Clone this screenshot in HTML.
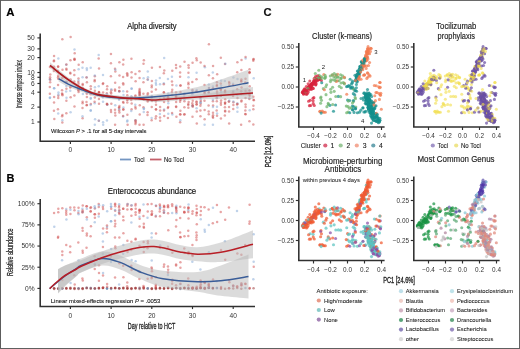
<!DOCTYPE html>
<html><head><meta charset="utf-8"><style>
html,body{margin:0;padding:0;background:#fff;}
#fig{position:absolute;left:0;top:0;width:520px;height:349px;overflow:hidden;background:#fff;}
svg{display:block;font-family:"Liberation Sans", sans-serif;filter:blur(0.35px);}
.bd{position:absolute;}
</style></head><body><div id="fig">
<svg width="520" height="349" viewBox="0 0 520 349">
<rect x="0" y="0" width="520" height="349" fill="#fff"/>
<text x="6.30" y="16.00" font-size="11.4" text-anchor="start" fill="#000" font-weight="bold" stroke="#000" stroke-width="0.16">A</text>
<text x="151.90" y="28.80" font-size="8.7" text-anchor="middle" fill="#111" font-weight="normal" textLength="49.5" lengthAdjust="spacingAndGlyphs" stroke="#111" stroke-width="0.16">Alpha diversity</text>
<circle cx="49.85" cy="97.94" r="1.25" fill="#7fa6d6" fill-opacity="0.48"/>
<circle cx="49.92" cy="67.05" r="1.25" fill="#c84646" fill-opacity="0.48"/>
<circle cx="50.27" cy="79.85" r="1.25" fill="#c84646" fill-opacity="0.48"/>
<circle cx="49.91" cy="79.00" r="1.25" fill="#c84646" fill-opacity="0.48"/>
<circle cx="50.07" cy="77.24" r="1.25" fill="#c84646" fill-opacity="0.48"/>
<circle cx="49.89" cy="93.63" r="1.25" fill="#c84646" fill-opacity="0.48"/>
<circle cx="50.11" cy="82.33" r="1.25" fill="#c84646" fill-opacity="0.48"/>
<circle cx="49.98" cy="97.53" r="1.25" fill="#7fa6d6" fill-opacity="0.48"/>
<circle cx="49.84" cy="79.45" r="1.25" fill="#7fa6d6" fill-opacity="0.48"/>
<circle cx="49.84" cy="87.10" r="1.25" fill="#c84646" fill-opacity="0.48"/>
<circle cx="50.27" cy="74.49" r="1.25" fill="#c84646" fill-opacity="0.48"/>
<circle cx="54.03" cy="88.29" r="1.25" fill="#7fa6d6" fill-opacity="0.48"/>
<circle cx="54.10" cy="96.90" r="1.25" fill="#c84646" fill-opacity="0.48"/>
<circle cx="53.90" cy="61.27" r="1.25" fill="#c84646" fill-opacity="0.48"/>
<circle cx="54.06" cy="102.48" r="1.25" fill="#c84646" fill-opacity="0.48"/>
<circle cx="53.95" cy="110.73" r="1.25" fill="#c84646" fill-opacity="0.48"/>
<circle cx="54.07" cy="55.88" r="1.25" fill="#c84646" fill-opacity="0.48"/>
<circle cx="54.31" cy="118.90" r="1.25" fill="#c84646" fill-opacity="0.48"/>
<circle cx="54.05" cy="66.65" r="1.25" fill="#c84646" fill-opacity="0.48"/>
<circle cx="53.99" cy="60.40" r="1.25" fill="#c84646" fill-opacity="0.48"/>
<circle cx="54.00" cy="68.89" r="1.25" fill="#c84646" fill-opacity="0.48"/>
<circle cx="54.22" cy="88.32" r="1.25" fill="#7fa6d6" fill-opacity="0.48"/>
<circle cx="53.90" cy="70.90" r="1.25" fill="#c84646" fill-opacity="0.48"/>
<circle cx="58.26" cy="98.10" r="1.25" fill="#c84646" fill-opacity="0.48"/>
<circle cx="57.97" cy="71.09" r="1.25" fill="#c84646" fill-opacity="0.48"/>
<circle cx="58.12" cy="75.67" r="1.25" fill="#c84646" fill-opacity="0.48"/>
<circle cx="58.11" cy="66.45" r="1.25" fill="#c84646" fill-opacity="0.48"/>
<circle cx="58.44" cy="92.48" r="1.25" fill="#7fa6d6" fill-opacity="0.48"/>
<circle cx="58.07" cy="85.04" r="1.25" fill="#c84646" fill-opacity="0.48"/>
<circle cx="58.20" cy="113.50" r="1.25" fill="#7fa6d6" fill-opacity="0.48"/>
<circle cx="58.20" cy="78.84" r="1.25" fill="#c84646" fill-opacity="0.48"/>
<circle cx="58.12" cy="66.69" r="1.25" fill="#c84646" fill-opacity="0.48"/>
<circle cx="58.05" cy="77.15" r="1.25" fill="#c84646" fill-opacity="0.48"/>
<circle cx="58.35" cy="58.59" r="1.25" fill="#7fa6d6" fill-opacity="0.48"/>
<circle cx="57.95" cy="109.15" r="1.25" fill="#c84646" fill-opacity="0.48"/>
<circle cx="58.29" cy="95.71" r="1.25" fill="#c84646" fill-opacity="0.48"/>
<circle cx="58.42" cy="94.44" r="1.25" fill="#7fa6d6" fill-opacity="0.48"/>
<circle cx="62.50" cy="69.65" r="1.25" fill="#c84646" fill-opacity="0.48"/>
<circle cx="62.33" cy="39.16" r="1.25" fill="#c84646" fill-opacity="0.48"/>
<circle cx="62.11" cy="116.27" r="1.25" fill="#c84646" fill-opacity="0.48"/>
<circle cx="62.48" cy="95.33" r="1.25" fill="#c84646" fill-opacity="0.48"/>
<circle cx="62.09" cy="93.38" r="1.25" fill="#c84646" fill-opacity="0.48"/>
<circle cx="62.34" cy="122.43" r="1.25" fill="#c84646" fill-opacity="0.48"/>
<circle cx="62.28" cy="94.15" r="1.25" fill="#c84646" fill-opacity="0.48"/>
<circle cx="62.06" cy="90.26" r="1.25" fill="#c84646" fill-opacity="0.48"/>
<circle cx="62.45" cy="114.98" r="1.25" fill="#c84646" fill-opacity="0.48"/>
<circle cx="62.28" cy="78.04" r="1.25" fill="#c84646" fill-opacity="0.48"/>
<circle cx="62.34" cy="120.21" r="1.25" fill="#7fa6d6" fill-opacity="0.48"/>
<circle cx="66.35" cy="68.66" r="1.25" fill="#c84646" fill-opacity="0.48"/>
<circle cx="66.48" cy="69.69" r="1.25" fill="#c84646" fill-opacity="0.48"/>
<circle cx="66.36" cy="82.28" r="1.25" fill="#c84646" fill-opacity="0.48"/>
<circle cx="66.36" cy="100.83" r="1.25" fill="#c84646" fill-opacity="0.48"/>
<circle cx="66.33" cy="85.91" r="1.25" fill="#7fa6d6" fill-opacity="0.48"/>
<circle cx="66.33" cy="82.11" r="1.25" fill="#c84646" fill-opacity="0.48"/>
<circle cx="66.35" cy="113.34" r="1.25" fill="#c84646" fill-opacity="0.48"/>
<circle cx="66.21" cy="64.67" r="1.25" fill="#7fa6d6" fill-opacity="0.48"/>
<circle cx="66.15" cy="91.39" r="1.25" fill="#7fa6d6" fill-opacity="0.48"/>
<circle cx="66.41" cy="88.80" r="1.25" fill="#c84646" fill-opacity="0.48"/>
<circle cx="66.41" cy="64.45" r="1.25" fill="#c84646" fill-opacity="0.48"/>
<circle cx="66.19" cy="82.12" r="1.25" fill="#7fa6d6" fill-opacity="0.48"/>
<circle cx="66.50" cy="97.71" r="1.25" fill="#7fa6d6" fill-opacity="0.48"/>
<circle cx="70.20" cy="72.68" r="1.25" fill="#c84646" fill-opacity="0.48"/>
<circle cx="70.50" cy="86.74" r="1.25" fill="#c84646" fill-opacity="0.48"/>
<circle cx="70.61" cy="97.33" r="1.25" fill="#c84646" fill-opacity="0.48"/>
<circle cx="70.29" cy="87.45" r="1.25" fill="#c84646" fill-opacity="0.48"/>
<circle cx="70.57" cy="112.16" r="1.25" fill="#7fa6d6" fill-opacity="0.48"/>
<circle cx="70.40" cy="73.40" r="1.25" fill="#c84646" fill-opacity="0.48"/>
<circle cx="70.24" cy="90.76" r="1.25" fill="#7fa6d6" fill-opacity="0.48"/>
<circle cx="70.45" cy="60.24" r="1.25" fill="#c84646" fill-opacity="0.48"/>
<circle cx="70.61" cy="36.98" r="1.25" fill="#c84646" fill-opacity="0.48"/>
<circle cx="70.62" cy="79.47" r="1.25" fill="#c84646" fill-opacity="0.48"/>
<circle cx="74.32" cy="74.94" r="1.25" fill="#c84646" fill-opacity="0.48"/>
<circle cx="74.62" cy="59.81" r="1.25" fill="#c84646" fill-opacity="0.48"/>
<circle cx="74.48" cy="49.53" r="1.25" fill="#7fa6d6" fill-opacity="0.48"/>
<circle cx="74.49" cy="106.39" r="1.25" fill="#c84646" fill-opacity="0.48"/>
<circle cx="74.33" cy="59.56" r="1.25" fill="#c84646" fill-opacity="0.48"/>
<circle cx="74.29" cy="81.53" r="1.25" fill="#c84646" fill-opacity="0.48"/>
<circle cx="74.53" cy="58.79" r="1.25" fill="#c84646" fill-opacity="0.48"/>
<circle cx="74.41" cy="95.54" r="1.25" fill="#c84646" fill-opacity="0.48"/>
<circle cx="74.31" cy="70.19" r="1.25" fill="#c84646" fill-opacity="0.48"/>
<circle cx="74.71" cy="53.17" r="1.25" fill="#c84646" fill-opacity="0.48"/>
<circle cx="78.48" cy="78.38" r="1.25" fill="#c84646" fill-opacity="0.48"/>
<circle cx="78.54" cy="92.05" r="1.25" fill="#c84646" fill-opacity="0.48"/>
<circle cx="78.30" cy="90.11" r="1.25" fill="#c84646" fill-opacity="0.48"/>
<circle cx="78.55" cy="83.83" r="1.25" fill="#c84646" fill-opacity="0.48"/>
<circle cx="78.48" cy="80.42" r="1.25" fill="#7fa6d6" fill-opacity="0.48"/>
<circle cx="78.31" cy="82.04" r="1.25" fill="#c84646" fill-opacity="0.48"/>
<circle cx="78.70" cy="64.79" r="1.25" fill="#c84646" fill-opacity="0.48"/>
<circle cx="78.71" cy="90.32" r="1.25" fill="#c84646" fill-opacity="0.48"/>
<circle cx="78.63" cy="69.16" r="1.25" fill="#7fa6d6" fill-opacity="0.48"/>
<circle cx="78.34" cy="89.17" r="1.25" fill="#c84646" fill-opacity="0.48"/>
<circle cx="78.63" cy="87.02" r="1.25" fill="#c84646" fill-opacity="0.48"/>
<circle cx="82.83" cy="87.94" r="1.25" fill="#c84646" fill-opacity="0.48"/>
<circle cx="82.60" cy="118.14" r="1.25" fill="#c84646" fill-opacity="0.48"/>
<circle cx="82.48" cy="67.84" r="1.25" fill="#7fa6d6" fill-opacity="0.48"/>
<circle cx="82.50" cy="116.25" r="1.25" fill="#7fa6d6" fill-opacity="0.48"/>
<circle cx="82.66" cy="84.91" r="1.25" fill="#c84646" fill-opacity="0.48"/>
<circle cx="82.60" cy="103.16" r="1.25" fill="#c84646" fill-opacity="0.48"/>
<circle cx="82.47" cy="107.97" r="1.25" fill="#c84646" fill-opacity="0.48"/>
<circle cx="82.86" cy="94.07" r="1.25" fill="#7fa6d6" fill-opacity="0.48"/>
<circle cx="82.60" cy="101.85" r="1.25" fill="#c84646" fill-opacity="0.48"/>
<circle cx="82.55" cy="77.21" r="1.25" fill="#7fa6d6" fill-opacity="0.48"/>
<circle cx="82.73" cy="62.21" r="1.25" fill="#c84646" fill-opacity="0.48"/>
<circle cx="82.68" cy="83.94" r="1.25" fill="#c84646" fill-opacity="0.48"/>
<circle cx="86.67" cy="77.36" r="1.25" fill="#7fa6d6" fill-opacity="0.48"/>
<circle cx="86.50" cy="77.44" r="1.25" fill="#c84646" fill-opacity="0.48"/>
<circle cx="86.43" cy="92.60" r="1.25" fill="#7fa6d6" fill-opacity="0.48"/>
<circle cx="86.79" cy="68.31" r="1.25" fill="#7fa6d6" fill-opacity="0.48"/>
<circle cx="86.93" cy="104.94" r="1.25" fill="#c84646" fill-opacity="0.48"/>
<circle cx="86.48" cy="101.99" r="1.25" fill="#c84646" fill-opacity="0.48"/>
<circle cx="86.56" cy="105.22" r="1.25" fill="#c84646" fill-opacity="0.48"/>
<circle cx="86.91" cy="82.13" r="1.25" fill="#c84646" fill-opacity="0.48"/>
<circle cx="86.90" cy="70.12" r="1.25" fill="#7fa6d6" fill-opacity="0.48"/>
<circle cx="86.81" cy="93.76" r="1.25" fill="#c84646" fill-opacity="0.48"/>
<circle cx="86.89" cy="97.12" r="1.25" fill="#c84646" fill-opacity="0.48"/>
<circle cx="90.83" cy="103.97" r="1.25" fill="#c84646" fill-opacity="0.48"/>
<circle cx="90.83" cy="89.10" r="1.25" fill="#c84646" fill-opacity="0.48"/>
<circle cx="90.78" cy="97.91" r="1.25" fill="#7fa6d6" fill-opacity="0.48"/>
<circle cx="90.71" cy="98.76" r="1.25" fill="#7fa6d6" fill-opacity="0.48"/>
<circle cx="90.68" cy="94.32" r="1.25" fill="#c84646" fill-opacity="0.48"/>
<circle cx="90.69" cy="110.79" r="1.25" fill="#7fa6d6" fill-opacity="0.48"/>
<circle cx="90.75" cy="110.26" r="1.25" fill="#7fa6d6" fill-opacity="0.48"/>
<circle cx="90.76" cy="86.37" r="1.25" fill="#c84646" fill-opacity="0.48"/>
<circle cx="90.69" cy="67.67" r="1.25" fill="#7fa6d6" fill-opacity="0.48"/>
<circle cx="90.56" cy="105.12" r="1.25" fill="#7fa6d6" fill-opacity="0.48"/>
<circle cx="94.86" cy="90.73" r="1.25" fill="#c84646" fill-opacity="0.48"/>
<circle cx="95.06" cy="119.21" r="1.25" fill="#7fa6d6" fill-opacity="0.48"/>
<circle cx="94.83" cy="76.30" r="1.25" fill="#c84646" fill-opacity="0.48"/>
<circle cx="94.80" cy="75.61" r="1.25" fill="#7fa6d6" fill-opacity="0.48"/>
<circle cx="94.69" cy="103.19" r="1.25" fill="#7fa6d6" fill-opacity="0.48"/>
<circle cx="94.70" cy="81.22" r="1.25" fill="#c84646" fill-opacity="0.48"/>
<circle cx="94.86" cy="97.58" r="1.25" fill="#c84646" fill-opacity="0.48"/>
<circle cx="94.58" cy="101.69" r="1.25" fill="#c84646" fill-opacity="0.48"/>
<circle cx="94.81" cy="124.76" r="1.25" fill="#7fa6d6" fill-opacity="0.48"/>
<circle cx="94.92" cy="87.28" r="1.25" fill="#7fa6d6" fill-opacity="0.48"/>
<circle cx="94.70" cy="80.00" r="1.25" fill="#c84646" fill-opacity="0.48"/>
<circle cx="94.59" cy="93.38" r="1.25" fill="#c84646" fill-opacity="0.48"/>
<circle cx="98.67" cy="55.02" r="1.25" fill="#7fa6d6" fill-opacity="0.48"/>
<circle cx="98.74" cy="86.21" r="1.25" fill="#7fa6d6" fill-opacity="0.48"/>
<circle cx="98.95" cy="99.05" r="1.25" fill="#c84646" fill-opacity="0.48"/>
<circle cx="98.94" cy="91.92" r="1.25" fill="#c84646" fill-opacity="0.48"/>
<circle cx="98.85" cy="120.64" r="1.25" fill="#c84646" fill-opacity="0.48"/>
<circle cx="99.00" cy="68.55" r="1.25" fill="#c84646" fill-opacity="0.48"/>
<circle cx="98.97" cy="92.30" r="1.25" fill="#c84646" fill-opacity="0.48"/>
<circle cx="99.00" cy="92.87" r="1.25" fill="#c84646" fill-opacity="0.48"/>
<circle cx="98.68" cy="58.58" r="1.25" fill="#c84646" fill-opacity="0.48"/>
<circle cx="98.83" cy="120.74" r="1.25" fill="#7fa6d6" fill-opacity="0.48"/>
<circle cx="98.99" cy="103.68" r="1.25" fill="#c84646" fill-opacity="0.48"/>
<circle cx="102.89" cy="83.96" r="1.25" fill="#c84646" fill-opacity="0.48"/>
<circle cx="103.09" cy="122.25" r="1.25" fill="#7fa6d6" fill-opacity="0.48"/>
<circle cx="103.08" cy="92.62" r="1.25" fill="#c84646" fill-opacity="0.48"/>
<circle cx="103.02" cy="101.66" r="1.25" fill="#7fa6d6" fill-opacity="0.48"/>
<circle cx="102.85" cy="96.26" r="1.25" fill="#c84646" fill-opacity="0.48"/>
<circle cx="102.72" cy="96.24" r="1.25" fill="#7fa6d6" fill-opacity="0.48"/>
<circle cx="103.19" cy="124.76" r="1.25" fill="#7fa6d6" fill-opacity="0.48"/>
<circle cx="102.80" cy="97.39" r="1.25" fill="#7fa6d6" fill-opacity="0.48"/>
<circle cx="103.01" cy="75.02" r="1.25" fill="#7fa6d6" fill-opacity="0.48"/>
<circle cx="103.10" cy="83.16" r="1.25" fill="#c84646" fill-opacity="0.48"/>
<circle cx="107.02" cy="104.31" r="1.25" fill="#c84646" fill-opacity="0.48"/>
<circle cx="106.83" cy="93.23" r="1.25" fill="#c84646" fill-opacity="0.48"/>
<circle cx="107.27" cy="104.65" r="1.25" fill="#7fa6d6" fill-opacity="0.48"/>
<circle cx="107.23" cy="104.62" r="1.25" fill="#c84646" fill-opacity="0.48"/>
<circle cx="106.93" cy="120.51" r="1.25" fill="#7fa6d6" fill-opacity="0.48"/>
<circle cx="106.91" cy="103.71" r="1.25" fill="#c84646" fill-opacity="0.48"/>
<circle cx="106.87" cy="94.35" r="1.25" fill="#7fa6d6" fill-opacity="0.48"/>
<circle cx="107.04" cy="89.20" r="1.25" fill="#c84646" fill-opacity="0.48"/>
<circle cx="107.22" cy="86.17" r="1.25" fill="#c84646" fill-opacity="0.48"/>
<circle cx="110.91" cy="63.29" r="1.25" fill="#c84646" fill-opacity="0.48"/>
<circle cx="111.32" cy="90.28" r="1.25" fill="#c84646" fill-opacity="0.48"/>
<circle cx="111.32" cy="89.37" r="1.25" fill="#7fa6d6" fill-opacity="0.48"/>
<circle cx="110.96" cy="109.93" r="1.25" fill="#c84646" fill-opacity="0.48"/>
<circle cx="111.18" cy="93.39" r="1.25" fill="#c84646" fill-opacity="0.48"/>
<circle cx="110.94" cy="54.11" r="1.25" fill="#c84646" fill-opacity="0.48"/>
<circle cx="110.90" cy="92.22" r="1.25" fill="#c84646" fill-opacity="0.48"/>
<circle cx="110.90" cy="76.33" r="1.25" fill="#c84646" fill-opacity="0.48"/>
<circle cx="111.33" cy="103.68" r="1.25" fill="#c84646" fill-opacity="0.48"/>
<circle cx="111.06" cy="111.98" r="1.25" fill="#c84646" fill-opacity="0.48"/>
<circle cx="115.00" cy="109.79" r="1.25" fill="#c84646" fill-opacity="0.48"/>
<circle cx="115.10" cy="90.66" r="1.25" fill="#c84646" fill-opacity="0.48"/>
<circle cx="115.32" cy="115.60" r="1.25" fill="#c84646" fill-opacity="0.48"/>
<circle cx="115.09" cy="124.76" r="1.25" fill="#c84646" fill-opacity="0.48"/>
<circle cx="115.11" cy="112.77" r="1.25" fill="#c84646" fill-opacity="0.48"/>
<circle cx="115.34" cy="71.44" r="1.25" fill="#c84646" fill-opacity="0.48"/>
<circle cx="114.96" cy="89.38" r="1.25" fill="#c84646" fill-opacity="0.48"/>
<circle cx="115.24" cy="105.31" r="1.25" fill="#7fa6d6" fill-opacity="0.48"/>
<circle cx="115.16" cy="82.85" r="1.25" fill="#c84646" fill-opacity="0.48"/>
<circle cx="114.99" cy="68.85" r="1.25" fill="#c84646" fill-opacity="0.48"/>
<circle cx="115.34" cy="69.87" r="1.25" fill="#7fa6d6" fill-opacity="0.48"/>
<circle cx="119.29" cy="91.31" r="1.25" fill="#c84646" fill-opacity="0.48"/>
<circle cx="119.20" cy="107.43" r="1.25" fill="#c84646" fill-opacity="0.48"/>
<circle cx="119.00" cy="107.64" r="1.25" fill="#c84646" fill-opacity="0.48"/>
<circle cx="119.22" cy="109.22" r="1.25" fill="#7fa6d6" fill-opacity="0.48"/>
<circle cx="119.05" cy="98.83" r="1.25" fill="#c84646" fill-opacity="0.48"/>
<circle cx="119.31" cy="87.39" r="1.25" fill="#c84646" fill-opacity="0.48"/>
<circle cx="119.25" cy="91.62" r="1.25" fill="#7fa6d6" fill-opacity="0.48"/>
<circle cx="119.42" cy="112.46" r="1.25" fill="#c84646" fill-opacity="0.48"/>
<circle cx="119.48" cy="75.45" r="1.25" fill="#c84646" fill-opacity="0.48"/>
<circle cx="119.07" cy="99.79" r="1.25" fill="#7fa6d6" fill-opacity="0.48"/>
<circle cx="119.37" cy="62.21" r="1.25" fill="#c84646" fill-opacity="0.48"/>
<circle cx="119.24" cy="90.96" r="1.25" fill="#c84646" fill-opacity="0.48"/>
<circle cx="119.15" cy="110.38" r="1.25" fill="#c84646" fill-opacity="0.48"/>
<circle cx="119.46" cy="105.95" r="1.25" fill="#c84646" fill-opacity="0.48"/>
<circle cx="123.08" cy="116.58" r="1.25" fill="#7fa6d6" fill-opacity="0.48"/>
<circle cx="123.40" cy="59.84" r="1.25" fill="#c84646" fill-opacity="0.48"/>
<circle cx="123.43" cy="107.46" r="1.25" fill="#7fa6d6" fill-opacity="0.48"/>
<circle cx="123.13" cy="83.15" r="1.25" fill="#c84646" fill-opacity="0.48"/>
<circle cx="123.21" cy="91.26" r="1.25" fill="#7fa6d6" fill-opacity="0.48"/>
<circle cx="123.50" cy="94.95" r="1.25" fill="#7fa6d6" fill-opacity="0.48"/>
<circle cx="123.17" cy="64.53" r="1.25" fill="#c84646" fill-opacity="0.48"/>
<circle cx="123.30" cy="109.44" r="1.25" fill="#c84646" fill-opacity="0.48"/>
<circle cx="123.34" cy="109.51" r="1.25" fill="#c84646" fill-opacity="0.48"/>
<circle cx="123.13" cy="115.98" r="1.25" fill="#c84646" fill-opacity="0.48"/>
<circle cx="123.07" cy="102.05" r="1.25" fill="#c84646" fill-opacity="0.48"/>
<circle cx="123.13" cy="77.09" r="1.25" fill="#c84646" fill-opacity="0.48"/>
<circle cx="123.47" cy="102.69" r="1.25" fill="#c84646" fill-opacity="0.48"/>
<circle cx="123.32" cy="84.61" r="1.25" fill="#c84646" fill-opacity="0.48"/>
<circle cx="127.40" cy="75.68" r="1.25" fill="#c84646" fill-opacity="0.48"/>
<circle cx="127.41" cy="99.51" r="1.25" fill="#c84646" fill-opacity="0.48"/>
<circle cx="127.38" cy="114.78" r="1.25" fill="#c84646" fill-opacity="0.48"/>
<circle cx="127.28" cy="95.25" r="1.25" fill="#c84646" fill-opacity="0.48"/>
<circle cx="127.13" cy="73.17" r="1.25" fill="#c84646" fill-opacity="0.48"/>
<circle cx="127.36" cy="74.57" r="1.25" fill="#c84646" fill-opacity="0.48"/>
<circle cx="127.15" cy="91.47" r="1.25" fill="#c84646" fill-opacity="0.48"/>
<circle cx="127.26" cy="99.91" r="1.25" fill="#c84646" fill-opacity="0.48"/>
<circle cx="127.39" cy="120.42" r="1.25" fill="#7fa6d6" fill-opacity="0.48"/>
<circle cx="127.14" cy="121.56" r="1.25" fill="#7fa6d6" fill-opacity="0.48"/>
<circle cx="127.60" cy="124.76" r="1.25" fill="#c84646" fill-opacity="0.48"/>
<circle cx="127.25" cy="102.47" r="1.25" fill="#c84646" fill-opacity="0.48"/>
<circle cx="131.44" cy="58.80" r="1.25" fill="#c84646" fill-opacity="0.48"/>
<circle cx="131.64" cy="96.97" r="1.25" fill="#c84646" fill-opacity="0.48"/>
<circle cx="131.29" cy="98.16" r="1.25" fill="#c84646" fill-opacity="0.48"/>
<circle cx="131.28" cy="99.94" r="1.25" fill="#c84646" fill-opacity="0.48"/>
<circle cx="131.52" cy="77.54" r="1.25" fill="#c84646" fill-opacity="0.48"/>
<circle cx="131.30" cy="96.31" r="1.25" fill="#7fa6d6" fill-opacity="0.48"/>
<circle cx="131.58" cy="88.66" r="1.25" fill="#7fa6d6" fill-opacity="0.48"/>
<circle cx="131.30" cy="98.36" r="1.25" fill="#c84646" fill-opacity="0.48"/>
<circle cx="131.58" cy="72.20" r="1.25" fill="#c84646" fill-opacity="0.48"/>
<circle cx="131.60" cy="109.26" r="1.25" fill="#c84646" fill-opacity="0.48"/>
<circle cx="131.67" cy="103.40" r="1.25" fill="#c84646" fill-opacity="0.48"/>
<circle cx="131.58" cy="88.45" r="1.25" fill="#7fa6d6" fill-opacity="0.48"/>
<circle cx="131.22" cy="110.93" r="1.25" fill="#7fa6d6" fill-opacity="0.48"/>
<circle cx="131.22" cy="98.42" r="1.25" fill="#c84646" fill-opacity="0.48"/>
<circle cx="135.27" cy="96.49" r="1.25" fill="#c84646" fill-opacity="0.48"/>
<circle cx="135.27" cy="104.70" r="1.25" fill="#7fa6d6" fill-opacity="0.48"/>
<circle cx="135.44" cy="124.04" r="1.25" fill="#c84646" fill-opacity="0.48"/>
<circle cx="135.38" cy="106.89" r="1.25" fill="#c84646" fill-opacity="0.48"/>
<circle cx="135.59" cy="98.99" r="1.25" fill="#c84646" fill-opacity="0.48"/>
<circle cx="135.45" cy="95.40" r="1.25" fill="#c84646" fill-opacity="0.48"/>
<circle cx="135.31" cy="120.30" r="1.25" fill="#7fa6d6" fill-opacity="0.48"/>
<circle cx="135.72" cy="122.59" r="1.25" fill="#c84646" fill-opacity="0.48"/>
<circle cx="135.54" cy="120.36" r="1.25" fill="#c84646" fill-opacity="0.48"/>
<circle cx="135.43" cy="74.05" r="1.25" fill="#c84646" fill-opacity="0.48"/>
<circle cx="135.64" cy="81.22" r="1.25" fill="#c84646" fill-opacity="0.48"/>
<circle cx="135.50" cy="121.57" r="1.25" fill="#c84646" fill-opacity="0.48"/>
<circle cx="135.62" cy="108.40" r="1.25" fill="#c84646" fill-opacity="0.48"/>
<circle cx="139.50" cy="91.84" r="1.25" fill="#c84646" fill-opacity="0.48"/>
<circle cx="139.70" cy="94.14" r="1.25" fill="#7fa6d6" fill-opacity="0.48"/>
<circle cx="139.53" cy="90.38" r="1.25" fill="#c84646" fill-opacity="0.48"/>
<circle cx="139.44" cy="71.26" r="1.25" fill="#c84646" fill-opacity="0.48"/>
<circle cx="139.54" cy="93.36" r="1.25" fill="#c84646" fill-opacity="0.48"/>
<circle cx="139.57" cy="78.02" r="1.25" fill="#c84646" fill-opacity="0.48"/>
<circle cx="139.71" cy="94.82" r="1.25" fill="#c84646" fill-opacity="0.48"/>
<circle cx="139.55" cy="95.59" r="1.25" fill="#c84646" fill-opacity="0.48"/>
<circle cx="139.77" cy="105.23" r="1.25" fill="#c84646" fill-opacity="0.48"/>
<circle cx="139.50" cy="124.76" r="1.25" fill="#c84646" fill-opacity="0.48"/>
<circle cx="139.65" cy="89.10" r="1.25" fill="#c84646" fill-opacity="0.48"/>
<circle cx="139.65" cy="92.43" r="1.25" fill="#c84646" fill-opacity="0.48"/>
<circle cx="139.73" cy="114.39" r="1.25" fill="#c84646" fill-opacity="0.48"/>
<circle cx="143.52" cy="63.70" r="1.25" fill="#c84646" fill-opacity="0.48"/>
<circle cx="143.58" cy="124.76" r="1.25" fill="#c84646" fill-opacity="0.48"/>
<circle cx="143.42" cy="93.81" r="1.25" fill="#c84646" fill-opacity="0.48"/>
<circle cx="143.64" cy="99.60" r="1.25" fill="#c84646" fill-opacity="0.48"/>
<circle cx="143.77" cy="112.01" r="1.25" fill="#7fa6d6" fill-opacity="0.48"/>
<circle cx="143.45" cy="107.26" r="1.25" fill="#c84646" fill-opacity="0.48"/>
<circle cx="143.46" cy="82.35" r="1.25" fill="#c84646" fill-opacity="0.48"/>
<circle cx="143.90" cy="108.40" r="1.25" fill="#7fa6d6" fill-opacity="0.48"/>
<circle cx="143.87" cy="60.19" r="1.25" fill="#c84646" fill-opacity="0.48"/>
<circle cx="143.82" cy="98.04" r="1.25" fill="#c84646" fill-opacity="0.48"/>
<circle cx="143.81" cy="108.99" r="1.25" fill="#7fa6d6" fill-opacity="0.48"/>
<circle cx="143.64" cy="78.13" r="1.25" fill="#7fa6d6" fill-opacity="0.48"/>
<circle cx="147.69" cy="101.40" r="1.25" fill="#c84646" fill-opacity="0.48"/>
<circle cx="147.63" cy="79.52" r="1.25" fill="#c84646" fill-opacity="0.48"/>
<circle cx="147.81" cy="100.49" r="1.25" fill="#c84646" fill-opacity="0.48"/>
<circle cx="147.93" cy="77.25" r="1.25" fill="#7fa6d6" fill-opacity="0.48"/>
<circle cx="147.49" cy="114.91" r="1.25" fill="#c84646" fill-opacity="0.48"/>
<circle cx="147.61" cy="112.19" r="1.25" fill="#c84646" fill-opacity="0.48"/>
<circle cx="147.56" cy="94.78" r="1.25" fill="#c84646" fill-opacity="0.48"/>
<circle cx="147.78" cy="71.47" r="1.25" fill="#7fa6d6" fill-opacity="0.48"/>
<circle cx="147.90" cy="79.69" r="1.25" fill="#7fa6d6" fill-opacity="0.48"/>
<circle cx="147.85" cy="93.25" r="1.25" fill="#c84646" fill-opacity="0.48"/>
<circle cx="151.79" cy="96.08" r="1.25" fill="#7fa6d6" fill-opacity="0.48"/>
<circle cx="151.90" cy="96.56" r="1.25" fill="#7fa6d6" fill-opacity="0.48"/>
<circle cx="151.71" cy="91.83" r="1.25" fill="#c84646" fill-opacity="0.48"/>
<circle cx="151.78" cy="85.54" r="1.25" fill="#c84646" fill-opacity="0.48"/>
<circle cx="151.87" cy="81.03" r="1.25" fill="#c84646" fill-opacity="0.48"/>
<circle cx="152.05" cy="101.06" r="1.25" fill="#c84646" fill-opacity="0.48"/>
<circle cx="151.62" cy="118.00" r="1.25" fill="#7fa6d6" fill-opacity="0.48"/>
<circle cx="151.72" cy="107.05" r="1.25" fill="#c84646" fill-opacity="0.48"/>
<circle cx="151.72" cy="87.32" r="1.25" fill="#c84646" fill-opacity="0.48"/>
<circle cx="151.73" cy="97.54" r="1.25" fill="#c84646" fill-opacity="0.48"/>
<circle cx="151.65" cy="120.35" r="1.25" fill="#c84646" fill-opacity="0.48"/>
<circle cx="151.91" cy="67.81" r="1.25" fill="#c84646" fill-opacity="0.48"/>
<circle cx="156.06" cy="116.37" r="1.25" fill="#c84646" fill-opacity="0.48"/>
<circle cx="155.62" cy="118.41" r="1.25" fill="#c84646" fill-opacity="0.48"/>
<circle cx="156.07" cy="84.81" r="1.25" fill="#7fa6d6" fill-opacity="0.48"/>
<circle cx="155.97" cy="109.56" r="1.25" fill="#c84646" fill-opacity="0.48"/>
<circle cx="156.00" cy="104.78" r="1.25" fill="#c84646" fill-opacity="0.48"/>
<circle cx="156.01" cy="109.27" r="1.25" fill="#c84646" fill-opacity="0.48"/>
<circle cx="156.01" cy="80.54" r="1.25" fill="#7fa6d6" fill-opacity="0.48"/>
<circle cx="155.84" cy="101.47" r="1.25" fill="#c84646" fill-opacity="0.48"/>
<circle cx="155.90" cy="89.61" r="1.25" fill="#c84646" fill-opacity="0.48"/>
<circle cx="155.84" cy="83.05" r="1.25" fill="#7fa6d6" fill-opacity="0.48"/>
<circle cx="160.02" cy="84.24" r="1.25" fill="#7fa6d6" fill-opacity="0.48"/>
<circle cx="160.14" cy="98.66" r="1.25" fill="#c84646" fill-opacity="0.48"/>
<circle cx="160.02" cy="117.45" r="1.25" fill="#c84646" fill-opacity="0.48"/>
<circle cx="159.93" cy="67.02" r="1.25" fill="#c84646" fill-opacity="0.48"/>
<circle cx="159.87" cy="114.01" r="1.25" fill="#7fa6d6" fill-opacity="0.48"/>
<circle cx="159.84" cy="77.93" r="1.25" fill="#7fa6d6" fill-opacity="0.48"/>
<circle cx="160.14" cy="106.89" r="1.25" fill="#c84646" fill-opacity="0.48"/>
<circle cx="160.13" cy="120.76" r="1.25" fill="#c84646" fill-opacity="0.48"/>
<circle cx="160.17" cy="110.51" r="1.25" fill="#c84646" fill-opacity="0.48"/>
<circle cx="164.12" cy="109.56" r="1.25" fill="#7fa6d6" fill-opacity="0.48"/>
<circle cx="163.84" cy="83.20" r="1.25" fill="#7fa6d6" fill-opacity="0.48"/>
<circle cx="163.90" cy="92.46" r="1.25" fill="#c84646" fill-opacity="0.48"/>
<circle cx="164.09" cy="102.00" r="1.25" fill="#c84646" fill-opacity="0.48"/>
<circle cx="163.77" cy="84.26" r="1.25" fill="#c84646" fill-opacity="0.48"/>
<circle cx="164.25" cy="70.54" r="1.25" fill="#c84646" fill-opacity="0.48"/>
<circle cx="163.99" cy="110.45" r="1.25" fill="#c84646" fill-opacity="0.48"/>
<circle cx="163.84" cy="92.18" r="1.25" fill="#c84646" fill-opacity="0.48"/>
<circle cx="163.83" cy="73.36" r="1.25" fill="#c84646" fill-opacity="0.48"/>
<circle cx="164.16" cy="58.06" r="1.25" fill="#7fa6d6" fill-opacity="0.48"/>
<circle cx="164.00" cy="97.95" r="1.25" fill="#c84646" fill-opacity="0.48"/>
<circle cx="164.25" cy="116.08" r="1.25" fill="#c84646" fill-opacity="0.48"/>
<circle cx="168.21" cy="107.01" r="1.25" fill="#c84646" fill-opacity="0.48"/>
<circle cx="168.22" cy="93.61" r="1.25" fill="#7fa6d6" fill-opacity="0.48"/>
<circle cx="168.27" cy="113.87" r="1.25" fill="#7fa6d6" fill-opacity="0.48"/>
<circle cx="167.92" cy="118.06" r="1.25" fill="#c84646" fill-opacity="0.48"/>
<circle cx="168.03" cy="97.85" r="1.25" fill="#c84646" fill-opacity="0.48"/>
<circle cx="167.88" cy="98.07" r="1.25" fill="#c84646" fill-opacity="0.48"/>
<circle cx="168.13" cy="97.21" r="1.25" fill="#c84646" fill-opacity="0.48"/>
<circle cx="168.26" cy="103.16" r="1.25" fill="#7fa6d6" fill-opacity="0.48"/>
<circle cx="168.22" cy="100.79" r="1.25" fill="#c84646" fill-opacity="0.48"/>
<circle cx="167.96" cy="78.96" r="1.25" fill="#7fa6d6" fill-opacity="0.48"/>
<circle cx="167.87" cy="107.97" r="1.25" fill="#c84646" fill-opacity="0.48"/>
<circle cx="172.35" cy="114.55" r="1.25" fill="#7fa6d6" fill-opacity="0.48"/>
<circle cx="171.94" cy="81.60" r="1.25" fill="#c84646" fill-opacity="0.48"/>
<circle cx="172.36" cy="85.07" r="1.25" fill="#c84646" fill-opacity="0.48"/>
<circle cx="172.26" cy="89.65" r="1.25" fill="#c84646" fill-opacity="0.48"/>
<circle cx="171.93" cy="76.63" r="1.25" fill="#7fa6d6" fill-opacity="0.48"/>
<circle cx="172.27" cy="70.85" r="1.25" fill="#c84646" fill-opacity="0.48"/>
<circle cx="171.90" cy="92.03" r="1.25" fill="#c84646" fill-opacity="0.48"/>
<circle cx="172.12" cy="95.12" r="1.25" fill="#c84646" fill-opacity="0.48"/>
<circle cx="172.09" cy="112.95" r="1.25" fill="#c84646" fill-opacity="0.48"/>
<circle cx="175.98" cy="97.81" r="1.25" fill="#c84646" fill-opacity="0.48"/>
<circle cx="176.44" cy="98.94" r="1.25" fill="#c84646" fill-opacity="0.48"/>
<circle cx="176.02" cy="65.00" r="1.25" fill="#c84646" fill-opacity="0.48"/>
<circle cx="176.14" cy="68.10" r="1.25" fill="#c84646" fill-opacity="0.48"/>
<circle cx="176.08" cy="92.42" r="1.25" fill="#c84646" fill-opacity="0.48"/>
<circle cx="176.04" cy="96.76" r="1.25" fill="#c84646" fill-opacity="0.48"/>
<circle cx="176.11" cy="106.50" r="1.25" fill="#c84646" fill-opacity="0.48"/>
<circle cx="176.13" cy="101.96" r="1.25" fill="#c84646" fill-opacity="0.48"/>
<circle cx="176.42" cy="116.66" r="1.25" fill="#c84646" fill-opacity="0.48"/>
<circle cx="176.07" cy="96.49" r="1.25" fill="#c84646" fill-opacity="0.48"/>
<circle cx="176.43" cy="85.42" r="1.25" fill="#7fa6d6" fill-opacity="0.48"/>
<circle cx="176.12" cy="107.12" r="1.25" fill="#c84646" fill-opacity="0.48"/>
<circle cx="180.11" cy="72.49" r="1.25" fill="#c84646" fill-opacity="0.48"/>
<circle cx="180.50" cy="91.96" r="1.25" fill="#c84646" fill-opacity="0.48"/>
<circle cx="180.13" cy="114.20" r="1.25" fill="#c84646" fill-opacity="0.48"/>
<circle cx="180.08" cy="76.81" r="1.25" fill="#c84646" fill-opacity="0.48"/>
<circle cx="180.39" cy="110.68" r="1.25" fill="#c84646" fill-opacity="0.48"/>
<circle cx="180.41" cy="85.39" r="1.25" fill="#c84646" fill-opacity="0.48"/>
<circle cx="180.45" cy="99.71" r="1.25" fill="#c84646" fill-opacity="0.48"/>
<circle cx="180.50" cy="85.46" r="1.25" fill="#c84646" fill-opacity="0.48"/>
<circle cx="180.13" cy="122.36" r="1.25" fill="#c84646" fill-opacity="0.48"/>
<circle cx="180.34" cy="99.79" r="1.25" fill="#c84646" fill-opacity="0.48"/>
<circle cx="180.40" cy="114.39" r="1.25" fill="#c84646" fill-opacity="0.48"/>
<circle cx="180.23" cy="66.55" r="1.25" fill="#c84646" fill-opacity="0.48"/>
<circle cx="180.29" cy="120.19" r="1.25" fill="#7fa6d6" fill-opacity="0.48"/>
<circle cx="180.05" cy="101.81" r="1.25" fill="#c84646" fill-opacity="0.48"/>
<circle cx="184.13" cy="97.31" r="1.25" fill="#7fa6d6" fill-opacity="0.48"/>
<circle cx="184.12" cy="94.21" r="1.25" fill="#c84646" fill-opacity="0.48"/>
<circle cx="184.54" cy="114.26" r="1.25" fill="#c84646" fill-opacity="0.48"/>
<circle cx="184.36" cy="107.37" r="1.25" fill="#c84646" fill-opacity="0.48"/>
<circle cx="184.41" cy="101.13" r="1.25" fill="#c84646" fill-opacity="0.48"/>
<circle cx="184.19" cy="114.45" r="1.25" fill="#c84646" fill-opacity="0.48"/>
<circle cx="184.53" cy="61.74" r="1.25" fill="#c84646" fill-opacity="0.48"/>
<circle cx="184.50" cy="93.18" r="1.25" fill="#7fa6d6" fill-opacity="0.48"/>
<circle cx="184.51" cy="99.14" r="1.25" fill="#7fa6d6" fill-opacity="0.48"/>
<circle cx="188.66" cy="67.74" r="1.25" fill="#c84646" fill-opacity="0.48"/>
<circle cx="188.36" cy="107.65" r="1.25" fill="#c84646" fill-opacity="0.48"/>
<circle cx="188.43" cy="87.69" r="1.25" fill="#c84646" fill-opacity="0.48"/>
<circle cx="188.50" cy="77.13" r="1.25" fill="#7fa6d6" fill-opacity="0.48"/>
<circle cx="188.50" cy="65.29" r="1.25" fill="#c84646" fill-opacity="0.48"/>
<circle cx="188.45" cy="72.63" r="1.25" fill="#c84646" fill-opacity="0.48"/>
<circle cx="188.40" cy="82.84" r="1.25" fill="#c84646" fill-opacity="0.48"/>
<circle cx="188.24" cy="105.10" r="1.25" fill="#c84646" fill-opacity="0.48"/>
<circle cx="188.45" cy="84.31" r="1.25" fill="#c84646" fill-opacity="0.48"/>
<circle cx="188.33" cy="104.08" r="1.25" fill="#c84646" fill-opacity="0.48"/>
<circle cx="188.60" cy="102.09" r="1.25" fill="#c84646" fill-opacity="0.48"/>
<circle cx="192.52" cy="89.90" r="1.25" fill="#c84646" fill-opacity="0.48"/>
<circle cx="192.27" cy="90.74" r="1.25" fill="#7fa6d6" fill-opacity="0.48"/>
<circle cx="192.73" cy="106.70" r="1.25" fill="#c84646" fill-opacity="0.48"/>
<circle cx="192.41" cy="92.52" r="1.25" fill="#c84646" fill-opacity="0.48"/>
<circle cx="192.28" cy="103.21" r="1.25" fill="#c84646" fill-opacity="0.48"/>
<circle cx="192.51" cy="116.84" r="1.25" fill="#c84646" fill-opacity="0.48"/>
<circle cx="192.74" cy="100.65" r="1.25" fill="#c84646" fill-opacity="0.48"/>
<circle cx="192.58" cy="105.32" r="1.25" fill="#c84646" fill-opacity="0.48"/>
<circle cx="192.30" cy="94.18" r="1.25" fill="#7fa6d6" fill-opacity="0.48"/>
<circle cx="192.57" cy="62.78" r="1.25" fill="#c84646" fill-opacity="0.48"/>
<circle cx="192.30" cy="82.06" r="1.25" fill="#c84646" fill-opacity="0.48"/>
<circle cx="192.32" cy="105.91" r="1.25" fill="#7fa6d6" fill-opacity="0.48"/>
<circle cx="192.68" cy="105.64" r="1.25" fill="#c84646" fill-opacity="0.48"/>
<circle cx="196.52" cy="101.40" r="1.25" fill="#c84646" fill-opacity="0.48"/>
<circle cx="196.57" cy="108.14" r="1.25" fill="#7fa6d6" fill-opacity="0.48"/>
<circle cx="196.39" cy="91.54" r="1.25" fill="#c84646" fill-opacity="0.48"/>
<circle cx="196.74" cy="104.33" r="1.25" fill="#c84646" fill-opacity="0.48"/>
<circle cx="196.78" cy="60.33" r="1.25" fill="#c84646" fill-opacity="0.48"/>
<circle cx="196.57" cy="102.15" r="1.25" fill="#c84646" fill-opacity="0.48"/>
<circle cx="196.58" cy="72.69" r="1.25" fill="#7fa6d6" fill-opacity="0.48"/>
<circle cx="196.50" cy="104.58" r="1.25" fill="#c84646" fill-opacity="0.48"/>
<circle cx="196.51" cy="79.16" r="1.25" fill="#c84646" fill-opacity="0.48"/>
<circle cx="196.76" cy="111.51" r="1.25" fill="#c84646" fill-opacity="0.48"/>
<circle cx="196.82" cy="91.81" r="1.25" fill="#c84646" fill-opacity="0.48"/>
<circle cx="196.81" cy="123.44" r="1.25" fill="#c84646" fill-opacity="0.48"/>
<circle cx="196.66" cy="90.09" r="1.25" fill="#7fa6d6" fill-opacity="0.48"/>
<circle cx="196.40" cy="58.23" r="1.25" fill="#c84646" fill-opacity="0.48"/>
<circle cx="200.42" cy="110.41" r="1.25" fill="#c84646" fill-opacity="0.48"/>
<circle cx="200.71" cy="103.73" r="1.25" fill="#c84646" fill-opacity="0.48"/>
<circle cx="200.67" cy="62.45" r="1.25" fill="#c84646" fill-opacity="0.48"/>
<circle cx="200.40" cy="97.76" r="1.25" fill="#c84646" fill-opacity="0.48"/>
<circle cx="200.65" cy="97.06" r="1.25" fill="#7fa6d6" fill-opacity="0.48"/>
<circle cx="200.46" cy="116.24" r="1.25" fill="#c84646" fill-opacity="0.48"/>
<circle cx="200.64" cy="102.34" r="1.25" fill="#7fa6d6" fill-opacity="0.48"/>
<circle cx="200.72" cy="99.30" r="1.25" fill="#7fa6d6" fill-opacity="0.48"/>
<circle cx="200.41" cy="105.65" r="1.25" fill="#c84646" fill-opacity="0.48"/>
<circle cx="200.42" cy="102.64" r="1.25" fill="#7fa6d6" fill-opacity="0.48"/>
<circle cx="200.77" cy="100.99" r="1.25" fill="#c84646" fill-opacity="0.48"/>
<circle cx="204.48" cy="100.74" r="1.25" fill="#c84646" fill-opacity="0.48"/>
<circle cx="204.87" cy="67.27" r="1.25" fill="#7fa6d6" fill-opacity="0.48"/>
<circle cx="204.58" cy="124.76" r="1.25" fill="#7fa6d6" fill-opacity="0.48"/>
<circle cx="204.61" cy="119.21" r="1.25" fill="#c84646" fill-opacity="0.48"/>
<circle cx="204.55" cy="91.97" r="1.25" fill="#c84646" fill-opacity="0.48"/>
<circle cx="204.52" cy="85.06" r="1.25" fill="#c84646" fill-opacity="0.48"/>
<circle cx="204.49" cy="66.08" r="1.25" fill="#c84646" fill-opacity="0.48"/>
<circle cx="204.60" cy="93.19" r="1.25" fill="#c84646" fill-opacity="0.48"/>
<circle cx="204.63" cy="109.90" r="1.25" fill="#c84646" fill-opacity="0.48"/>
<circle cx="208.81" cy="92.61" r="1.25" fill="#7fa6d6" fill-opacity="0.48"/>
<circle cx="208.71" cy="92.23" r="1.25" fill="#c84646" fill-opacity="0.48"/>
<circle cx="208.77" cy="114.20" r="1.25" fill="#c84646" fill-opacity="0.48"/>
<circle cx="209.00" cy="88.10" r="1.25" fill="#c84646" fill-opacity="0.48"/>
<circle cx="208.80" cy="84.53" r="1.25" fill="#7fa6d6" fill-opacity="0.48"/>
<circle cx="208.58" cy="105.54" r="1.25" fill="#c84646" fill-opacity="0.48"/>
<circle cx="208.89" cy="75.19" r="1.25" fill="#c84646" fill-opacity="0.48"/>
<circle cx="208.92" cy="44.26" r="1.25" fill="#c84646" fill-opacity="0.48"/>
<circle cx="208.93" cy="88.03" r="1.25" fill="#7fa6d6" fill-opacity="0.48"/>
<circle cx="208.67" cy="111.41" r="1.25" fill="#c84646" fill-opacity="0.48"/>
<circle cx="212.83" cy="72.40" r="1.25" fill="#7fa6d6" fill-opacity="0.48"/>
<circle cx="212.78" cy="116.79" r="1.25" fill="#c84646" fill-opacity="0.48"/>
<circle cx="212.95" cy="78.19" r="1.25" fill="#c84646" fill-opacity="0.48"/>
<circle cx="213.05" cy="117.65" r="1.25" fill="#c84646" fill-opacity="0.48"/>
<circle cx="212.94" cy="101.15" r="1.25" fill="#c84646" fill-opacity="0.48"/>
<circle cx="212.98" cy="88.17" r="1.25" fill="#c84646" fill-opacity="0.48"/>
<circle cx="212.88" cy="99.66" r="1.25" fill="#7fa6d6" fill-opacity="0.48"/>
<circle cx="213.06" cy="115.28" r="1.25" fill="#c84646" fill-opacity="0.48"/>
<circle cx="212.93" cy="124.76" r="1.25" fill="#7fa6d6" fill-opacity="0.48"/>
<circle cx="213.09" cy="65.91" r="1.25" fill="#c84646" fill-opacity="0.48"/>
<circle cx="212.99" cy="112.65" r="1.25" fill="#c84646" fill-opacity="0.48"/>
<circle cx="212.91" cy="86.55" r="1.25" fill="#7fa6d6" fill-opacity="0.48"/>
<circle cx="213.07" cy="105.57" r="1.25" fill="#c84646" fill-opacity="0.48"/>
<circle cx="212.91" cy="106.89" r="1.25" fill="#7fa6d6" fill-opacity="0.48"/>
<circle cx="216.93" cy="84.88" r="1.25" fill="#c84646" fill-opacity="0.48"/>
<circle cx="217.02" cy="115.76" r="1.25" fill="#c84646" fill-opacity="0.48"/>
<circle cx="216.99" cy="106.85" r="1.25" fill="#7fa6d6" fill-opacity="0.48"/>
<circle cx="216.77" cy="98.18" r="1.25" fill="#c84646" fill-opacity="0.48"/>
<circle cx="217.01" cy="93.52" r="1.25" fill="#c84646" fill-opacity="0.48"/>
<circle cx="216.85" cy="97.35" r="1.25" fill="#7fa6d6" fill-opacity="0.48"/>
<circle cx="216.95" cy="82.15" r="1.25" fill="#c84646" fill-opacity="0.48"/>
<circle cx="217.00" cy="91.47" r="1.25" fill="#c84646" fill-opacity="0.48"/>
<circle cx="217.09" cy="113.60" r="1.25" fill="#7fa6d6" fill-opacity="0.48"/>
<circle cx="216.81" cy="101.27" r="1.25" fill="#c84646" fill-opacity="0.48"/>
<circle cx="216.73" cy="85.96" r="1.25" fill="#c84646" fill-opacity="0.48"/>
<circle cx="216.68" cy="110.61" r="1.25" fill="#c84646" fill-opacity="0.48"/>
<circle cx="217.16" cy="74.22" r="1.25" fill="#c84646" fill-opacity="0.48"/>
<circle cx="220.98" cy="95.48" r="1.25" fill="#7fa6d6" fill-opacity="0.48"/>
<circle cx="220.88" cy="102.81" r="1.25" fill="#c84646" fill-opacity="0.48"/>
<circle cx="221.11" cy="100.47" r="1.25" fill="#c84646" fill-opacity="0.48"/>
<circle cx="220.92" cy="118.48" r="1.25" fill="#c84646" fill-opacity="0.48"/>
<circle cx="220.79" cy="89.23" r="1.25" fill="#c84646" fill-opacity="0.48"/>
<circle cx="220.92" cy="104.79" r="1.25" fill="#c84646" fill-opacity="0.48"/>
<circle cx="221.16" cy="80.79" r="1.25" fill="#7fa6d6" fill-opacity="0.48"/>
<circle cx="221.24" cy="92.02" r="1.25" fill="#7fa6d6" fill-opacity="0.48"/>
<circle cx="220.95" cy="95.70" r="1.25" fill="#c84646" fill-opacity="0.48"/>
<circle cx="220.81" cy="57.87" r="1.25" fill="#c84646" fill-opacity="0.48"/>
<circle cx="221.17" cy="85.70" r="1.25" fill="#7fa6d6" fill-opacity="0.48"/>
<circle cx="220.76" cy="83.46" r="1.25" fill="#c84646" fill-opacity="0.48"/>
<circle cx="220.77" cy="89.96" r="1.25" fill="#c84646" fill-opacity="0.48"/>
<circle cx="225.14" cy="111.54" r="1.25" fill="#c84646" fill-opacity="0.48"/>
<circle cx="225.03" cy="63.98" r="1.25" fill="#c84646" fill-opacity="0.48"/>
<circle cx="225.04" cy="102.81" r="1.25" fill="#c84646" fill-opacity="0.48"/>
<circle cx="225.29" cy="63.67" r="1.25" fill="#7fa6d6" fill-opacity="0.48"/>
<circle cx="225.15" cy="90.55" r="1.25" fill="#c84646" fill-opacity="0.48"/>
<circle cx="225.13" cy="102.78" r="1.25" fill="#c84646" fill-opacity="0.48"/>
<circle cx="224.82" cy="81.12" r="1.25" fill="#7fa6d6" fill-opacity="0.48"/>
<circle cx="225.00" cy="104.02" r="1.25" fill="#c84646" fill-opacity="0.48"/>
<circle cx="225.09" cy="110.82" r="1.25" fill="#c84646" fill-opacity="0.48"/>
<circle cx="224.87" cy="91.39" r="1.25" fill="#c84646" fill-opacity="0.48"/>
<circle cx="224.94" cy="107.36" r="1.25" fill="#c84646" fill-opacity="0.48"/>
<circle cx="225.10" cy="92.19" r="1.25" fill="#c84646" fill-opacity="0.48"/>
<circle cx="224.85" cy="115.44" r="1.25" fill="#c84646" fill-opacity="0.48"/>
<circle cx="225.17" cy="99.20" r="1.25" fill="#c84646" fill-opacity="0.48"/>
<circle cx="229.15" cy="81.94" r="1.25" fill="#c84646" fill-opacity="0.48"/>
<circle cx="229.07" cy="111.49" r="1.25" fill="#c84646" fill-opacity="0.48"/>
<circle cx="228.90" cy="101.45" r="1.25" fill="#c84646" fill-opacity="0.48"/>
<circle cx="229.33" cy="83.27" r="1.25" fill="#c84646" fill-opacity="0.48"/>
<circle cx="228.94" cy="101.57" r="1.25" fill="#c84646" fill-opacity="0.48"/>
<circle cx="229.28" cy="100.62" r="1.25" fill="#7fa6d6" fill-opacity="0.48"/>
<circle cx="229.14" cy="123.49" r="1.25" fill="#c84646" fill-opacity="0.48"/>
<circle cx="229.06" cy="107.12" r="1.25" fill="#c84646" fill-opacity="0.48"/>
<circle cx="229.34" cy="85.40" r="1.25" fill="#c84646" fill-opacity="0.48"/>
<circle cx="233.01" cy="92.19" r="1.25" fill="#c84646" fill-opacity="0.48"/>
<circle cx="233.04" cy="83.67" r="1.25" fill="#7fa6d6" fill-opacity="0.48"/>
<circle cx="233.39" cy="102.33" r="1.25" fill="#c84646" fill-opacity="0.48"/>
<circle cx="233.42" cy="77.57" r="1.25" fill="#7fa6d6" fill-opacity="0.48"/>
<circle cx="233.35" cy="101.45" r="1.25" fill="#7fa6d6" fill-opacity="0.48"/>
<circle cx="233.29" cy="90.88" r="1.25" fill="#7fa6d6" fill-opacity="0.48"/>
<circle cx="233.39" cy="105.00" r="1.25" fill="#c84646" fill-opacity="0.48"/>
<circle cx="233.06" cy="96.08" r="1.25" fill="#c84646" fill-opacity="0.48"/>
<circle cx="233.13" cy="84.97" r="1.25" fill="#c84646" fill-opacity="0.48"/>
<circle cx="233.24" cy="108.96" r="1.25" fill="#c84646" fill-opacity="0.48"/>
<circle cx="237.32" cy="103.18" r="1.25" fill="#7fa6d6" fill-opacity="0.48"/>
<circle cx="237.52" cy="98.11" r="1.25" fill="#c84646" fill-opacity="0.48"/>
<circle cx="237.09" cy="104.38" r="1.25" fill="#c84646" fill-opacity="0.48"/>
<circle cx="237.23" cy="72.25" r="1.25" fill="#c84646" fill-opacity="0.48"/>
<circle cx="237.42" cy="111.68" r="1.25" fill="#7fa6d6" fill-opacity="0.48"/>
<circle cx="237.19" cy="94.91" r="1.25" fill="#7fa6d6" fill-opacity="0.48"/>
<circle cx="237.46" cy="104.08" r="1.25" fill="#c84646" fill-opacity="0.48"/>
<circle cx="237.41" cy="107.57" r="1.25" fill="#7fa6d6" fill-opacity="0.48"/>
<circle cx="237.52" cy="79.08" r="1.25" fill="#7fa6d6" fill-opacity="0.48"/>
<circle cx="237.22" cy="89.30" r="1.25" fill="#c84646" fill-opacity="0.48"/>
<circle cx="237.38" cy="62.28" r="1.25" fill="#c84646" fill-opacity="0.48"/>
<circle cx="241.55" cy="87.51" r="1.25" fill="#c84646" fill-opacity="0.48"/>
<circle cx="241.38" cy="69.94" r="1.25" fill="#c84646" fill-opacity="0.48"/>
<circle cx="241.52" cy="100.46" r="1.25" fill="#c84646" fill-opacity="0.48"/>
<circle cx="241.10" cy="124.76" r="1.25" fill="#c84646" fill-opacity="0.48"/>
<circle cx="241.20" cy="94.03" r="1.25" fill="#c84646" fill-opacity="0.48"/>
<circle cx="241.19" cy="91.24" r="1.25" fill="#c84646" fill-opacity="0.48"/>
<circle cx="241.49" cy="60.04" r="1.25" fill="#c84646" fill-opacity="0.48"/>
<circle cx="241.36" cy="101.52" r="1.25" fill="#c84646" fill-opacity="0.48"/>
<circle cx="241.25" cy="81.60" r="1.25" fill="#c84646" fill-opacity="0.48"/>
<circle cx="241.26" cy="80.99" r="1.25" fill="#c84646" fill-opacity="0.48"/>
<circle cx="241.40" cy="79.55" r="1.25" fill="#c84646" fill-opacity="0.48"/>
<circle cx="245.60" cy="58.39" r="1.25" fill="#7fa6d6" fill-opacity="0.48"/>
<circle cx="245.52" cy="104.50" r="1.25" fill="#c84646" fill-opacity="0.48"/>
<circle cx="245.58" cy="57.11" r="1.25" fill="#c84646" fill-opacity="0.48"/>
<circle cx="245.50" cy="78.83" r="1.25" fill="#c84646" fill-opacity="0.48"/>
<circle cx="245.28" cy="114.04" r="1.25" fill="#c84646" fill-opacity="0.48"/>
<circle cx="245.49" cy="90.67" r="1.25" fill="#c84646" fill-opacity="0.48"/>
<circle cx="245.34" cy="110.58" r="1.25" fill="#c84646" fill-opacity="0.48"/>
<circle cx="245.56" cy="98.10" r="1.25" fill="#c84646" fill-opacity="0.48"/>
<circle cx="245.65" cy="114.23" r="1.25" fill="#c84646" fill-opacity="0.48"/>
<circle cx="245.26" cy="82.61" r="1.25" fill="#c84646" fill-opacity="0.48"/>
<circle cx="245.61" cy="106.99" r="1.25" fill="#c84646" fill-opacity="0.48"/>
<circle cx="249.58" cy="72.31" r="1.25" fill="#c84646" fill-opacity="0.48"/>
<circle cx="249.69" cy="86.27" r="1.25" fill="#c84646" fill-opacity="0.48"/>
<circle cx="249.24" cy="98.33" r="1.25" fill="#7fa6d6" fill-opacity="0.48"/>
<circle cx="249.41" cy="72.27" r="1.25" fill="#c84646" fill-opacity="0.48"/>
<circle cx="249.42" cy="94.00" r="1.25" fill="#7fa6d6" fill-opacity="0.48"/>
<circle cx="249.35" cy="94.21" r="1.25" fill="#c84646" fill-opacity="0.48"/>
<circle cx="249.37" cy="98.90" r="1.25" fill="#c84646" fill-opacity="0.48"/>
<circle cx="249.47" cy="91.02" r="1.25" fill="#7fa6d6" fill-opacity="0.48"/>
<circle cx="249.38" cy="72.97" r="1.25" fill="#c84646" fill-opacity="0.48"/>
<circle cx="249.54" cy="69.30" r="1.25" fill="#c84646" fill-opacity="0.48"/>
<circle cx="249.66" cy="110.13" r="1.25" fill="#7fa6d6" fill-opacity="0.48"/>
<circle cx="249.45" cy="121.19" r="1.25" fill="#c84646" fill-opacity="0.48"/>
<circle cx="249.63" cy="95.67" r="1.25" fill="#c84646" fill-opacity="0.48"/>
<circle cx="249.41" cy="90.25" r="1.25" fill="#c84646" fill-opacity="0.48"/>
<circle cx="253.62" cy="99.83" r="1.25" fill="#c84646" fill-opacity="0.48"/>
<circle cx="253.40" cy="105.72" r="1.25" fill="#c84646" fill-opacity="0.48"/>
<circle cx="253.59" cy="59.06" r="1.25" fill="#c84646" fill-opacity="0.48"/>
<circle cx="253.36" cy="96.68" r="1.25" fill="#c84646" fill-opacity="0.48"/>
<circle cx="253.41" cy="59.54" r="1.25" fill="#c84646" fill-opacity="0.48"/>
<circle cx="253.80" cy="100.27" r="1.25" fill="#c84646" fill-opacity="0.48"/>
<circle cx="253.73" cy="78.24" r="1.25" fill="#7fa6d6" fill-opacity="0.48"/>
<circle cx="253.31" cy="109.33" r="1.25" fill="#c84646" fill-opacity="0.48"/>
<circle cx="253.32" cy="124.44" r="1.25" fill="#c84646" fill-opacity="0.48"/>
<circle cx="253.32" cy="60.79" r="1.25" fill="#c84646" fill-opacity="0.48"/>
<path d="M58.60,75.62 C60.28,76.64 64.63,79.69 68.70,81.73 C72.77,83.78 78.23,85.99 83.00,87.88 C87.77,89.78 91.13,91.73 97.30,93.10 C103.47,94.47 112.88,95.67 120.00,96.10 C127.12,96.53 132.83,96.16 140.00,95.70 C147.17,95.24 153.38,94.76 163.00,93.32 C172.62,91.88 188.07,89.32 197.70,87.04 C207.33,84.75 212.33,82.48 220.80,79.60 C229.27,76.73 243.88,71.42 248.50,69.78 L248.50,95.62 C243.88,95.75 229.27,96.21 220.80,96.40 C212.33,96.59 207.33,96.35 197.70,96.76 C188.07,97.18 172.62,98.39 163.00,98.88 C153.38,99.37 147.17,99.50 140.00,99.70 C132.83,99.90 127.12,100.53 120.00,100.10 C112.88,99.67 103.47,98.40 97.30,97.10 C91.13,95.80 87.77,93.99 83.00,92.32 C78.23,90.65 72.77,88.86 68.70,87.07 C64.63,85.28 60.28,82.50 58.60,81.58 Z" fill="#b8b8b8" fill-opacity="0.5"/>
<path d="M50.00,62.30 C51.33,63.47 54.88,66.73 58.00,69.30 C61.12,71.87 64.53,74.76 68.70,77.70 C72.87,80.64 78.23,84.42 83.00,86.94 C87.77,89.46 91.13,91.35 97.30,92.83 C103.47,94.32 112.88,95.14 120.00,95.83 C127.12,96.51 134.75,96.59 140.00,96.95 C145.25,97.30 147.67,97.88 151.50,97.94 C155.33,98.01 155.30,97.91 163.00,97.34 C170.70,96.77 182.70,96.24 197.70,94.52 C212.70,92.80 243.78,88.25 253.00,87.00 L253.00,99.00 C243.78,99.08 212.70,99.04 197.70,99.48 C182.70,99.92 170.70,101.23 163.00,101.66 C155.30,102.09 155.33,102.19 151.50,102.06 C147.67,101.92 145.25,101.30 140.00,100.85 C134.75,100.41 127.12,100.19 120.00,99.37 C112.88,98.56 103.47,97.45 97.30,95.97 C91.13,94.48 87.77,92.74 83.00,90.46 C78.23,88.18 72.87,84.93 68.70,82.30 C64.53,79.67 61.12,77.03 58.00,74.70 C54.88,72.37 51.33,69.37 50.00,68.30 Z" fill="#b8b8b8" fill-opacity="0.5"/>
<path d="M58.60,78.60 C60.28,79.57 64.63,82.48 68.70,84.40 C72.77,86.32 78.23,88.32 83.00,90.10 C87.77,91.88 91.13,93.77 97.30,95.10 C103.47,96.43 112.88,97.67 120.00,98.10 C127.12,98.53 132.83,98.03 140.00,97.70 C147.17,97.37 153.38,97.07 163.00,96.10 C172.62,95.13 188.07,93.25 197.70,91.90 C207.33,90.55 212.33,89.53 220.80,88.00 C229.27,86.47 243.88,83.58 248.50,82.70" fill="none" stroke="#3a5d98" stroke-width="1.5"/>
<path d="M50.00,65.30 C51.33,66.42 54.88,69.55 58.00,72.00 C61.12,74.45 64.53,77.22 68.70,80.00 C72.87,82.78 78.23,86.30 83.00,88.70 C87.77,91.10 91.13,92.92 97.30,94.40 C103.47,95.88 112.88,96.85 120.00,97.60 C127.12,98.35 134.75,98.50 140.00,98.90 C145.25,99.30 147.67,99.90 151.50,100.00 C155.33,100.10 155.30,100.00 163.00,99.50 C170.70,99.00 182.70,98.08 197.70,97.00 C212.70,95.92 243.78,93.67 253.00,93.00" fill="none" stroke="#b01c22" stroke-width="1.65"/>
<path d="M40.2,33.5 V141.3 H255" fill="none" stroke="#303030" stroke-width="1.55"/>
<line x1="37.4" y1="122.00" x2="40.4" y2="122.00" stroke="#303030" stroke-width="1.15"/>
<text x="34.60" y="124.35" font-size="6.6" text-anchor="end" fill="#333" font-weight="normal" stroke-width="0" stroke="none">1</text>
<line x1="37.4" y1="107.10" x2="40.4" y2="107.10" stroke="#303030" stroke-width="1.15"/>
<text x="34.60" y="109.45" font-size="6.6" text-anchor="end" fill="#333" font-weight="normal" stroke-width="0" stroke="none">2</text>
<line x1="37.4" y1="92.20" x2="40.4" y2="92.20" stroke="#303030" stroke-width="1.15"/>
<text x="34.60" y="94.55" font-size="6.6" text-anchor="end" fill="#333" font-weight="normal" stroke-width="0" stroke="none">4</text>
<line x1="37.4" y1="83.48" x2="40.4" y2="83.48" stroke="#303030" stroke-width="1.15"/>
<text x="34.60" y="85.83" font-size="6.6" text-anchor="end" fill="#333" font-weight="normal" stroke-width="0" stroke="none">6</text>
<line x1="37.4" y1="77.30" x2="40.4" y2="77.30" stroke="#303030" stroke-width="1.15"/>
<text x="34.60" y="79.65" font-size="6.6" text-anchor="end" fill="#333" font-weight="normal" stroke-width="0" stroke="none">8</text>
<line x1="37.4" y1="72.50" x2="40.4" y2="72.50" stroke="#303030" stroke-width="1.15"/>
<text x="34.60" y="74.85" font-size="6.6" text-anchor="end" fill="#333" font-weight="normal" stroke-width="0" stroke="none">10</text>
<line x1="37.4" y1="57.60" x2="40.4" y2="57.60" stroke="#303030" stroke-width="1.15"/>
<text x="34.60" y="59.95" font-size="6.6" text-anchor="end" fill="#333" font-weight="normal" stroke-width="0" stroke="none">20</text>
<line x1="37.4" y1="48.88" x2="40.4" y2="48.88" stroke="#303030" stroke-width="1.15"/>
<text x="34.60" y="51.23" font-size="6.6" text-anchor="end" fill="#333" font-weight="normal" stroke-width="0" stroke="none">30</text>
<line x1="37.4" y1="37.90" x2="40.4" y2="37.90" stroke="#303030" stroke-width="1.15"/>
<text x="34.60" y="40.25" font-size="6.6" text-anchor="end" fill="#333" font-weight="normal" stroke-width="0" stroke="none">50</text>
<line x1="70.40" y1="141.3" x2="70.40" y2="143.9" stroke="#303030" stroke-width="1.15"/>
<text x="70.40" y="152.10" font-size="6.6" text-anchor="middle" fill="#333" font-weight="normal" stroke-width="0" stroke="none">0</text>
<line x1="111.10" y1="141.3" x2="111.10" y2="143.9" stroke="#303030" stroke-width="1.15"/>
<text x="111.10" y="152.10" font-size="6.6" text-anchor="middle" fill="#333" font-weight="normal" stroke-width="0" stroke="none">10</text>
<line x1="151.80" y1="141.3" x2="151.80" y2="143.9" stroke="#303030" stroke-width="1.15"/>
<text x="151.80" y="152.10" font-size="6.6" text-anchor="middle" fill="#333" font-weight="normal" stroke-width="0" stroke="none">20</text>
<line x1="192.50" y1="141.3" x2="192.50" y2="143.9" stroke="#303030" stroke-width="1.15"/>
<text x="192.50" y="152.10" font-size="6.6" text-anchor="middle" fill="#333" font-weight="normal" stroke-width="0" stroke="none">30</text>
<line x1="233.20" y1="141.3" x2="233.20" y2="143.9" stroke="#303030" stroke-width="1.15"/>
<text x="233.20" y="152.10" font-size="6.6" text-anchor="middle" fill="#333" font-weight="normal" stroke-width="0" stroke="none">40</text>
<text x="51.00" y="133.00" font-size="6.1" text-anchor="start" fill="#1a1a1a" font-weight="normal" textLength="95.5" lengthAdjust="spacingAndGlyphs" stroke="#1a1a1a" stroke-width="0.12">Wilcoxon <tspan font-style="italic">P</tspan> &gt; .1 for all 5-day intervals</text>
<line x1="120" y1="159.5" x2="131" y2="159.5" stroke="#7496c2" stroke-width="1.8"/>
<text x="134.00" y="161.80" font-size="6.3" text-anchor="start" fill="#1a1a1a" font-weight="normal" textLength="10.5" lengthAdjust="spacingAndGlyphs" stroke="#1a1a1a" stroke-width="0.1">Toci</text>
<line x1="150" y1="159.5" x2="161.5" y2="159.5" stroke="#c4606a" stroke-width="1.8"/>
<text x="164.00" y="161.80" font-size="6.3" text-anchor="start" fill="#1a1a1a" font-weight="normal" textLength="20" lengthAdjust="spacingAndGlyphs" stroke="#1a1a1a" stroke-width="0.1">No Toci</text>
<text x="19.10" y="84.10" font-size="8.5" text-anchor="middle" fill="#222" font-weight="normal" textLength="48" lengthAdjust="spacingAndGlyphs" transform="rotate(-90 19.1 84.1)" dy="3.1" stroke="#222" stroke-width="0.2">Inverse simpson index</text>
<text x="6.50" y="181.60" font-size="11.0" text-anchor="start" fill="#000" font-weight="bold" stroke="#000" stroke-width="0.16">B</text>
<text x="152.00" y="194.10" font-size="8.7" text-anchor="middle" fill="#111" font-weight="normal" textLength="88.4" lengthAdjust="spacingAndGlyphs" stroke="#111" stroke-width="0.16">Enterococcus abundance</text>
<circle cx="54.12" cy="288.34" r="1.25" fill="#9a2e2e" fill-opacity="0.5"/>
<circle cx="54.12" cy="288.16" r="1.25" fill="#9a2e2e" fill-opacity="0.5"/>
<circle cx="54.12" cy="289.09" r="1.25" fill="#9a2e2e" fill-opacity="0.5"/>
<circle cx="54.06" cy="213.01" r="1.25" fill="#d24b4b" fill-opacity="0.5"/>
<circle cx="54.27" cy="226.65" r="1.25" fill="#7fa6d6" fill-opacity="0.5"/>
<circle cx="58.19" cy="288.59" r="1.25" fill="#9a2e2e" fill-opacity="0.5"/>
<circle cx="58.19" cy="288.40" r="1.25" fill="#5f7fa9" fill-opacity="0.5"/>
<circle cx="58.19" cy="288.67" r="1.25" fill="#9a2e2e" fill-opacity="0.5"/>
<circle cx="57.98" cy="237.74" r="1.25" fill="#d24b4b" fill-opacity="0.5"/>
<circle cx="58.30" cy="208.67" r="1.25" fill="#d24b4b" fill-opacity="0.5"/>
<circle cx="58.16" cy="236.66" r="1.25" fill="#d24b4b" fill-opacity="0.5"/>
<circle cx="58.26" cy="212.17" r="1.25" fill="#d24b4b" fill-opacity="0.5"/>
<circle cx="62.26" cy="288.18" r="1.25" fill="#9a2e2e" fill-opacity="0.5"/>
<circle cx="62.26" cy="288.23" r="1.25" fill="#9a2e2e" fill-opacity="0.5"/>
<circle cx="62.26" cy="288.81" r="1.25" fill="#5f7fa9" fill-opacity="0.5"/>
<circle cx="62.27" cy="251.46" r="1.25" fill="#d24b4b" fill-opacity="0.5"/>
<circle cx="62.32" cy="255.09" r="1.25" fill="#d24b4b" fill-opacity="0.5"/>
<circle cx="62.32" cy="208.20" r="1.25" fill="#d24b4b" fill-opacity="0.5"/>
<circle cx="62.37" cy="279.94" r="1.25" fill="#d24b4b" fill-opacity="0.5"/>
<circle cx="62.08" cy="260.22" r="1.25" fill="#7fa6d6" fill-opacity="0.5"/>
<circle cx="66.33" cy="288.44" r="1.25" fill="#9a2e2e" fill-opacity="0.5"/>
<circle cx="66.33" cy="288.44" r="1.25" fill="#9a2e2e" fill-opacity="0.5"/>
<circle cx="66.33" cy="288.03" r="1.25" fill="#9a2e2e" fill-opacity="0.5"/>
<circle cx="66.41" cy="219.47" r="1.25" fill="#7fa6d6" fill-opacity="0.5"/>
<circle cx="66.26" cy="209.11" r="1.25" fill="#7fa6d6" fill-opacity="0.5"/>
<circle cx="66.27" cy="214.84" r="1.25" fill="#d24b4b" fill-opacity="0.5"/>
<circle cx="66.23" cy="244.90" r="1.25" fill="#d24b4b" fill-opacity="0.5"/>
<circle cx="66.23" cy="210.77" r="1.25" fill="#d24b4b" fill-opacity="0.5"/>
<circle cx="66.17" cy="212.80" r="1.25" fill="#d24b4b" fill-opacity="0.5"/>
<circle cx="70.40" cy="287.71" r="1.25" fill="#9a2e2e" fill-opacity="0.5"/>
<circle cx="70.40" cy="288.38" r="1.25" fill="#9a2e2e" fill-opacity="0.5"/>
<circle cx="70.40" cy="288.57" r="1.25" fill="#9a2e2e" fill-opacity="0.5"/>
<circle cx="70.43" cy="213.97" r="1.25" fill="#d24b4b" fill-opacity="0.5"/>
<circle cx="70.42" cy="209.80" r="1.25" fill="#7fa6d6" fill-opacity="0.5"/>
<circle cx="70.28" cy="207.61" r="1.25" fill="#d24b4b" fill-opacity="0.5"/>
<circle cx="70.19" cy="246.39" r="1.25" fill="#d24b4b" fill-opacity="0.5"/>
<circle cx="70.54" cy="282.88" r="1.25" fill="#7fa6d6" fill-opacity="0.5"/>
<circle cx="70.17" cy="252.37" r="1.25" fill="#d24b4b" fill-opacity="0.5"/>
<circle cx="74.47" cy="289.06" r="1.25" fill="#9a2e2e" fill-opacity="0.5"/>
<circle cx="74.47" cy="288.55" r="1.25" fill="#9a2e2e" fill-opacity="0.5"/>
<circle cx="74.47" cy="288.03" r="1.25" fill="#9a2e2e" fill-opacity="0.5"/>
<circle cx="74.71" cy="284.47" r="1.25" fill="#d24b4b" fill-opacity="0.5"/>
<circle cx="74.26" cy="207.53" r="1.25" fill="#d24b4b" fill-opacity="0.5"/>
<circle cx="74.48" cy="210.23" r="1.25" fill="#d24b4b" fill-opacity="0.5"/>
<circle cx="74.23" cy="275.37" r="1.25" fill="#d24b4b" fill-opacity="0.5"/>
<circle cx="78.54" cy="288.35" r="1.25" fill="#9a2e2e" fill-opacity="0.5"/>
<circle cx="78.54" cy="288.88" r="1.25" fill="#9a2e2e" fill-opacity="0.5"/>
<circle cx="78.54" cy="288.36" r="1.25" fill="#5f7fa9" fill-opacity="0.5"/>
<circle cx="78.29" cy="213.05" r="1.25" fill="#d24b4b" fill-opacity="0.5"/>
<circle cx="78.56" cy="214.34" r="1.25" fill="#7fa6d6" fill-opacity="0.5"/>
<circle cx="78.52" cy="207.75" r="1.25" fill="#d24b4b" fill-opacity="0.5"/>
<circle cx="78.30" cy="242.44" r="1.25" fill="#d24b4b" fill-opacity="0.5"/>
<circle cx="78.52" cy="260.50" r="1.25" fill="#7fa6d6" fill-opacity="0.5"/>
<circle cx="78.46" cy="211.05" r="1.25" fill="#7fa6d6" fill-opacity="0.5"/>
<circle cx="82.61" cy="288.47" r="1.25" fill="#9a2e2e" fill-opacity="0.5"/>
<circle cx="82.61" cy="288.88" r="1.25" fill="#9a2e2e" fill-opacity="0.5"/>
<circle cx="82.61" cy="288.27" r="1.25" fill="#9a2e2e" fill-opacity="0.5"/>
<circle cx="82.36" cy="208.87" r="1.25" fill="#7fa6d6" fill-opacity="0.5"/>
<circle cx="82.49" cy="212.53" r="1.25" fill="#d24b4b" fill-opacity="0.5"/>
<circle cx="82.62" cy="210.52" r="1.25" fill="#d24b4b" fill-opacity="0.5"/>
<circle cx="82.51" cy="212.06" r="1.25" fill="#7fa6d6" fill-opacity="0.5"/>
<circle cx="82.49" cy="227.93" r="1.25" fill="#d24b4b" fill-opacity="0.5"/>
<circle cx="82.59" cy="211.68" r="1.25" fill="#d24b4b" fill-opacity="0.5"/>
<circle cx="82.76" cy="252.87" r="1.25" fill="#d24b4b" fill-opacity="0.5"/>
<circle cx="82.39" cy="278.60" r="1.25" fill="#d24b4b" fill-opacity="0.5"/>
<circle cx="82.64" cy="250.68" r="1.25" fill="#d24b4b" fill-opacity="0.5"/>
<circle cx="82.76" cy="205.58" r="1.25" fill="#d24b4b" fill-opacity="0.5"/>
<circle cx="82.66" cy="230.68" r="1.25" fill="#d24b4b" fill-opacity="0.5"/>
<circle cx="82.80" cy="280.39" r="1.25" fill="#d24b4b" fill-opacity="0.5"/>
<circle cx="86.68" cy="288.31" r="1.25" fill="#9a2e2e" fill-opacity="0.5"/>
<circle cx="86.68" cy="287.77" r="1.25" fill="#5f7fa9" fill-opacity="0.5"/>
<circle cx="86.68" cy="287.80" r="1.25" fill="#9a2e2e" fill-opacity="0.5"/>
<circle cx="86.51" cy="206.19" r="1.25" fill="#d24b4b" fill-opacity="0.5"/>
<circle cx="86.83" cy="233.41" r="1.25" fill="#d24b4b" fill-opacity="0.5"/>
<circle cx="86.82" cy="217.32" r="1.25" fill="#d24b4b" fill-opacity="0.5"/>
<circle cx="86.53" cy="247.79" r="1.25" fill="#d24b4b" fill-opacity="0.5"/>
<circle cx="86.78" cy="206.33" r="1.25" fill="#d24b4b" fill-opacity="0.5"/>
<circle cx="86.86" cy="219.52" r="1.25" fill="#7fa6d6" fill-opacity="0.5"/>
<circle cx="86.81" cy="208.63" r="1.25" fill="#7fa6d6" fill-opacity="0.5"/>
<circle cx="86.79" cy="235.53" r="1.25" fill="#d24b4b" fill-opacity="0.5"/>
<circle cx="90.75" cy="288.06" r="1.25" fill="#9a2e2e" fill-opacity="0.5"/>
<circle cx="90.75" cy="288.00" r="1.25" fill="#5f7fa9" fill-opacity="0.5"/>
<circle cx="90.75" cy="288.63" r="1.25" fill="#9a2e2e" fill-opacity="0.5"/>
<circle cx="90.58" cy="211.48" r="1.25" fill="#d24b4b" fill-opacity="0.5"/>
<circle cx="90.60" cy="236.18" r="1.25" fill="#d24b4b" fill-opacity="0.5"/>
<circle cx="90.52" cy="207.98" r="1.25" fill="#d24b4b" fill-opacity="0.5"/>
<circle cx="90.83" cy="260.76" r="1.25" fill="#d24b4b" fill-opacity="0.5"/>
<circle cx="90.74" cy="211.13" r="1.25" fill="#d24b4b" fill-opacity="0.5"/>
<circle cx="90.96" cy="226.26" r="1.25" fill="#d24b4b" fill-opacity="0.5"/>
<circle cx="90.88" cy="207.36" r="1.25" fill="#d24b4b" fill-opacity="0.5"/>
<circle cx="94.82" cy="288.36" r="1.25" fill="#9a2e2e" fill-opacity="0.5"/>
<circle cx="94.82" cy="288.77" r="1.25" fill="#5f7fa9" fill-opacity="0.5"/>
<circle cx="94.82" cy="288.51" r="1.25" fill="#9a2e2e" fill-opacity="0.5"/>
<circle cx="94.74" cy="222.30" r="1.25" fill="#7fa6d6" fill-opacity="0.5"/>
<circle cx="94.74" cy="268.92" r="1.25" fill="#d24b4b" fill-opacity="0.5"/>
<circle cx="94.94" cy="214.30" r="1.25" fill="#d24b4b" fill-opacity="0.5"/>
<circle cx="94.60" cy="256.30" r="1.25" fill="#d24b4b" fill-opacity="0.5"/>
<circle cx="94.87" cy="217.84" r="1.25" fill="#d24b4b" fill-opacity="0.5"/>
<circle cx="94.83" cy="208.45" r="1.25" fill="#d24b4b" fill-opacity="0.5"/>
<circle cx="94.86" cy="264.75" r="1.25" fill="#d24b4b" fill-opacity="0.5"/>
<circle cx="94.65" cy="206.33" r="1.25" fill="#7fa6d6" fill-opacity="0.5"/>
<circle cx="94.99" cy="208.03" r="1.25" fill="#7fa6d6" fill-opacity="0.5"/>
<circle cx="94.62" cy="263.89" r="1.25" fill="#7fa6d6" fill-opacity="0.5"/>
<circle cx="94.63" cy="214.19" r="1.25" fill="#d24b4b" fill-opacity="0.5"/>
<circle cx="98.89" cy="287.93" r="1.25" fill="#9a2e2e" fill-opacity="0.5"/>
<circle cx="98.89" cy="288.41" r="1.25" fill="#9a2e2e" fill-opacity="0.5"/>
<circle cx="98.89" cy="287.98" r="1.25" fill="#9a2e2e" fill-opacity="0.5"/>
<circle cx="99.00" cy="272.93" r="1.25" fill="#d24b4b" fill-opacity="0.5"/>
<circle cx="98.69" cy="203.96" r="1.25" fill="#d24b4b" fill-opacity="0.5"/>
<circle cx="98.75" cy="207.11" r="1.25" fill="#d24b4b" fill-opacity="0.5"/>
<circle cx="98.73" cy="216.42" r="1.25" fill="#7fa6d6" fill-opacity="0.5"/>
<circle cx="98.95" cy="280.73" r="1.25" fill="#d24b4b" fill-opacity="0.5"/>
<circle cx="98.97" cy="265.32" r="1.25" fill="#d24b4b" fill-opacity="0.5"/>
<circle cx="99.05" cy="205.29" r="1.25" fill="#7fa6d6" fill-opacity="0.5"/>
<circle cx="98.81" cy="213.74" r="1.25" fill="#d24b4b" fill-opacity="0.5"/>
<circle cx="102.96" cy="288.00" r="1.25" fill="#9a2e2e" fill-opacity="0.5"/>
<circle cx="102.96" cy="287.94" r="1.25" fill="#9a2e2e" fill-opacity="0.5"/>
<circle cx="102.96" cy="287.82" r="1.25" fill="#9a2e2e" fill-opacity="0.5"/>
<circle cx="103.18" cy="287.38" r="1.25" fill="#d24b4b" fill-opacity="0.5"/>
<circle cx="103.08" cy="209.10" r="1.25" fill="#d24b4b" fill-opacity="0.5"/>
<circle cx="102.88" cy="207.04" r="1.25" fill="#d24b4b" fill-opacity="0.5"/>
<circle cx="103.20" cy="205.14" r="1.25" fill="#7fa6d6" fill-opacity="0.5"/>
<circle cx="102.96" cy="247.08" r="1.25" fill="#d24b4b" fill-opacity="0.5"/>
<circle cx="103.03" cy="275.46" r="1.25" fill="#d24b4b" fill-opacity="0.5"/>
<circle cx="103.10" cy="228.48" r="1.25" fill="#d24b4b" fill-opacity="0.5"/>
<circle cx="102.79" cy="253.71" r="1.25" fill="#7fa6d6" fill-opacity="0.5"/>
<circle cx="102.78" cy="233.57" r="1.25" fill="#7fa6d6" fill-opacity="0.5"/>
<circle cx="103.08" cy="272.99" r="1.25" fill="#7fa6d6" fill-opacity="0.5"/>
<circle cx="102.93" cy="241.46" r="1.25" fill="#7fa6d6" fill-opacity="0.5"/>
<circle cx="107.03" cy="288.80" r="1.25" fill="#5f7fa9" fill-opacity="0.5"/>
<circle cx="107.03" cy="288.12" r="1.25" fill="#5f7fa9" fill-opacity="0.5"/>
<circle cx="107.03" cy="288.44" r="1.25" fill="#5f7fa9" fill-opacity="0.5"/>
<circle cx="107.17" cy="211.16" r="1.25" fill="#7fa6d6" fill-opacity="0.5"/>
<circle cx="106.90" cy="228.39" r="1.25" fill="#d24b4b" fill-opacity="0.5"/>
<circle cx="107.07" cy="226.86" r="1.25" fill="#7fa6d6" fill-opacity="0.5"/>
<circle cx="107.11" cy="286.75" r="1.25" fill="#d24b4b" fill-opacity="0.5"/>
<circle cx="106.95" cy="232.13" r="1.25" fill="#d24b4b" fill-opacity="0.5"/>
<circle cx="107.12" cy="283.88" r="1.25" fill="#d24b4b" fill-opacity="0.5"/>
<circle cx="106.99" cy="225.51" r="1.25" fill="#d24b4b" fill-opacity="0.5"/>
<circle cx="111.10" cy="288.12" r="1.25" fill="#9a2e2e" fill-opacity="0.5"/>
<circle cx="111.10" cy="289.03" r="1.25" fill="#5f7fa9" fill-opacity="0.5"/>
<circle cx="111.10" cy="288.37" r="1.25" fill="#9a2e2e" fill-opacity="0.5"/>
<circle cx="111.03" cy="206.70" r="1.25" fill="#7fa6d6" fill-opacity="0.5"/>
<circle cx="110.89" cy="256.61" r="1.25" fill="#d24b4b" fill-opacity="0.5"/>
<circle cx="111.18" cy="249.00" r="1.25" fill="#7fa6d6" fill-opacity="0.5"/>
<circle cx="111.19" cy="208.75" r="1.25" fill="#d24b4b" fill-opacity="0.5"/>
<circle cx="110.99" cy="262.10" r="1.25" fill="#7fa6d6" fill-opacity="0.5"/>
<circle cx="111.16" cy="206.57" r="1.25" fill="#7fa6d6" fill-opacity="0.5"/>
<circle cx="111.10" cy="221.26" r="1.25" fill="#7fa6d6" fill-opacity="0.5"/>
<circle cx="110.94" cy="221.22" r="1.25" fill="#7fa6d6" fill-opacity="0.5"/>
<circle cx="110.94" cy="203.92" r="1.25" fill="#7fa6d6" fill-opacity="0.5"/>
<circle cx="115.17" cy="288.34" r="1.25" fill="#9a2e2e" fill-opacity="0.5"/>
<circle cx="115.17" cy="288.05" r="1.25" fill="#9a2e2e" fill-opacity="0.5"/>
<circle cx="115.17" cy="287.84" r="1.25" fill="#9a2e2e" fill-opacity="0.5"/>
<circle cx="114.99" cy="237.61" r="1.25" fill="#d24b4b" fill-opacity="0.5"/>
<circle cx="115.13" cy="203.74" r="1.25" fill="#d24b4b" fill-opacity="0.5"/>
<circle cx="115.07" cy="204.43" r="1.25" fill="#d24b4b" fill-opacity="0.5"/>
<circle cx="115.32" cy="223.80" r="1.25" fill="#d24b4b" fill-opacity="0.5"/>
<circle cx="115.27" cy="246.39" r="1.25" fill="#d24b4b" fill-opacity="0.5"/>
<circle cx="114.98" cy="226.33" r="1.25" fill="#d24b4b" fill-opacity="0.5"/>
<circle cx="115.18" cy="210.76" r="1.25" fill="#d24b4b" fill-opacity="0.5"/>
<circle cx="115.39" cy="248.14" r="1.25" fill="#d24b4b" fill-opacity="0.5"/>
<circle cx="115.01" cy="209.91" r="1.25" fill="#7fa6d6" fill-opacity="0.5"/>
<circle cx="115.01" cy="220.76" r="1.25" fill="#d24b4b" fill-opacity="0.5"/>
<circle cx="115.04" cy="277.46" r="1.25" fill="#d24b4b" fill-opacity="0.5"/>
<circle cx="115.19" cy="206.32" r="1.25" fill="#d24b4b" fill-opacity="0.5"/>
<circle cx="115.17" cy="215.21" r="1.25" fill="#7fa6d6" fill-opacity="0.5"/>
<circle cx="119.24" cy="288.20" r="1.25" fill="#5f7fa9" fill-opacity="0.5"/>
<circle cx="119.24" cy="288.15" r="1.25" fill="#9a2e2e" fill-opacity="0.5"/>
<circle cx="119.24" cy="288.39" r="1.25" fill="#9a2e2e" fill-opacity="0.5"/>
<circle cx="119.06" cy="207.44" r="1.25" fill="#d24b4b" fill-opacity="0.5"/>
<circle cx="119.36" cy="263.22" r="1.25" fill="#d24b4b" fill-opacity="0.5"/>
<circle cx="119.18" cy="210.42" r="1.25" fill="#7fa6d6" fill-opacity="0.5"/>
<circle cx="119.14" cy="284.54" r="1.25" fill="#7fa6d6" fill-opacity="0.5"/>
<circle cx="119.15" cy="206.05" r="1.25" fill="#d24b4b" fill-opacity="0.5"/>
<circle cx="119.18" cy="204.24" r="1.25" fill="#7fa6d6" fill-opacity="0.5"/>
<circle cx="119.09" cy="212.16" r="1.25" fill="#7fa6d6" fill-opacity="0.5"/>
<circle cx="119.38" cy="209.98" r="1.25" fill="#d24b4b" fill-opacity="0.5"/>
<circle cx="119.37" cy="214.00" r="1.25" fill="#d24b4b" fill-opacity="0.5"/>
<circle cx="119.37" cy="237.38" r="1.25" fill="#d24b4b" fill-opacity="0.5"/>
<circle cx="119.13" cy="212.73" r="1.25" fill="#d24b4b" fill-opacity="0.5"/>
<circle cx="123.31" cy="288.06" r="1.25" fill="#9a2e2e" fill-opacity="0.5"/>
<circle cx="123.31" cy="287.76" r="1.25" fill="#9a2e2e" fill-opacity="0.5"/>
<circle cx="123.31" cy="288.49" r="1.25" fill="#9a2e2e" fill-opacity="0.5"/>
<circle cx="123.18" cy="208.85" r="1.25" fill="#d24b4b" fill-opacity="0.5"/>
<circle cx="123.40" cy="233.16" r="1.25" fill="#d24b4b" fill-opacity="0.5"/>
<circle cx="123.21" cy="265.81" r="1.25" fill="#d24b4b" fill-opacity="0.5"/>
<circle cx="123.41" cy="277.35" r="1.25" fill="#d24b4b" fill-opacity="0.5"/>
<circle cx="123.23" cy="216.68" r="1.25" fill="#d24b4b" fill-opacity="0.5"/>
<circle cx="123.15" cy="253.69" r="1.25" fill="#7fa6d6" fill-opacity="0.5"/>
<circle cx="123.39" cy="244.97" r="1.25" fill="#7fa6d6" fill-opacity="0.5"/>
<circle cx="123.23" cy="208.81" r="1.25" fill="#d24b4b" fill-opacity="0.5"/>
<circle cx="123.39" cy="220.25" r="1.25" fill="#d24b4b" fill-opacity="0.5"/>
<circle cx="127.38" cy="288.27" r="1.25" fill="#9a2e2e" fill-opacity="0.5"/>
<circle cx="127.38" cy="288.08" r="1.25" fill="#9a2e2e" fill-opacity="0.5"/>
<circle cx="127.38" cy="288.80" r="1.25" fill="#9a2e2e" fill-opacity="0.5"/>
<circle cx="127.55" cy="203.92" r="1.25" fill="#d24b4b" fill-opacity="0.5"/>
<circle cx="127.61" cy="204.15" r="1.25" fill="#7fa6d6" fill-opacity="0.5"/>
<circle cx="127.27" cy="205.86" r="1.25" fill="#d24b4b" fill-opacity="0.5"/>
<circle cx="127.58" cy="251.93" r="1.25" fill="#d24b4b" fill-opacity="0.5"/>
<circle cx="127.38" cy="240.72" r="1.25" fill="#d24b4b" fill-opacity="0.5"/>
<circle cx="127.31" cy="282.58" r="1.25" fill="#d24b4b" fill-opacity="0.5"/>
<circle cx="127.14" cy="286.29" r="1.25" fill="#d24b4b" fill-opacity="0.5"/>
<circle cx="127.36" cy="209.40" r="1.25" fill="#d24b4b" fill-opacity="0.5"/>
<circle cx="131.45" cy="288.33" r="1.25" fill="#9a2e2e" fill-opacity="0.5"/>
<circle cx="131.45" cy="289.07" r="1.25" fill="#9a2e2e" fill-opacity="0.5"/>
<circle cx="131.45" cy="288.53" r="1.25" fill="#9a2e2e" fill-opacity="0.5"/>
<circle cx="131.31" cy="265.84" r="1.25" fill="#d24b4b" fill-opacity="0.5"/>
<circle cx="131.37" cy="205.40" r="1.25" fill="#d24b4b" fill-opacity="0.5"/>
<circle cx="131.62" cy="205.26" r="1.25" fill="#7fa6d6" fill-opacity="0.5"/>
<circle cx="131.59" cy="269.91" r="1.25" fill="#d24b4b" fill-opacity="0.5"/>
<circle cx="131.23" cy="249.92" r="1.25" fill="#d24b4b" fill-opacity="0.5"/>
<circle cx="131.40" cy="241.73" r="1.25" fill="#d24b4b" fill-opacity="0.5"/>
<circle cx="131.63" cy="259.96" r="1.25" fill="#7fa6d6" fill-opacity="0.5"/>
<circle cx="131.36" cy="222.60" r="1.25" fill="#7fa6d6" fill-opacity="0.5"/>
<circle cx="131.44" cy="209.28" r="1.25" fill="#d24b4b" fill-opacity="0.5"/>
<circle cx="131.43" cy="209.16" r="1.25" fill="#d24b4b" fill-opacity="0.5"/>
<circle cx="131.40" cy="215.83" r="1.25" fill="#d24b4b" fill-opacity="0.5"/>
<circle cx="135.52" cy="287.97" r="1.25" fill="#9a2e2e" fill-opacity="0.5"/>
<circle cx="135.52" cy="288.42" r="1.25" fill="#9a2e2e" fill-opacity="0.5"/>
<circle cx="135.52" cy="287.98" r="1.25" fill="#9a2e2e" fill-opacity="0.5"/>
<circle cx="135.65" cy="261.24" r="1.25" fill="#7fa6d6" fill-opacity="0.5"/>
<circle cx="135.64" cy="204.11" r="1.25" fill="#d24b4b" fill-opacity="0.5"/>
<circle cx="135.45" cy="205.48" r="1.25" fill="#d24b4b" fill-opacity="0.5"/>
<circle cx="135.64" cy="238.86" r="1.25" fill="#d24b4b" fill-opacity="0.5"/>
<circle cx="135.55" cy="239.57" r="1.25" fill="#d24b4b" fill-opacity="0.5"/>
<circle cx="135.62" cy="214.66" r="1.25" fill="#d24b4b" fill-opacity="0.5"/>
<circle cx="135.63" cy="212.23" r="1.25" fill="#d24b4b" fill-opacity="0.5"/>
<circle cx="135.71" cy="208.76" r="1.25" fill="#d24b4b" fill-opacity="0.5"/>
<circle cx="139.59" cy="287.82" r="1.25" fill="#9a2e2e" fill-opacity="0.5"/>
<circle cx="139.59" cy="288.15" r="1.25" fill="#5f7fa9" fill-opacity="0.5"/>
<circle cx="139.59" cy="289.07" r="1.25" fill="#9a2e2e" fill-opacity="0.5"/>
<circle cx="139.44" cy="245.65" r="1.25" fill="#d24b4b" fill-opacity="0.5"/>
<circle cx="139.79" cy="209.97" r="1.25" fill="#d24b4b" fill-opacity="0.5"/>
<circle cx="139.56" cy="271.77" r="1.25" fill="#d24b4b" fill-opacity="0.5"/>
<circle cx="139.41" cy="209.86" r="1.25" fill="#d24b4b" fill-opacity="0.5"/>
<circle cx="139.63" cy="218.74" r="1.25" fill="#d24b4b" fill-opacity="0.5"/>
<circle cx="139.57" cy="210.89" r="1.25" fill="#d24b4b" fill-opacity="0.5"/>
<circle cx="139.38" cy="278.96" r="1.25" fill="#d24b4b" fill-opacity="0.5"/>
<circle cx="139.58" cy="226.47" r="1.25" fill="#d24b4b" fill-opacity="0.5"/>
<circle cx="139.46" cy="216.72" r="1.25" fill="#7fa6d6" fill-opacity="0.5"/>
<circle cx="139.40" cy="212.69" r="1.25" fill="#d24b4b" fill-opacity="0.5"/>
<circle cx="139.63" cy="210.59" r="1.25" fill="#d24b4b" fill-opacity="0.5"/>
<circle cx="143.66" cy="288.69" r="1.25" fill="#9a2e2e" fill-opacity="0.5"/>
<circle cx="143.66" cy="287.79" r="1.25" fill="#9a2e2e" fill-opacity="0.5"/>
<circle cx="143.66" cy="287.78" r="1.25" fill="#9a2e2e" fill-opacity="0.5"/>
<circle cx="143.90" cy="227.66" r="1.25" fill="#d24b4b" fill-opacity="0.5"/>
<circle cx="143.71" cy="226.71" r="1.25" fill="#d24b4b" fill-opacity="0.5"/>
<circle cx="143.76" cy="252.06" r="1.25" fill="#d24b4b" fill-opacity="0.5"/>
<circle cx="143.69" cy="287.47" r="1.25" fill="#d24b4b" fill-opacity="0.5"/>
<circle cx="143.53" cy="204.58" r="1.25" fill="#7fa6d6" fill-opacity="0.5"/>
<circle cx="143.41" cy="215.90" r="1.25" fill="#d24b4b" fill-opacity="0.5"/>
<circle cx="143.80" cy="223.70" r="1.25" fill="#d24b4b" fill-opacity="0.5"/>
<circle cx="143.62" cy="242.08" r="1.25" fill="#d24b4b" fill-opacity="0.5"/>
<circle cx="143.89" cy="247.13" r="1.25" fill="#d24b4b" fill-opacity="0.5"/>
<circle cx="143.48" cy="286.00" r="1.25" fill="#d24b4b" fill-opacity="0.5"/>
<circle cx="147.73" cy="288.56" r="1.25" fill="#9a2e2e" fill-opacity="0.5"/>
<circle cx="147.73" cy="288.41" r="1.25" fill="#5f7fa9" fill-opacity="0.5"/>
<circle cx="147.73" cy="288.23" r="1.25" fill="#5f7fa9" fill-opacity="0.5"/>
<circle cx="147.89" cy="243.21" r="1.25" fill="#d24b4b" fill-opacity="0.5"/>
<circle cx="147.88" cy="241.24" r="1.25" fill="#d24b4b" fill-opacity="0.5"/>
<circle cx="147.75" cy="211.45" r="1.25" fill="#d24b4b" fill-opacity="0.5"/>
<circle cx="147.49" cy="217.69" r="1.25" fill="#7fa6d6" fill-opacity="0.5"/>
<circle cx="147.54" cy="248.19" r="1.25" fill="#d24b4b" fill-opacity="0.5"/>
<circle cx="147.69" cy="204.37" r="1.25" fill="#d24b4b" fill-opacity="0.5"/>
<circle cx="147.66" cy="278.76" r="1.25" fill="#d24b4b" fill-opacity="0.5"/>
<circle cx="151.80" cy="288.72" r="1.25" fill="#9a2e2e" fill-opacity="0.5"/>
<circle cx="151.80" cy="288.89" r="1.25" fill="#9a2e2e" fill-opacity="0.5"/>
<circle cx="151.80" cy="288.21" r="1.25" fill="#9a2e2e" fill-opacity="0.5"/>
<circle cx="151.72" cy="214.79" r="1.25" fill="#d24b4b" fill-opacity="0.5"/>
<circle cx="151.57" cy="204.11" r="1.25" fill="#d24b4b" fill-opacity="0.5"/>
<circle cx="151.74" cy="260.59" r="1.25" fill="#7fa6d6" fill-opacity="0.5"/>
<circle cx="151.66" cy="278.31" r="1.25" fill="#d24b4b" fill-opacity="0.5"/>
<circle cx="151.56" cy="267.40" r="1.25" fill="#d24b4b" fill-opacity="0.5"/>
<circle cx="151.62" cy="237.40" r="1.25" fill="#7fa6d6" fill-opacity="0.5"/>
<circle cx="151.86" cy="268.67" r="1.25" fill="#d24b4b" fill-opacity="0.5"/>
<circle cx="151.97" cy="213.62" r="1.25" fill="#d24b4b" fill-opacity="0.5"/>
<circle cx="151.63" cy="214.83" r="1.25" fill="#d24b4b" fill-opacity="0.5"/>
<circle cx="151.79" cy="277.00" r="1.25" fill="#d24b4b" fill-opacity="0.5"/>
<circle cx="151.71" cy="233.32" r="1.25" fill="#7fa6d6" fill-opacity="0.5"/>
<circle cx="151.82" cy="211.21" r="1.25" fill="#d24b4b" fill-opacity="0.5"/>
<circle cx="151.94" cy="271.37" r="1.25" fill="#d24b4b" fill-opacity="0.5"/>
<circle cx="155.87" cy="288.18" r="1.25" fill="#9a2e2e" fill-opacity="0.5"/>
<circle cx="155.87" cy="287.93" r="1.25" fill="#9a2e2e" fill-opacity="0.5"/>
<circle cx="155.87" cy="288.89" r="1.25" fill="#9a2e2e" fill-opacity="0.5"/>
<circle cx="155.89" cy="205.52" r="1.25" fill="#7fa6d6" fill-opacity="0.5"/>
<circle cx="155.89" cy="215.74" r="1.25" fill="#7fa6d6" fill-opacity="0.5"/>
<circle cx="156.08" cy="206.07" r="1.25" fill="#d24b4b" fill-opacity="0.5"/>
<circle cx="155.73" cy="286.11" r="1.25" fill="#d24b4b" fill-opacity="0.5"/>
<circle cx="155.75" cy="287.33" r="1.25" fill="#d24b4b" fill-opacity="0.5"/>
<circle cx="155.84" cy="284.72" r="1.25" fill="#d24b4b" fill-opacity="0.5"/>
<circle cx="156.00" cy="233.55" r="1.25" fill="#d24b4b" fill-opacity="0.5"/>
<circle cx="155.72" cy="216.49" r="1.25" fill="#d24b4b" fill-opacity="0.5"/>
<circle cx="155.92" cy="277.20" r="1.25" fill="#d24b4b" fill-opacity="0.5"/>
<circle cx="159.94" cy="288.54" r="1.25" fill="#9a2e2e" fill-opacity="0.5"/>
<circle cx="159.94" cy="288.13" r="1.25" fill="#9a2e2e" fill-opacity="0.5"/>
<circle cx="159.94" cy="287.79" r="1.25" fill="#9a2e2e" fill-opacity="0.5"/>
<circle cx="159.97" cy="205.95" r="1.25" fill="#d24b4b" fill-opacity="0.5"/>
<circle cx="160.13" cy="245.53" r="1.25" fill="#7fa6d6" fill-opacity="0.5"/>
<circle cx="159.89" cy="208.95" r="1.25" fill="#d24b4b" fill-opacity="0.5"/>
<circle cx="160.18" cy="207.52" r="1.25" fill="#7fa6d6" fill-opacity="0.5"/>
<circle cx="159.85" cy="248.05" r="1.25" fill="#d24b4b" fill-opacity="0.5"/>
<circle cx="159.79" cy="204.56" r="1.25" fill="#d24b4b" fill-opacity="0.5"/>
<circle cx="160.00" cy="207.63" r="1.25" fill="#7fa6d6" fill-opacity="0.5"/>
<circle cx="160.02" cy="216.22" r="1.25" fill="#d24b4b" fill-opacity="0.5"/>
<circle cx="159.71" cy="211.59" r="1.25" fill="#d24b4b" fill-opacity="0.5"/>
<circle cx="164.01" cy="288.87" r="1.25" fill="#9a2e2e" fill-opacity="0.5"/>
<circle cx="164.01" cy="288.06" r="1.25" fill="#9a2e2e" fill-opacity="0.5"/>
<circle cx="164.01" cy="288.52" r="1.25" fill="#9a2e2e" fill-opacity="0.5"/>
<circle cx="164.24" cy="206.39" r="1.25" fill="#d24b4b" fill-opacity="0.5"/>
<circle cx="164.15" cy="264.43" r="1.25" fill="#d24b4b" fill-opacity="0.5"/>
<circle cx="164.02" cy="207.27" r="1.25" fill="#d24b4b" fill-opacity="0.5"/>
<circle cx="163.95" cy="205.68" r="1.25" fill="#d24b4b" fill-opacity="0.5"/>
<circle cx="163.86" cy="210.35" r="1.25" fill="#d24b4b" fill-opacity="0.5"/>
<circle cx="164.00" cy="211.74" r="1.25" fill="#7fa6d6" fill-opacity="0.5"/>
<circle cx="164.09" cy="212.78" r="1.25" fill="#7fa6d6" fill-opacity="0.5"/>
<circle cx="163.82" cy="212.64" r="1.25" fill="#d24b4b" fill-opacity="0.5"/>
<circle cx="163.82" cy="266.70" r="1.25" fill="#d24b4b" fill-opacity="0.5"/>
<circle cx="168.08" cy="287.94" r="1.25" fill="#9a2e2e" fill-opacity="0.5"/>
<circle cx="168.08" cy="288.32" r="1.25" fill="#9a2e2e" fill-opacity="0.5"/>
<circle cx="168.08" cy="287.80" r="1.25" fill="#9a2e2e" fill-opacity="0.5"/>
<circle cx="168.00" cy="205.37" r="1.25" fill="#d24b4b" fill-opacity="0.5"/>
<circle cx="167.94" cy="246.86" r="1.25" fill="#d24b4b" fill-opacity="0.5"/>
<circle cx="168.02" cy="272.61" r="1.25" fill="#d24b4b" fill-opacity="0.5"/>
<circle cx="168.09" cy="213.36" r="1.25" fill="#d24b4b" fill-opacity="0.5"/>
<circle cx="168.07" cy="207.24" r="1.25" fill="#d24b4b" fill-opacity="0.5"/>
<circle cx="167.90" cy="274.92" r="1.25" fill="#7fa6d6" fill-opacity="0.5"/>
<circle cx="167.97" cy="266.48" r="1.25" fill="#d24b4b" fill-opacity="0.5"/>
<circle cx="167.96" cy="206.47" r="1.25" fill="#d24b4b" fill-opacity="0.5"/>
<circle cx="168.28" cy="230.22" r="1.25" fill="#d24b4b" fill-opacity="0.5"/>
<circle cx="168.15" cy="269.82" r="1.25" fill="#d24b4b" fill-opacity="0.5"/>
<circle cx="172.15" cy="288.63" r="1.25" fill="#9a2e2e" fill-opacity="0.5"/>
<circle cx="172.15" cy="288.21" r="1.25" fill="#9a2e2e" fill-opacity="0.5"/>
<circle cx="172.15" cy="288.94" r="1.25" fill="#9a2e2e" fill-opacity="0.5"/>
<circle cx="172.35" cy="252.77" r="1.25" fill="#d24b4b" fill-opacity="0.5"/>
<circle cx="172.20" cy="212.91" r="1.25" fill="#7fa6d6" fill-opacity="0.5"/>
<circle cx="172.12" cy="204.17" r="1.25" fill="#d24b4b" fill-opacity="0.5"/>
<circle cx="172.27" cy="205.94" r="1.25" fill="#d24b4b" fill-opacity="0.5"/>
<circle cx="172.24" cy="281.08" r="1.25" fill="#d24b4b" fill-opacity="0.5"/>
<circle cx="172.14" cy="283.80" r="1.25" fill="#d24b4b" fill-opacity="0.5"/>
<circle cx="172.40" cy="279.63" r="1.25" fill="#d24b4b" fill-opacity="0.5"/>
<circle cx="176.22" cy="288.00" r="1.25" fill="#9a2e2e" fill-opacity="0.5"/>
<circle cx="176.22" cy="287.98" r="1.25" fill="#5f7fa9" fill-opacity="0.5"/>
<circle cx="176.22" cy="288.34" r="1.25" fill="#9a2e2e" fill-opacity="0.5"/>
<circle cx="176.30" cy="210.18" r="1.25" fill="#d24b4b" fill-opacity="0.5"/>
<circle cx="176.05" cy="207.98" r="1.25" fill="#7fa6d6" fill-opacity="0.5"/>
<circle cx="176.20" cy="208.80" r="1.25" fill="#d24b4b" fill-opacity="0.5"/>
<circle cx="176.09" cy="264.46" r="1.25" fill="#d24b4b" fill-opacity="0.5"/>
<circle cx="176.04" cy="285.15" r="1.25" fill="#d24b4b" fill-opacity="0.5"/>
<circle cx="176.00" cy="226.41" r="1.25" fill="#d24b4b" fill-opacity="0.5"/>
<circle cx="176.26" cy="207.79" r="1.25" fill="#d24b4b" fill-opacity="0.5"/>
<circle cx="176.40" cy="213.23" r="1.25" fill="#7fa6d6" fill-opacity="0.5"/>
<circle cx="176.44" cy="211.75" r="1.25" fill="#d24b4b" fill-opacity="0.5"/>
<circle cx="175.98" cy="207.12" r="1.25" fill="#d24b4b" fill-opacity="0.5"/>
<circle cx="176.45" cy="205.73" r="1.25" fill="#7fa6d6" fill-opacity="0.5"/>
<circle cx="176.37" cy="219.88" r="1.25" fill="#d24b4b" fill-opacity="0.5"/>
<circle cx="176.09" cy="265.53" r="1.25" fill="#d24b4b" fill-opacity="0.5"/>
<circle cx="180.29" cy="288.52" r="1.25" fill="#9a2e2e" fill-opacity="0.5"/>
<circle cx="180.29" cy="288.96" r="1.25" fill="#5f7fa9" fill-opacity="0.5"/>
<circle cx="180.29" cy="287.97" r="1.25" fill="#9a2e2e" fill-opacity="0.5"/>
<circle cx="180.39" cy="262.23" r="1.25" fill="#d24b4b" fill-opacity="0.5"/>
<circle cx="180.22" cy="206.72" r="1.25" fill="#d24b4b" fill-opacity="0.5"/>
<circle cx="180.41" cy="267.73" r="1.25" fill="#d24b4b" fill-opacity="0.5"/>
<circle cx="180.44" cy="237.30" r="1.25" fill="#d24b4b" fill-opacity="0.5"/>
<circle cx="180.39" cy="237.01" r="1.25" fill="#d24b4b" fill-opacity="0.5"/>
<circle cx="180.16" cy="218.06" r="1.25" fill="#d24b4b" fill-opacity="0.5"/>
<circle cx="180.24" cy="284.22" r="1.25" fill="#7fa6d6" fill-opacity="0.5"/>
<circle cx="180.41" cy="283.81" r="1.25" fill="#d24b4b" fill-opacity="0.5"/>
<circle cx="180.10" cy="232.49" r="1.25" fill="#d24b4b" fill-opacity="0.5"/>
<circle cx="184.36" cy="288.00" r="1.25" fill="#9a2e2e" fill-opacity="0.5"/>
<circle cx="184.36" cy="287.75" r="1.25" fill="#9a2e2e" fill-opacity="0.5"/>
<circle cx="184.36" cy="288.27" r="1.25" fill="#9a2e2e" fill-opacity="0.5"/>
<circle cx="184.28" cy="248.38" r="1.25" fill="#d24b4b" fill-opacity="0.5"/>
<circle cx="184.49" cy="207.53" r="1.25" fill="#d24b4b" fill-opacity="0.5"/>
<circle cx="184.45" cy="236.24" r="1.25" fill="#d24b4b" fill-opacity="0.5"/>
<circle cx="184.26" cy="212.54" r="1.25" fill="#d24b4b" fill-opacity="0.5"/>
<circle cx="184.23" cy="211.71" r="1.25" fill="#d24b4b" fill-opacity="0.5"/>
<circle cx="184.54" cy="252.70" r="1.25" fill="#d24b4b" fill-opacity="0.5"/>
<circle cx="184.44" cy="212.27" r="1.25" fill="#d24b4b" fill-opacity="0.5"/>
<circle cx="188.43" cy="287.76" r="1.25" fill="#5f7fa9" fill-opacity="0.5"/>
<circle cx="188.43" cy="288.53" r="1.25" fill="#9a2e2e" fill-opacity="0.5"/>
<circle cx="188.43" cy="288.48" r="1.25" fill="#9a2e2e" fill-opacity="0.5"/>
<circle cx="188.27" cy="207.39" r="1.25" fill="#d24b4b" fill-opacity="0.5"/>
<circle cx="188.54" cy="204.53" r="1.25" fill="#7fa6d6" fill-opacity="0.5"/>
<circle cx="188.24" cy="210.30" r="1.25" fill="#7fa6d6" fill-opacity="0.5"/>
<circle cx="188.35" cy="285.16" r="1.25" fill="#d24b4b" fill-opacity="0.5"/>
<circle cx="188.31" cy="212.10" r="1.25" fill="#d24b4b" fill-opacity="0.5"/>
<circle cx="188.26" cy="208.50" r="1.25" fill="#d24b4b" fill-opacity="0.5"/>
<circle cx="188.31" cy="236.06" r="1.25" fill="#d24b4b" fill-opacity="0.5"/>
<circle cx="188.43" cy="254.09" r="1.25" fill="#d24b4b" fill-opacity="0.5"/>
<circle cx="188.21" cy="278.53" r="1.25" fill="#d24b4b" fill-opacity="0.5"/>
<circle cx="188.54" cy="251.88" r="1.25" fill="#d24b4b" fill-opacity="0.5"/>
<circle cx="188.23" cy="230.70" r="1.25" fill="#d24b4b" fill-opacity="0.5"/>
<circle cx="188.58" cy="207.71" r="1.25" fill="#d24b4b" fill-opacity="0.5"/>
<circle cx="188.51" cy="218.46" r="1.25" fill="#d24b4b" fill-opacity="0.5"/>
<circle cx="192.50" cy="287.89" r="1.25" fill="#9a2e2e" fill-opacity="0.5"/>
<circle cx="192.50" cy="288.52" r="1.25" fill="#9a2e2e" fill-opacity="0.5"/>
<circle cx="192.50" cy="288.59" r="1.25" fill="#9a2e2e" fill-opacity="0.5"/>
<circle cx="192.42" cy="244.94" r="1.25" fill="#d24b4b" fill-opacity="0.5"/>
<circle cx="192.36" cy="213.75" r="1.25" fill="#d24b4b" fill-opacity="0.5"/>
<circle cx="192.34" cy="261.69" r="1.25" fill="#7fa6d6" fill-opacity="0.5"/>
<circle cx="192.70" cy="287.65" r="1.25" fill="#d24b4b" fill-opacity="0.5"/>
<circle cx="192.60" cy="211.20" r="1.25" fill="#d24b4b" fill-opacity="0.5"/>
<circle cx="192.65" cy="287.51" r="1.25" fill="#d24b4b" fill-opacity="0.5"/>
<circle cx="192.64" cy="255.89" r="1.25" fill="#d24b4b" fill-opacity="0.5"/>
<circle cx="192.37" cy="254.94" r="1.25" fill="#d24b4b" fill-opacity="0.5"/>
<circle cx="192.41" cy="288.37" r="1.25" fill="#d24b4b" fill-opacity="0.5"/>
<circle cx="196.57" cy="288.71" r="1.25" fill="#5f7fa9" fill-opacity="0.5"/>
<circle cx="196.57" cy="288.66" r="1.25" fill="#9a2e2e" fill-opacity="0.5"/>
<circle cx="196.57" cy="288.14" r="1.25" fill="#9a2e2e" fill-opacity="0.5"/>
<circle cx="196.51" cy="205.80" r="1.25" fill="#d24b4b" fill-opacity="0.5"/>
<circle cx="196.43" cy="237.49" r="1.25" fill="#d24b4b" fill-opacity="0.5"/>
<circle cx="196.71" cy="235.26" r="1.25" fill="#d24b4b" fill-opacity="0.5"/>
<circle cx="196.79" cy="224.32" r="1.25" fill="#d24b4b" fill-opacity="0.5"/>
<circle cx="196.46" cy="215.29" r="1.25" fill="#d24b4b" fill-opacity="0.5"/>
<circle cx="196.77" cy="286.74" r="1.25" fill="#d24b4b" fill-opacity="0.5"/>
<circle cx="196.47" cy="239.98" r="1.25" fill="#d24b4b" fill-opacity="0.5"/>
<circle cx="196.36" cy="287.81" r="1.25" fill="#d24b4b" fill-opacity="0.5"/>
<circle cx="196.80" cy="212.71" r="1.25" fill="#d24b4b" fill-opacity="0.5"/>
<circle cx="196.39" cy="232.43" r="1.25" fill="#d24b4b" fill-opacity="0.5"/>
<circle cx="196.74" cy="209.07" r="1.25" fill="#d24b4b" fill-opacity="0.5"/>
<circle cx="196.70" cy="212.65" r="1.25" fill="#d24b4b" fill-opacity="0.5"/>
<circle cx="200.64" cy="288.17" r="1.25" fill="#9a2e2e" fill-opacity="0.5"/>
<circle cx="200.64" cy="288.04" r="1.25" fill="#5f7fa9" fill-opacity="0.5"/>
<circle cx="200.64" cy="287.86" r="1.25" fill="#9a2e2e" fill-opacity="0.5"/>
<circle cx="200.50" cy="287.62" r="1.25" fill="#d24b4b" fill-opacity="0.5"/>
<circle cx="200.77" cy="284.29" r="1.25" fill="#d24b4b" fill-opacity="0.5"/>
<circle cx="200.85" cy="206.98" r="1.25" fill="#d24b4b" fill-opacity="0.5"/>
<circle cx="200.65" cy="281.55" r="1.25" fill="#7fa6d6" fill-opacity="0.5"/>
<circle cx="200.74" cy="219.19" r="1.25" fill="#7fa6d6" fill-opacity="0.5"/>
<circle cx="200.55" cy="287.77" r="1.25" fill="#d24b4b" fill-opacity="0.5"/>
<circle cx="200.42" cy="285.85" r="1.25" fill="#d24b4b" fill-opacity="0.5"/>
<circle cx="200.56" cy="215.04" r="1.25" fill="#d24b4b" fill-opacity="0.5"/>
<circle cx="200.41" cy="269.46" r="1.25" fill="#7fa6d6" fill-opacity="0.5"/>
<circle cx="200.86" cy="210.92" r="1.25" fill="#d24b4b" fill-opacity="0.5"/>
<circle cx="200.59" cy="280.44" r="1.25" fill="#d24b4b" fill-opacity="0.5"/>
<circle cx="200.77" cy="282.06" r="1.25" fill="#d24b4b" fill-opacity="0.5"/>
<circle cx="204.71" cy="288.49" r="1.25" fill="#5f7fa9" fill-opacity="0.5"/>
<circle cx="204.71" cy="288.84" r="1.25" fill="#9a2e2e" fill-opacity="0.5"/>
<circle cx="204.71" cy="287.77" r="1.25" fill="#5f7fa9" fill-opacity="0.5"/>
<circle cx="204.87" cy="287.90" r="1.25" fill="#d24b4b" fill-opacity="0.5"/>
<circle cx="204.53" cy="282.47" r="1.25" fill="#d24b4b" fill-opacity="0.5"/>
<circle cx="204.63" cy="229.76" r="1.25" fill="#7fa6d6" fill-opacity="0.5"/>
<circle cx="204.90" cy="282.88" r="1.25" fill="#d24b4b" fill-opacity="0.5"/>
<circle cx="204.79" cy="288.17" r="1.25" fill="#d24b4b" fill-opacity="0.5"/>
<circle cx="204.73" cy="282.04" r="1.25" fill="#d24b4b" fill-opacity="0.5"/>
<circle cx="204.85" cy="231.67" r="1.25" fill="#7fa6d6" fill-opacity="0.5"/>
<circle cx="204.51" cy="207.15" r="1.25" fill="#d24b4b" fill-opacity="0.5"/>
<circle cx="208.78" cy="287.74" r="1.25" fill="#9a2e2e" fill-opacity="0.5"/>
<circle cx="208.78" cy="288.02" r="1.25" fill="#9a2e2e" fill-opacity="0.5"/>
<circle cx="208.78" cy="287.79" r="1.25" fill="#9a2e2e" fill-opacity="0.5"/>
<circle cx="208.85" cy="285.70" r="1.25" fill="#d24b4b" fill-opacity="0.5"/>
<circle cx="208.85" cy="252.24" r="1.25" fill="#7fa6d6" fill-opacity="0.5"/>
<circle cx="208.95" cy="286.77" r="1.25" fill="#d24b4b" fill-opacity="0.5"/>
<circle cx="208.83" cy="224.98" r="1.25" fill="#7fa6d6" fill-opacity="0.5"/>
<circle cx="208.56" cy="284.86" r="1.25" fill="#d24b4b" fill-opacity="0.5"/>
<circle cx="208.63" cy="209.55" r="1.25" fill="#d24b4b" fill-opacity="0.5"/>
<circle cx="208.86" cy="287.57" r="1.25" fill="#7fa6d6" fill-opacity="0.5"/>
<circle cx="208.81" cy="284.12" r="1.25" fill="#d24b4b" fill-opacity="0.5"/>
<circle cx="212.85" cy="287.88" r="1.25" fill="#5f7fa9" fill-opacity="0.5"/>
<circle cx="212.85" cy="287.96" r="1.25" fill="#9a2e2e" fill-opacity="0.5"/>
<circle cx="212.85" cy="288.42" r="1.25" fill="#9a2e2e" fill-opacity="0.5"/>
<circle cx="212.97" cy="207.63" r="1.25" fill="#7fa6d6" fill-opacity="0.5"/>
<circle cx="212.82" cy="223.35" r="1.25" fill="#d24b4b" fill-opacity="0.5"/>
<circle cx="213.06" cy="279.53" r="1.25" fill="#d24b4b" fill-opacity="0.5"/>
<circle cx="216.92" cy="288.12" r="1.25" fill="#9a2e2e" fill-opacity="0.5"/>
<circle cx="216.68" cy="281.34" r="1.25" fill="#7fa6d6" fill-opacity="0.5"/>
<circle cx="216.86" cy="288.01" r="1.25" fill="#7fa6d6" fill-opacity="0.5"/>
<circle cx="216.99" cy="287.99" r="1.25" fill="#7fa6d6" fill-opacity="0.5"/>
<circle cx="216.95" cy="205.07" r="1.25" fill="#d24b4b" fill-opacity="0.5"/>
<circle cx="217.10" cy="221.92" r="1.25" fill="#d24b4b" fill-opacity="0.5"/>
<circle cx="220.99" cy="288.70" r="1.25" fill="#9a2e2e" fill-opacity="0.5"/>
<circle cx="221.02" cy="288.12" r="1.25" fill="#d24b4b" fill-opacity="0.5"/>
<circle cx="221.04" cy="286.94" r="1.25" fill="#d24b4b" fill-opacity="0.5"/>
<circle cx="221.00" cy="250.10" r="1.25" fill="#d24b4b" fill-opacity="0.5"/>
<circle cx="220.74" cy="212.10" r="1.25" fill="#d24b4b" fill-opacity="0.5"/>
<circle cx="225.06" cy="288.70" r="1.25" fill="#9a2e2e" fill-opacity="0.5"/>
<circle cx="225.22" cy="259.67" r="1.25" fill="#d24b4b" fill-opacity="0.5"/>
<circle cx="225.17" cy="219.79" r="1.25" fill="#d24b4b" fill-opacity="0.5"/>
<circle cx="224.92" cy="241.26" r="1.25" fill="#7fa6d6" fill-opacity="0.5"/>
<circle cx="229.13" cy="288.29" r="1.25" fill="#9a2e2e" fill-opacity="0.5"/>
<circle cx="229.10" cy="280.09" r="1.25" fill="#d24b4b" fill-opacity="0.5"/>
<circle cx="228.95" cy="207.40" r="1.25" fill="#d24b4b" fill-opacity="0.5"/>
<circle cx="229.38" cy="282.30" r="1.25" fill="#d24b4b" fill-opacity="0.5"/>
<circle cx="228.96" cy="288.31" r="1.25" fill="#d24b4b" fill-opacity="0.5"/>
<circle cx="233.20" cy="288.57" r="1.25" fill="#9a2e2e" fill-opacity="0.5"/>
<circle cx="233.17" cy="285.58" r="1.25" fill="#d24b4b" fill-opacity="0.5"/>
<circle cx="233.16" cy="285.88" r="1.25" fill="#7fa6d6" fill-opacity="0.5"/>
<circle cx="233.25" cy="285.90" r="1.25" fill="#d24b4b" fill-opacity="0.5"/>
<circle cx="237.27" cy="288.09" r="1.25" fill="#9a2e2e" fill-opacity="0.5"/>
<circle cx="237.06" cy="286.82" r="1.25" fill="#d24b4b" fill-opacity="0.5"/>
<circle cx="237.22" cy="286.37" r="1.25" fill="#d24b4b" fill-opacity="0.5"/>
<circle cx="237.37" cy="253.57" r="1.25" fill="#d24b4b" fill-opacity="0.5"/>
<circle cx="237.02" cy="210.97" r="1.25" fill="#7fa6d6" fill-opacity="0.5"/>
<circle cx="241.34" cy="288.72" r="1.25" fill="#9a2e2e" fill-opacity="0.5"/>
<circle cx="241.43" cy="284.24" r="1.25" fill="#7fa6d6" fill-opacity="0.5"/>
<circle cx="241.46" cy="284.99" r="1.25" fill="#d24b4b" fill-opacity="0.5"/>
<circle cx="241.40" cy="283.28" r="1.25" fill="#d24b4b" fill-opacity="0.5"/>
<circle cx="241.38" cy="254.86" r="1.25" fill="#d24b4b" fill-opacity="0.5"/>
<circle cx="241.42" cy="285.42" r="1.25" fill="#d24b4b" fill-opacity="0.5"/>
<circle cx="245.41" cy="287.89" r="1.25" fill="#5f7fa9" fill-opacity="0.5"/>
<circle cx="245.56" cy="283.94" r="1.25" fill="#d24b4b" fill-opacity="0.5"/>
<circle cx="245.17" cy="244.96" r="1.25" fill="#d24b4b" fill-opacity="0.5"/>
<circle cx="245.22" cy="283.86" r="1.25" fill="#d24b4b" fill-opacity="0.5"/>
<circle cx="249.48" cy="288.55" r="1.25" fill="#9a2e2e" fill-opacity="0.5"/>
<circle cx="249.63" cy="221.49" r="1.25" fill="#d24b4b" fill-opacity="0.5"/>
<circle cx="249.68" cy="287.94" r="1.25" fill="#d24b4b" fill-opacity="0.5"/>
<circle cx="249.42" cy="223.73" r="1.25" fill="#d24b4b" fill-opacity="0.5"/>
<circle cx="249.60" cy="204.65" r="1.25" fill="#d24b4b" fill-opacity="0.5"/>
<circle cx="253.55" cy="288.14" r="1.25" fill="#9a2e2e" fill-opacity="0.5"/>
<circle cx="253.66" cy="234.19" r="1.25" fill="#7fa6d6" fill-opacity="0.5"/>
<circle cx="253.34" cy="279.32" r="1.25" fill="#7fa6d6" fill-opacity="0.5"/>
<circle cx="253.67" cy="261.66" r="1.25" fill="#7fa6d6" fill-opacity="0.5"/>
<circle cx="253.74" cy="266.73" r="1.25" fill="#d24b4b" fill-opacity="0.5"/>
<path d="M58.00,269.50 C59.17,268.85 61.92,267.06 65.00,265.59 C68.08,264.12 73.80,261.89 76.50,260.70 C79.20,259.52 76.97,260.03 81.20,258.50 C85.43,256.97 95.40,252.02 101.90,251.50 C108.40,250.98 113.72,253.12 120.20,255.40 C126.68,257.68 133.67,262.62 140.80,265.16 C147.93,267.70 153.52,269.52 163.00,270.65 C172.48,271.78 188.07,272.76 197.70,271.92 C207.33,271.07 212.33,268.49 220.80,265.61 C229.27,262.72 243.88,256.45 248.50,254.62 L248.50,298.38 C243.88,297.95 229.27,296.91 220.80,295.79 C212.33,294.68 207.33,293.16 197.70,291.69 C188.07,290.21 172.48,289.02 163.00,286.95 C153.52,284.88 147.93,282.17 140.80,279.24 C133.67,276.31 126.68,271.69 120.20,269.40 C113.72,267.11 108.40,264.98 101.90,265.50 C95.40,266.02 85.43,270.70 81.20,272.50 C76.97,274.30 79.20,273.98 76.50,276.30 C73.80,278.61 68.08,283.54 65.00,286.41 C61.92,289.28 59.17,292.32 58.00,293.50 Z" fill="#b8b8b8" fill-opacity="0.5"/>
<path d="M58.00,269.00 C59.17,268.40 61.92,266.57 65.00,265.41 C68.08,264.25 73.80,262.90 76.50,262.05 C79.20,261.19 76.97,262.04 81.20,260.28 C85.43,258.52 95.40,253.96 101.90,251.49 C108.40,249.01 113.72,247.27 120.20,245.43 C126.68,243.58 135.17,241.42 140.80,240.43 C146.43,239.44 149.80,239.32 154.00,239.50 C158.20,239.68 161.67,240.58 166.00,241.50 C170.33,242.42 174.72,244.05 180.00,245.00 C185.28,245.95 190.90,247.61 197.70,247.20 C204.50,246.79 211.58,245.39 220.80,242.55 C230.02,239.72 247.63,232.26 253.00,230.20 L253.00,258.20 C247.63,258.84 230.02,261.55 220.80,262.05 C211.58,262.55 204.50,261.71 197.70,261.20 C190.90,260.69 185.28,259.95 180.00,259.00 C174.72,258.05 170.33,256.42 166.00,255.50 C161.67,254.58 158.20,253.72 154.00,253.50 C149.80,253.28 146.43,253.32 140.80,254.17 C135.17,255.01 126.68,256.92 120.20,258.57 C113.72,260.23 108.40,261.82 101.90,264.11 C95.40,266.40 85.43,270.34 81.20,272.32 C76.97,274.29 79.20,273.74 76.50,275.95 C73.80,278.17 68.08,282.75 65.00,285.59 C61.92,288.43 59.17,291.77 58.00,293.00 Z" fill="#b8b8b8" fill-opacity="0.5"/>
<path d="M49.60,288.60 C51.00,287.42 55.43,283.60 58.00,281.50 C60.57,279.40 61.92,278.17 65.00,276.00 C68.08,273.83 73.80,270.25 76.50,268.50 C79.20,266.75 76.97,267.17 81.20,265.50 C85.43,263.83 95.40,259.02 101.90,258.50 C108.40,257.98 113.72,260.12 120.20,262.40 C126.68,264.68 133.67,269.47 140.80,272.20 C147.93,274.93 153.52,277.20 163.00,278.80 C172.48,280.40 188.07,281.48 197.70,281.80 C207.33,282.12 212.33,281.58 220.80,280.70 C229.27,279.82 243.88,277.20 248.50,276.50" fill="none" stroke="#3a5d98" stroke-width="1.5"/>
<path d="M49.60,288.60 C51.00,287.33 55.43,283.18 58.00,281.00 C60.57,278.82 61.92,277.50 65.00,275.50 C68.08,273.50 73.80,270.53 76.50,269.00 C79.20,267.47 76.97,268.17 81.20,266.30 C85.43,264.43 95.40,260.18 101.90,257.80 C108.40,255.42 113.72,253.75 120.20,252.00 C126.68,250.25 135.17,248.22 140.80,247.30 C146.43,246.38 149.80,246.30 154.00,246.50 C158.20,246.70 161.67,247.58 166.00,248.50 C170.33,249.42 174.72,251.05 180.00,252.00 C185.28,252.95 190.90,254.15 197.70,254.20 C204.50,254.25 211.58,253.97 220.80,252.30 C230.02,250.63 247.63,245.55 253.00,244.20" fill="none" stroke="#b81e26" stroke-width="1.5"/>
<path d="M40.2,199 V306.5 H255" fill="none" stroke="#303030" stroke-width="1.55"/>
<line x1="37.4" y1="288.40" x2="40.4" y2="288.40" stroke="#303030" stroke-width="1.15"/>
<text x="34.60" y="290.75" font-size="6.6" text-anchor="end" fill="#333" font-weight="normal" stroke-width="0" stroke="none">0%</text>
<line x1="37.4" y1="267.22" x2="40.4" y2="267.22" stroke="#303030" stroke-width="1.15"/>
<text x="34.60" y="269.57" font-size="6.6" text-anchor="end" fill="#333" font-weight="normal" stroke-width="0" stroke="none">25%</text>
<line x1="37.4" y1="246.05" x2="40.4" y2="246.05" stroke="#303030" stroke-width="1.15"/>
<text x="34.60" y="248.40" font-size="6.6" text-anchor="end" fill="#333" font-weight="normal" stroke-width="0" stroke="none">50%</text>
<line x1="37.4" y1="224.87" x2="40.4" y2="224.87" stroke="#303030" stroke-width="1.15"/>
<text x="34.60" y="227.22" font-size="6.6" text-anchor="end" fill="#333" font-weight="normal" stroke-width="0" stroke="none">75%</text>
<line x1="37.4" y1="203.70" x2="40.4" y2="203.70" stroke="#303030" stroke-width="1.15"/>
<text x="34.60" y="206.05" font-size="6.6" text-anchor="end" fill="#333" font-weight="normal" stroke-width="0" stroke="none">100%</text>
<line x1="70.40" y1="306.5" x2="70.40" y2="309.1" stroke="#303030" stroke-width="1.15"/>
<text x="70.40" y="317.60" font-size="6.6" text-anchor="middle" fill="#333" font-weight="normal" stroke-width="0" stroke="none">0</text>
<line x1="111.10" y1="306.5" x2="111.10" y2="309.1" stroke="#303030" stroke-width="1.15"/>
<text x="111.10" y="317.60" font-size="6.6" text-anchor="middle" fill="#333" font-weight="normal" stroke-width="0" stroke="none">10</text>
<line x1="151.80" y1="306.5" x2="151.80" y2="309.1" stroke="#303030" stroke-width="1.15"/>
<text x="151.80" y="317.60" font-size="6.6" text-anchor="middle" fill="#333" font-weight="normal" stroke-width="0" stroke="none">20</text>
<line x1="192.50" y1="306.5" x2="192.50" y2="309.1" stroke="#303030" stroke-width="1.15"/>
<text x="192.50" y="317.60" font-size="6.6" text-anchor="middle" fill="#333" font-weight="normal" stroke-width="0" stroke="none">30</text>
<line x1="233.20" y1="306.5" x2="233.20" y2="309.1" stroke="#303030" stroke-width="1.15"/>
<text x="233.20" y="317.60" font-size="6.6" text-anchor="middle" fill="#333" font-weight="normal" stroke-width="0" stroke="none">40</text>
<text x="50.80" y="302.60" font-size="6.1" text-anchor="start" fill="#1a1a1a" font-weight="normal" textLength="109.6" lengthAdjust="spacingAndGlyphs" stroke="#1a1a1a" stroke-width="0.12">Linear mixed-effects regression <tspan font-style="italic">P</tspan> = .0053</text>
<text x="151.50" y="329.30" font-size="8.9" text-anchor="middle" fill="#222" font-weight="normal" textLength="47.4" lengthAdjust="spacingAndGlyphs" stroke="#222" stroke-width="0.3">Day relative to HCT</text>
<text x="10.40" y="252.20" font-size="8.7" text-anchor="middle" fill="#222" font-weight="normal" textLength="47.6" lengthAdjust="spacingAndGlyphs" transform="rotate(-90 10.4 252.2)" dy="3.1" stroke="#222" stroke-width="0.25">Relative abundance</text>
<text x="263.50" y="16.00" font-size="11.2" text-anchor="start" fill="#111" font-weight="bold" stroke="#111" stroke-width="0.16">C</text>
<circle cx="365.89" cy="97.69" r="1.55" fill="#138f8c" fill-opacity="0.72"/>
<circle cx="344.42" cy="83.24" r="1.55" fill="#f27a4f" fill-opacity="0.72"/>
<circle cx="315.32" cy="73.53" r="1.55" fill="#6db36b" fill-opacity="0.72"/>
<circle cx="367.31" cy="94.57" r="1.55" fill="#138f8c" fill-opacity="0.72"/>
<circle cx="320.14" cy="79.17" r="1.55" fill="#d8213b" fill-opacity="0.72"/>
<circle cx="357.17" cy="79.27" r="1.55" fill="#138f8c" fill-opacity="0.72"/>
<circle cx="330.94" cy="92.33" r="1.55" fill="#6db36b" fill-opacity="0.72"/>
<circle cx="378.36" cy="122.77" r="1.55" fill="#138f8c" fill-opacity="0.72"/>
<circle cx="320.61" cy="103.21" r="1.55" fill="#6db36b" fill-opacity="0.72"/>
<circle cx="366.50" cy="58.90" r="1.55" fill="#f27a4f" fill-opacity="0.72"/>
<circle cx="311.60" cy="83.52" r="1.55" fill="#d8213b" fill-opacity="0.72"/>
<circle cx="366.27" cy="100.15" r="1.55" fill="#138f8c" fill-opacity="0.72"/>
<circle cx="376.98" cy="121.29" r="1.55" fill="#138f8c" fill-opacity="0.72"/>
<circle cx="368.55" cy="49.29" r="1.55" fill="#f27a4f" fill-opacity="0.72"/>
<circle cx="357.36" cy="112.73" r="1.55" fill="#138f8c" fill-opacity="0.72"/>
<circle cx="370.64" cy="113.32" r="1.55" fill="#138f8c" fill-opacity="0.72"/>
<circle cx="333.50" cy="111.27" r="1.55" fill="#138f8c" fill-opacity="0.72"/>
<circle cx="359.46" cy="112.17" r="1.55" fill="#138f8c" fill-opacity="0.72"/>
<circle cx="361.08" cy="66.78" r="1.55" fill="#138f8c" fill-opacity="0.72"/>
<circle cx="304.82" cy="91.81" r="1.55" fill="#6db36b" fill-opacity="0.72"/>
<circle cx="330.30" cy="76.04" r="1.55" fill="#6db36b" fill-opacity="0.72"/>
<circle cx="308.27" cy="88.04" r="1.55" fill="#d8213b" fill-opacity="0.72"/>
<circle cx="359.30" cy="76.03" r="1.55" fill="#f27a4f" fill-opacity="0.72"/>
<circle cx="379.32" cy="122.03" r="1.55" fill="#138f8c" fill-opacity="0.72"/>
<circle cx="373.30" cy="109.28" r="1.55" fill="#138f8c" fill-opacity="0.72"/>
<circle cx="367.94" cy="77.07" r="1.55" fill="#f27a4f" fill-opacity="0.72"/>
<circle cx="373.47" cy="111.06" r="1.55" fill="#138f8c" fill-opacity="0.72"/>
<circle cx="368.42" cy="102.94" r="1.55" fill="#138f8c" fill-opacity="0.72"/>
<circle cx="367.78" cy="100.57" r="1.55" fill="#138f8c" fill-opacity="0.72"/>
<circle cx="354.77" cy="90.77" r="1.55" fill="#138f8c" fill-opacity="0.72"/>
<circle cx="355.34" cy="80.76" r="1.55" fill="#138f8c" fill-opacity="0.72"/>
<circle cx="367.67" cy="57.02" r="1.55" fill="#f27a4f" fill-opacity="0.72"/>
<circle cx="309.19" cy="86.27" r="1.55" fill="#d8213b" fill-opacity="0.72"/>
<circle cx="353.89" cy="88.80" r="1.55" fill="#138f8c" fill-opacity="0.72"/>
<circle cx="362.68" cy="64.09" r="1.55" fill="#138f8c" fill-opacity="0.72"/>
<circle cx="369.20" cy="94.69" r="1.55" fill="#138f8c" fill-opacity="0.72"/>
<circle cx="375.26" cy="120.73" r="1.55" fill="#138f8c" fill-opacity="0.72"/>
<circle cx="370.92" cy="108.64" r="1.55" fill="#138f8c" fill-opacity="0.72"/>
<circle cx="367.29" cy="51.54" r="1.55" fill="#f27a4f" fill-opacity="0.72"/>
<circle cx="325.81" cy="86.76" r="1.55" fill="#6db36b" fill-opacity="0.72"/>
<circle cx="380.28" cy="87.29" r="1.55" fill="#f27a4f" fill-opacity="0.72"/>
<circle cx="303.58" cy="93.95" r="1.55" fill="#d8213b" fill-opacity="0.72"/>
<circle cx="339.31" cy="86.34" r="1.55" fill="#6db36b" fill-opacity="0.72"/>
<circle cx="366.22" cy="95.13" r="1.55" fill="#138f8c" fill-opacity="0.72"/>
<circle cx="361.80" cy="64.64" r="1.55" fill="#138f8c" fill-opacity="0.72"/>
<circle cx="305.04" cy="90.14" r="1.55" fill="#d8213b" fill-opacity="0.72"/>
<circle cx="359.35" cy="72.42" r="1.55" fill="#138f8c" fill-opacity="0.72"/>
<circle cx="317.40" cy="80.73" r="1.55" fill="#d8213b" fill-opacity="0.72"/>
<circle cx="366.54" cy="66.06" r="1.55" fill="#f27a4f" fill-opacity="0.72"/>
<circle cx="359.18" cy="73.24" r="1.55" fill="#138f8c" fill-opacity="0.72"/>
<circle cx="380.20" cy="94.81" r="1.55" fill="#f27a4f" fill-opacity="0.72"/>
<circle cx="373.99" cy="115.81" r="1.55" fill="#138f8c" fill-opacity="0.72"/>
<circle cx="314.30" cy="78.20" r="1.55" fill="#d8213b" fill-opacity="0.72"/>
<circle cx="311.90" cy="83.71" r="1.55" fill="#d8213b" fill-opacity="0.72"/>
<circle cx="369.35" cy="103.04" r="1.55" fill="#138f8c" fill-opacity="0.72"/>
<circle cx="379.45" cy="87.72" r="1.55" fill="#f27a4f" fill-opacity="0.72"/>
<circle cx="318.60" cy="79.38" r="1.55" fill="#d8213b" fill-opacity="0.72"/>
<circle cx="366.76" cy="51.16" r="1.55" fill="#f27a4f" fill-opacity="0.72"/>
<circle cx="366.27" cy="98.66" r="1.55" fill="#138f8c" fill-opacity="0.72"/>
<circle cx="313.18" cy="82.31" r="1.55" fill="#d8213b" fill-opacity="0.72"/>
<circle cx="315.72" cy="85.04" r="1.55" fill="#d8213b" fill-opacity="0.72"/>
<circle cx="304.98" cy="91.25" r="1.55" fill="#d8213b" fill-opacity="0.72"/>
<circle cx="309.40" cy="105.67" r="1.55" fill="#d8213b" fill-opacity="0.72"/>
<circle cx="366.42" cy="103.92" r="1.55" fill="#138f8c" fill-opacity="0.72"/>
<circle cx="374.41" cy="117.99" r="1.55" fill="#138f8c" fill-opacity="0.72"/>
<circle cx="353.53" cy="101.39" r="1.55" fill="#6db36b" fill-opacity="0.72"/>
<circle cx="371.80" cy="108.17" r="1.55" fill="#138f8c" fill-opacity="0.72"/>
<circle cx="322.19" cy="111.12" r="1.55" fill="#f27a4f" fill-opacity="0.72"/>
<circle cx="355.83" cy="107.09" r="1.55" fill="#6db36b" fill-opacity="0.72"/>
<circle cx="368.73" cy="107.88" r="1.55" fill="#138f8c" fill-opacity="0.72"/>
<circle cx="362.39" cy="62.64" r="1.55" fill="#138f8c" fill-opacity="0.72"/>
<circle cx="311.17" cy="84.58" r="1.55" fill="#d8213b" fill-opacity="0.72"/>
<circle cx="361.85" cy="68.84" r="1.55" fill="#f27a4f" fill-opacity="0.72"/>
<circle cx="309.95" cy="87.65" r="1.55" fill="#d8213b" fill-opacity="0.72"/>
<circle cx="354.78" cy="94.88" r="1.55" fill="#138f8c" fill-opacity="0.72"/>
<circle cx="323.33" cy="88.65" r="1.55" fill="#6db36b" fill-opacity="0.72"/>
<circle cx="368.10" cy="102.79" r="1.55" fill="#138f8c" fill-opacity="0.72"/>
<circle cx="370.09" cy="108.16" r="1.55" fill="#138f8c" fill-opacity="0.72"/>
<circle cx="364.23" cy="59.11" r="1.55" fill="#138f8c" fill-opacity="0.72"/>
<circle cx="367.50" cy="48.77" r="1.55" fill="#f27a4f" fill-opacity="0.72"/>
<circle cx="302.60" cy="91.67" r="1.55" fill="#d8213b" fill-opacity="0.72"/>
<circle cx="376.16" cy="85.71" r="1.55" fill="#f27a4f" fill-opacity="0.72"/>
<circle cx="310.54" cy="85.73" r="1.55" fill="#d8213b" fill-opacity="0.72"/>
<circle cx="360.78" cy="67.65" r="1.55" fill="#138f8c" fill-opacity="0.72"/>
<circle cx="307.89" cy="87.77" r="1.55" fill="#d8213b" fill-opacity="0.72"/>
<circle cx="368.54" cy="108.50" r="1.55" fill="#138f8c" fill-opacity="0.72"/>
<circle cx="367.22" cy="57.68" r="1.55" fill="#f27a4f" fill-opacity="0.72"/>
<circle cx="368.15" cy="100.85" r="1.55" fill="#138f8c" fill-opacity="0.72"/>
<circle cx="334.18" cy="91.33" r="1.55" fill="#6db36b" fill-opacity="0.72"/>
<circle cx="357.27" cy="81.25" r="1.55" fill="#138f8c" fill-opacity="0.72"/>
<circle cx="311.01" cy="86.72" r="1.55" fill="#d8213b" fill-opacity="0.72"/>
<circle cx="324.82" cy="78.20" r="1.55" fill="#6db36b" fill-opacity="0.72"/>
<circle cx="366.89" cy="55.72" r="1.55" fill="#f27a4f" fill-opacity="0.72"/>
<circle cx="313.80" cy="81.93" r="1.55" fill="#d8213b" fill-opacity="0.72"/>
<circle cx="352.32" cy="106.14" r="1.55" fill="#138f8c" fill-opacity="0.72"/>
<circle cx="324.38" cy="89.70" r="1.55" fill="#f27a4f" fill-opacity="0.72"/>
<circle cx="360.63" cy="66.18" r="1.55" fill="#138f8c" fill-opacity="0.72"/>
<circle cx="348.01" cy="106.62" r="1.55" fill="#6db36b" fill-opacity="0.72"/>
<circle cx="316.08" cy="83.50" r="1.55" fill="#d8213b" fill-opacity="0.72"/>
<circle cx="363.49" cy="75.31" r="1.55" fill="#f27a4f" fill-opacity="0.72"/>
<circle cx="338.34" cy="96.40" r="1.55" fill="#138f8c" fill-opacity="0.72"/>
<circle cx="369.20" cy="99.26" r="1.55" fill="#138f8c" fill-opacity="0.72"/>
<circle cx="359.21" cy="74.86" r="1.55" fill="#138f8c" fill-opacity="0.72"/>
<circle cx="309.90" cy="89.04" r="1.55" fill="#d8213b" fill-opacity="0.72"/>
<circle cx="371.68" cy="96.62" r="1.55" fill="#138f8c" fill-opacity="0.72"/>
<circle cx="353.21" cy="89.03" r="1.55" fill="#6db36b" fill-opacity="0.72"/>
<circle cx="357.42" cy="77.36" r="1.55" fill="#138f8c" fill-opacity="0.72"/>
<circle cx="363.13" cy="62.37" r="1.55" fill="#138f8c" fill-opacity="0.72"/>
<circle cx="325.35" cy="112.27" r="1.55" fill="#f27a4f" fill-opacity="0.72"/>
<circle cx="360.90" cy="66.30" r="1.55" fill="#138f8c" fill-opacity="0.72"/>
<circle cx="371.31" cy="105.53" r="1.55" fill="#138f8c" fill-opacity="0.72"/>
<circle cx="355.63" cy="90.57" r="1.55" fill="#138f8c" fill-opacity="0.72"/>
<circle cx="313.90" cy="97.65" r="1.55" fill="#d8213b" fill-opacity="0.72"/>
<circle cx="336.22" cy="81.41" r="1.55" fill="#f27a4f" fill-opacity="0.72"/>
<circle cx="328.19" cy="103.42" r="1.55" fill="#6db36b" fill-opacity="0.72"/>
<circle cx="367.51" cy="89.62" r="1.55" fill="#138f8c" fill-opacity="0.72"/>
<circle cx="341.29" cy="87.73" r="1.55" fill="#6db36b" fill-opacity="0.72"/>
<circle cx="359.02" cy="77.22" r="1.55" fill="#f27a4f" fill-opacity="0.72"/>
<circle cx="332.60" cy="87.25" r="1.55" fill="#6db36b" fill-opacity="0.72"/>
<circle cx="366.13" cy="68.51" r="1.55" fill="#f27a4f" fill-opacity="0.72"/>
<circle cx="319.17" cy="75.22" r="1.55" fill="#6db36b" fill-opacity="0.72"/>
<circle cx="373.05" cy="103.10" r="1.55" fill="#138f8c" fill-opacity="0.72"/>
<circle cx="378.62" cy="120.03" r="1.55" fill="#138f8c" fill-opacity="0.72"/>
<circle cx="356.05" cy="80.37" r="1.55" fill="#138f8c" fill-opacity="0.72"/>
<circle cx="361.69" cy="68.65" r="1.55" fill="#138f8c" fill-opacity="0.72"/>
<circle cx="303.55" cy="92.39" r="1.55" fill="#d8213b" fill-opacity="0.72"/>
<circle cx="320.06" cy="111.35" r="1.55" fill="#f27a4f" fill-opacity="0.72"/>
<circle cx="347.58" cy="100.10" r="1.55" fill="#138f8c" fill-opacity="0.72"/>
<circle cx="316.27" cy="80.45" r="1.55" fill="#d8213b" fill-opacity="0.72"/>
<circle cx="368.64" cy="105.91" r="1.55" fill="#138f8c" fill-opacity="0.72"/>
<circle cx="355.17" cy="97.56" r="1.55" fill="#6db36b" fill-opacity="0.72"/>
<circle cx="320.99" cy="96.97" r="1.55" fill="#6db36b" fill-opacity="0.72"/>
<circle cx="360.58" cy="67.39" r="1.55" fill="#138f8c" fill-opacity="0.72"/>
<circle cx="310.21" cy="84.76" r="1.55" fill="#d8213b" fill-opacity="0.72"/>
<circle cx="341.36" cy="78.03" r="1.55" fill="#6db36b" fill-opacity="0.72"/>
<circle cx="355.57" cy="80.22" r="1.55" fill="#138f8c" fill-opacity="0.72"/>
<circle cx="375.85" cy="120.59" r="1.55" fill="#138f8c" fill-opacity="0.72"/>
<circle cx="374.37" cy="85.56" r="1.55" fill="#f27a4f" fill-opacity="0.72"/>
<circle cx="367.68" cy="49.07" r="1.55" fill="#f27a4f" fill-opacity="0.72"/>
<circle cx="366.25" cy="51.79" r="1.55" fill="#f27a4f" fill-opacity="0.72"/>
<circle cx="365.63" cy="57.60" r="1.55" fill="#138f8c" fill-opacity="0.72"/>
<circle cx="370.06" cy="76.10" r="1.55" fill="#f27a4f" fill-opacity="0.72"/>
<circle cx="371.79" cy="109.45" r="1.55" fill="#138f8c" fill-opacity="0.72"/>
<circle cx="326.89" cy="106.65" r="1.55" fill="#6db36b" fill-opacity="0.72"/>
<circle cx="380.07" cy="82.53" r="1.55" fill="#f27a4f" fill-opacity="0.72"/>
<circle cx="375.51" cy="116.98" r="1.55" fill="#138f8c" fill-opacity="0.72"/>
<circle cx="309.92" cy="86.17" r="1.55" fill="#d8213b" fill-opacity="0.72"/>
<circle cx="321.44" cy="80.43" r="1.55" fill="#d8213b" fill-opacity="0.72"/>
<circle cx="369.35" cy="95.26" r="1.55" fill="#138f8c" fill-opacity="0.72"/>
<circle cx="320.68" cy="97.95" r="1.55" fill="#6db36b" fill-opacity="0.72"/>
<circle cx="363.86" cy="64.31" r="1.55" fill="#f27a4f" fill-opacity="0.72"/>
<circle cx="365.50" cy="97.28" r="1.55" fill="#138f8c" fill-opacity="0.72"/>
<circle cx="367.94" cy="59.11" r="1.55" fill="#f27a4f" fill-opacity="0.72"/>
<circle cx="330.68" cy="89.19" r="1.55" fill="#6db36b" fill-opacity="0.72"/>
<circle cx="313.63" cy="84.32" r="1.55" fill="#d8213b" fill-opacity="0.72"/>
<circle cx="369.60" cy="99.72" r="1.55" fill="#138f8c" fill-opacity="0.72"/>
<circle cx="365.61" cy="56.87" r="1.55" fill="#f27a4f" fill-opacity="0.72"/>
<circle cx="337.45" cy="77.02" r="1.55" fill="#6db36b" fill-opacity="0.72"/>
<circle cx="351.38" cy="87.63" r="1.55" fill="#138f8c" fill-opacity="0.72"/>
<circle cx="369.17" cy="112.13" r="1.55" fill="#138f8c" fill-opacity="0.72"/>
<circle cx="340.76" cy="78.67" r="1.55" fill="#6db36b" fill-opacity="0.72"/>
<circle cx="367.39" cy="95.37" r="1.55" fill="#138f8c" fill-opacity="0.72"/>
<circle cx="324.69" cy="77.88" r="1.55" fill="#6db36b" fill-opacity="0.72"/>
<circle cx="374.97" cy="105.95" r="1.55" fill="#138f8c" fill-opacity="0.72"/>
<circle cx="356.41" cy="84.56" r="1.55" fill="#138f8c" fill-opacity="0.72"/>
<circle cx="312.31" cy="83.67" r="1.55" fill="#d8213b" fill-opacity="0.72"/>
<circle cx="370.76" cy="115.44" r="1.55" fill="#138f8c" fill-opacity="0.72"/>
<circle cx="332.71" cy="104.54" r="1.55" fill="#6db36b" fill-opacity="0.72"/>
<circle cx="366.85" cy="60.50" r="1.55" fill="#f27a4f" fill-opacity="0.72"/>
<circle cx="371.09" cy="116.60" r="1.55" fill="#138f8c" fill-opacity="0.72"/>
<circle cx="307.39" cy="93.48" r="1.55" fill="#d8213b" fill-opacity="0.72"/>
<circle cx="370.68" cy="48.18" r="1.55" fill="#f27a4f" fill-opacity="0.72"/>
<circle cx="371.20" cy="48.53" r="1.55" fill="#f27a4f" fill-opacity="0.72"/>
<circle cx="352.91" cy="109.66" r="1.55" fill="#138f8c" fill-opacity="0.72"/>
<circle cx="306.60" cy="94.55" r="1.55" fill="#d8213b" fill-opacity="0.72"/>
<circle cx="309.94" cy="88.02" r="1.55" fill="#d8213b" fill-opacity="0.72"/>
<circle cx="368.19" cy="105.81" r="1.55" fill="#138f8c" fill-opacity="0.72"/>
<circle cx="306.01" cy="90.59" r="1.55" fill="#d8213b" fill-opacity="0.72"/>
<circle cx="364.49" cy="65.43" r="1.55" fill="#f27a4f" fill-opacity="0.72"/>
<circle cx="369.36" cy="94.79" r="1.55" fill="#138f8c" fill-opacity="0.72"/>
<circle cx="357.06" cy="74.71" r="1.55" fill="#f27a4f" fill-opacity="0.72"/>
<circle cx="370.55" cy="110.22" r="1.55" fill="#138f8c" fill-opacity="0.72"/>
<circle cx="378.73" cy="86.80" r="1.55" fill="#f27a4f" fill-opacity="0.72"/>
<circle cx="320.07" cy="76.70" r="1.55" fill="#6db36b" fill-opacity="0.72"/>
<circle cx="368.47" cy="110.36" r="1.55" fill="#138f8c" fill-opacity="0.72"/>
<circle cx="367.37" cy="96.35" r="1.55" fill="#138f8c" fill-opacity="0.72"/>
<circle cx="356.44" cy="76.49" r="1.55" fill="#138f8c" fill-opacity="0.72"/>
<circle cx="335.88" cy="75.21" r="1.55" fill="#f27a4f" fill-opacity="0.72"/>
<circle cx="337.63" cy="74.36" r="1.55" fill="#f27a4f" fill-opacity="0.72"/>
<circle cx="379.76" cy="82.51" r="1.55" fill="#f27a4f" fill-opacity="0.72"/>
<circle cx="313.09" cy="100.87" r="1.55" fill="#d8213b" fill-opacity="0.72"/>
<circle cx="348.65" cy="85.48" r="1.55" fill="#138f8c" fill-opacity="0.72"/>
<circle cx="352.47" cy="81.16" r="1.55" fill="#138f8c" fill-opacity="0.72"/>
<circle cx="366.04" cy="98.95" r="1.55" fill="#138f8c" fill-opacity="0.72"/>
<circle cx="365.45" cy="61.21" r="1.55" fill="#f27a4f" fill-opacity="0.72"/>
<circle cx="371.69" cy="101.01" r="1.55" fill="#138f8c" fill-opacity="0.72"/>
<circle cx="321.46" cy="100.33" r="1.55" fill="#6db36b" fill-opacity="0.72"/>
<circle cx="336.26" cy="74.86" r="1.55" fill="#6db36b" fill-opacity="0.72"/>
<circle cx="376.01" cy="105.79" r="1.55" fill="#138f8c" fill-opacity="0.72"/>
<circle cx="310.17" cy="100.26" r="1.55" fill="#d8213b" fill-opacity="0.72"/>
<circle cx="367.25" cy="95.93" r="1.55" fill="#138f8c" fill-opacity="0.72"/>
<circle cx="368.35" cy="108.87" r="1.55" fill="#138f8c" fill-opacity="0.72"/>
<circle cx="359.25" cy="69.19" r="1.55" fill="#138f8c" fill-opacity="0.72"/>
<circle cx="346.55" cy="86.62" r="1.55" fill="#138f8c" fill-opacity="0.72"/>
<circle cx="370.79" cy="109.45" r="1.55" fill="#138f8c" fill-opacity="0.72"/>
<circle cx="361.29" cy="61.90" r="1.55" fill="#138f8c" fill-opacity="0.72"/>
<circle cx="364.59" cy="59.65" r="1.55" fill="#138f8c" fill-opacity="0.72"/>
<circle cx="367.27" cy="98.07" r="1.55" fill="#138f8c" fill-opacity="0.72"/>
<circle cx="363.31" cy="97.86" r="1.55" fill="#138f8c" fill-opacity="0.72"/>
<circle cx="319.86" cy="111.56" r="1.55" fill="#f27a4f" fill-opacity="0.72"/>
<circle cx="351.38" cy="83.92" r="1.55" fill="#138f8c" fill-opacity="0.72"/>
<circle cx="356.51" cy="77.12" r="1.55" fill="#138f8c" fill-opacity="0.72"/>
<circle cx="376.23" cy="121.36" r="1.55" fill="#138f8c" fill-opacity="0.72"/>
<circle cx="317.47" cy="75.83" r="1.55" fill="#d8213b" fill-opacity="0.72"/>
<circle cx="302.67" cy="92.41" r="1.55" fill="#d8213b" fill-opacity="0.72"/>
<circle cx="303.72" cy="91.40" r="1.55" fill="#d8213b" fill-opacity="0.72"/>
<circle cx="332.44" cy="75.02" r="1.55" fill="#f27a4f" fill-opacity="0.72"/>
<circle cx="374.14" cy="108.87" r="1.55" fill="#138f8c" fill-opacity="0.72"/>
<circle cx="360.95" cy="67.41" r="1.55" fill="#138f8c" fill-opacity="0.72"/>
<circle cx="358.09" cy="71.25" r="1.55" fill="#138f8c" fill-opacity="0.72"/>
<circle cx="379.32" cy="121.65" r="1.55" fill="#138f8c" fill-opacity="0.72"/>
<circle cx="369.08" cy="108.21" r="1.55" fill="#138f8c" fill-opacity="0.72"/>
<circle cx="379.02" cy="93.45" r="1.55" fill="#f27a4f" fill-opacity="0.72"/>
<circle cx="366.07" cy="60.34" r="1.55" fill="#f27a4f" fill-opacity="0.72"/>
<circle cx="371.71" cy="111.29" r="1.55" fill="#138f8c" fill-opacity="0.72"/>
<circle cx="375.97" cy="114.02" r="1.55" fill="#138f8c" fill-opacity="0.72"/>
<circle cx="372.69" cy="117.64" r="1.55" fill="#138f8c" fill-opacity="0.72"/>
<circle cx="375.67" cy="113.60" r="1.55" fill="#138f8c" fill-opacity="0.72"/>
<circle cx="322.83" cy="112.06" r="1.55" fill="#f27a4f" fill-opacity="0.72"/>
<circle cx="368.05" cy="46.64" r="1.55" fill="#f27a4f" fill-opacity="0.72"/>
<circle cx="352.38" cy="82.84" r="1.55" fill="#138f8c" fill-opacity="0.72"/>
<circle cx="370.86" cy="94.53" r="1.55" fill="#138f8c" fill-opacity="0.72"/>
<circle cx="367.44" cy="72.85" r="1.55" fill="#f27a4f" fill-opacity="0.72"/>
<circle cx="356.62" cy="91.31" r="1.55" fill="#138f8c" fill-opacity="0.72"/>
<circle cx="363.86" cy="93.15" r="1.55" fill="#138f8c" fill-opacity="0.72"/>
<circle cx="366.26" cy="94.11" r="1.55" fill="#138f8c" fill-opacity="0.72"/>
<circle cx="379.44" cy="99.41" r="1.55" fill="#f27a4f" fill-opacity="0.72"/>
<circle cx="318.73" cy="79.76" r="1.55" fill="#d8213b" fill-opacity="0.72"/>
<circle cx="350.09" cy="79.29" r="1.55" fill="#138f8c" fill-opacity="0.72"/>
<circle cx="369.14" cy="74.98" r="1.55" fill="#f27a4f" fill-opacity="0.72"/>
<circle cx="379.82" cy="118.30" r="1.55" fill="#138f8c" fill-opacity="0.72"/>
<circle cx="353.38" cy="100.56" r="1.55" fill="#138f8c" fill-opacity="0.72"/>
<circle cx="346.68" cy="112.82" r="1.55" fill="#6db36b" fill-opacity="0.72"/>
<circle cx="311.51" cy="84.55" r="1.55" fill="#d8213b" fill-opacity="0.72"/>
<circle cx="361.06" cy="79.21" r="1.55" fill="#f27a4f" fill-opacity="0.72"/>
<circle cx="372.82" cy="108.45" r="1.55" fill="#138f8c" fill-opacity="0.72"/>
<circle cx="311.06" cy="86.78" r="1.55" fill="#d8213b" fill-opacity="0.72"/>
<circle cx="359.70" cy="66.61" r="1.55" fill="#138f8c" fill-opacity="0.72"/>
<circle cx="371.85" cy="105.86" r="1.55" fill="#138f8c" fill-opacity="0.72"/>
<circle cx="370.68" cy="111.17" r="1.55" fill="#138f8c" fill-opacity="0.72"/>
<circle cx="364.52" cy="66.09" r="1.55" fill="#f27a4f" fill-opacity="0.72"/>
<circle cx="368.31" cy="103.45" r="1.55" fill="#138f8c" fill-opacity="0.72"/>
<circle cx="365.37" cy="103.19" r="1.55" fill="#138f8c" fill-opacity="0.72"/>
<circle cx="369.02" cy="93.18" r="1.55" fill="#138f8c" fill-opacity="0.72"/>
<circle cx="346.74" cy="94.25" r="1.55" fill="#f27a4f" fill-opacity="0.72"/>
<circle cx="369.30" cy="107.67" r="1.55" fill="#138f8c" fill-opacity="0.72"/>
<circle cx="368.20" cy="104.48" r="1.55" fill="#138f8c" fill-opacity="0.72"/>
<circle cx="361.49" cy="61.85" r="1.55" fill="#138f8c" fill-opacity="0.72"/>
<circle cx="375.03" cy="117.54" r="1.55" fill="#138f8c" fill-opacity="0.72"/>
<circle cx="377.03" cy="92.44" r="1.55" fill="#f27a4f" fill-opacity="0.72"/>
<circle cx="366.69" cy="53.86" r="1.55" fill="#f27a4f" fill-opacity="0.72"/>
<circle cx="373.04" cy="113.90" r="1.55" fill="#138f8c" fill-opacity="0.72"/>
<circle cx="333.82" cy="76.68" r="1.55" fill="#6db36b" fill-opacity="0.72"/>
<circle cx="315.81" cy="79.77" r="1.55" fill="#6db36b" fill-opacity="0.72"/>
<circle cx="368.27" cy="99.47" r="1.55" fill="#138f8c" fill-opacity="0.72"/>
<circle cx="329.85" cy="105.37" r="1.55" fill="#138f8c" fill-opacity="0.72"/>
<circle cx="325.70" cy="76.93" r="1.55" fill="#6db36b" fill-opacity="0.72"/>
<circle cx="379.96" cy="120.16" r="1.55" fill="#138f8c" fill-opacity="0.72"/>
<circle cx="362.85" cy="108.03" r="1.55" fill="#138f8c" fill-opacity="0.72"/>
<circle cx="365.03" cy="111.94" r="1.55" fill="#138f8c" fill-opacity="0.72"/>
<circle cx="367.25" cy="52.74" r="1.55" fill="#f27a4f" fill-opacity="0.72"/>
<circle cx="366.92" cy="92.88" r="1.55" fill="#138f8c" fill-opacity="0.72"/>
<circle cx="352.51" cy="87.07" r="1.55" fill="#138f8c" fill-opacity="0.72"/>
<circle cx="307.98" cy="88.39" r="1.55" fill="#d8213b" fill-opacity="0.72"/>
<circle cx="351.35" cy="107.86" r="1.55" fill="#6db36b" fill-opacity="0.72"/>
<circle cx="369.95" cy="100.27" r="1.55" fill="#138f8c" fill-opacity="0.72"/>
<circle cx="346.28" cy="106.11" r="1.55" fill="#6db36b" fill-opacity="0.72"/>
<circle cx="376.45" cy="113.40" r="1.55" fill="#f27a4f" fill-opacity="0.72"/>
<circle cx="302.30" cy="92.53" r="1.55" fill="#d8213b" fill-opacity="0.72"/>
<circle cx="371.97" cy="111.48" r="1.55" fill="#138f8c" fill-opacity="0.72"/>
<circle cx="337.48" cy="80.69" r="1.55" fill="#f27a4f" fill-opacity="0.72"/>
<circle cx="306.44" cy="90.63" r="1.55" fill="#d8213b" fill-opacity="0.72"/>
<circle cx="306.11" cy="90.66" r="1.55" fill="#d8213b" fill-opacity="0.72"/>
<circle cx="358.87" cy="72.60" r="1.55" fill="#138f8c" fill-opacity="0.72"/>
<circle cx="335.59" cy="104.94" r="1.55" fill="#138f8c" fill-opacity="0.72"/>
<circle cx="362.78" cy="69.68" r="1.55" fill="#f27a4f" fill-opacity="0.72"/>
<circle cx="363.02" cy="107.82" r="1.55" fill="#138f8c" fill-opacity="0.72"/>
<circle cx="358.63" cy="76.57" r="1.55" fill="#f27a4f" fill-opacity="0.72"/>
<circle cx="319.60" cy="77.69" r="1.55" fill="#d8213b" fill-opacity="0.72"/>
<circle cx="371.82" cy="106.28" r="1.55" fill="#138f8c" fill-opacity="0.72"/>
<circle cx="357.83" cy="77.36" r="1.55" fill="#138f8c" fill-opacity="0.72"/>
<circle cx="376.39" cy="116.76" r="1.55" fill="#138f8c" fill-opacity="0.72"/>
<circle cx="344.53" cy="77.77" r="1.55" fill="#6db36b" fill-opacity="0.72"/>
<circle cx="309.57" cy="87.72" r="1.55" fill="#d8213b" fill-opacity="0.72"/>
<circle cx="356.35" cy="87.79" r="1.55" fill="#138f8c" fill-opacity="0.72"/>
<circle cx="363.42" cy="100.03" r="1.55" fill="#138f8c" fill-opacity="0.72"/>
<circle cx="375.95" cy="92.59" r="1.55" fill="#f27a4f" fill-opacity="0.72"/>
<circle cx="377.38" cy="114.49" r="1.55" fill="#138f8c" fill-opacity="0.72"/>
<circle cx="350.75" cy="88.26" r="1.55" fill="#138f8c" fill-opacity="0.72"/>
<circle cx="372.72" cy="103.02" r="1.55" fill="#138f8c" fill-opacity="0.72"/>
<circle cx="344.27" cy="83.83" r="1.55" fill="#6db36b" fill-opacity="0.72"/>
<circle cx="374.97" cy="108.10" r="1.55" fill="#138f8c" fill-opacity="0.72"/>
<circle cx="332.18" cy="74.92" r="1.55" fill="#6db36b" fill-opacity="0.72"/>
<circle cx="367.95" cy="97.13" r="1.55" fill="#138f8c" fill-opacity="0.72"/>
<circle cx="368.30" cy="53.30" r="1.55" fill="#f27a4f" fill-opacity="0.72"/>
<circle cx="309.83" cy="80.94" r="1.55" fill="#d8213b" fill-opacity="0.72"/>
<circle cx="312.87" cy="88.39" r="1.55" fill="#d8213b" fill-opacity="0.72"/>
<circle cx="323.97" cy="112.25" r="1.55" fill="#f27a4f" fill-opacity="0.72"/>
<circle cx="321.77" cy="76.70" r="1.55" fill="#6db36b" fill-opacity="0.72"/>
<circle cx="371.66" cy="113.80" r="1.55" fill="#138f8c" fill-opacity="0.72"/>
<circle cx="365.48" cy="57.14" r="1.55" fill="#f27a4f" fill-opacity="0.72"/>
<circle cx="311.33" cy="89.40" r="1.55" fill="#d8213b" fill-opacity="0.72"/>
<circle cx="318.83" cy="70.30" r="1.55" fill="#6db36b" fill-opacity="0.72"/>
<circle cx="355.37" cy="108.51" r="1.55" fill="#138f8c" fill-opacity="0.72"/>
<circle cx="368.51" cy="101.77" r="1.55" fill="#138f8c" fill-opacity="0.72"/>
<circle cx="354.03" cy="112.38" r="1.55" fill="#138f8c" fill-opacity="0.72"/>
<circle cx="368.00" cy="107.24" r="1.55" fill="#138f8c" fill-opacity="0.72"/>
<circle cx="369.37" cy="107.46" r="1.55" fill="#138f8c" fill-opacity="0.72"/>
<circle cx="376.47" cy="116.32" r="1.55" fill="#138f8c" fill-opacity="0.72"/>
<circle cx="318.64" cy="77.20" r="1.55" fill="#d8213b" fill-opacity="0.72"/>
<circle cx="365.52" cy="94.92" r="1.55" fill="#138f8c" fill-opacity="0.72"/>
<circle cx="330.34" cy="99.26" r="1.55" fill="#6db36b" fill-opacity="0.72"/>
<circle cx="310.31" cy="87.14" r="1.55" fill="#d8213b" fill-opacity="0.72"/>
<circle cx="321.74" cy="82.69" r="1.55" fill="#138f8c" fill-opacity="0.72"/>
<circle cx="308.15" cy="83.71" r="1.55" fill="#d8213b" fill-opacity="0.72"/>
<circle cx="362.21" cy="65.50" r="1.55" fill="#138f8c" fill-opacity="0.72"/>
<circle cx="349.63" cy="100.57" r="1.55" fill="#138f8c" fill-opacity="0.72"/>
<circle cx="304.49" cy="88.69" r="1.55" fill="#d8213b" fill-opacity="0.72"/>
<circle cx="370.48" cy="105.75" r="1.55" fill="#138f8c" fill-opacity="0.72"/>
<circle cx="358.88" cy="76.68" r="1.55" fill="#f27a4f" fill-opacity="0.72"/>
<circle cx="371.11" cy="113.23" r="1.55" fill="#138f8c" fill-opacity="0.72"/>
<circle cx="371.52" cy="123.11" r="1.55" fill="#138f8c" fill-opacity="0.72"/>
<circle cx="334.23" cy="73.45" r="1.55" fill="#6db36b" fill-opacity="0.72"/>
<circle cx="326.60" cy="84.71" r="1.55" fill="#6db36b" fill-opacity="0.72"/>
<circle cx="363.58" cy="61.98" r="1.55" fill="#f27a4f" fill-opacity="0.72"/>
<circle cx="355.61" cy="108.83" r="1.55" fill="#138f8c" fill-opacity="0.72"/>
<circle cx="369.18" cy="104.17" r="1.55" fill="#138f8c" fill-opacity="0.72"/>
<circle cx="328.44" cy="104.38" r="1.55" fill="#6db36b" fill-opacity="0.72"/>
<circle cx="356.35" cy="77.60" r="1.55" fill="#138f8c" fill-opacity="0.72"/>
<circle cx="369.62" cy="96.09" r="1.55" fill="#138f8c" fill-opacity="0.72"/>
<circle cx="369.73" cy="100.81" r="1.55" fill="#138f8c" fill-opacity="0.72"/>
<circle cx="366.84" cy="78.41" r="1.55" fill="#f27a4f" fill-opacity="0.72"/>
<circle cx="335.79" cy="96.51" r="1.55" fill="#6db36b" fill-opacity="0.72"/>
<circle cx="314.29" cy="105.45" r="1.55" fill="#d8213b" fill-opacity="0.72"/>
<circle cx="363.01" cy="65.67" r="1.55" fill="#f27a4f" fill-opacity="0.72"/>
<circle cx="312.96" cy="98.24" r="1.55" fill="#d8213b" fill-opacity="0.72"/>
<circle cx="381.33" cy="109.23" r="1.55" fill="#f27a4f" fill-opacity="0.72"/>
<circle cx="364.46" cy="93.13" r="1.55" fill="#138f8c" fill-opacity="0.72"/>
<circle cx="311.84" cy="84.42" r="1.55" fill="#d8213b" fill-opacity="0.72"/>
<circle cx="357.55" cy="77.94" r="1.55" fill="#f27a4f" fill-opacity="0.72"/>
<circle cx="310.62" cy="88.42" r="1.55" fill="#d8213b" fill-opacity="0.72"/>
<circle cx="367.87" cy="73.29" r="1.55" fill="#f27a4f" fill-opacity="0.72"/>
<circle cx="369.58" cy="53.75" r="1.55" fill="#f27a4f" fill-opacity="0.72"/>
<circle cx="311.84" cy="86.00" r="1.55" fill="#d8213b" fill-opacity="0.72"/>
<circle cx="323.87" cy="74.43" r="1.55" fill="#f27a4f" fill-opacity="0.72"/>
<circle cx="342.62" cy="75.91" r="1.55" fill="#6db36b" fill-opacity="0.72"/>
<circle cx="358.81" cy="73.50" r="1.55" fill="#138f8c" fill-opacity="0.72"/>
<circle cx="330.78" cy="79.84" r="1.55" fill="#6db36b" fill-opacity="0.72"/>
<circle cx="359.24" cy="73.38" r="1.55" fill="#138f8c" fill-opacity="0.72"/>
<circle cx="366.15" cy="56.96" r="1.55" fill="#f27a4f" fill-opacity="0.72"/>
<circle cx="380.82" cy="93.36" r="1.55" fill="#f27a4f" fill-opacity="0.72"/>
<circle cx="362.71" cy="60.24" r="1.55" fill="#f27a4f" fill-opacity="0.72"/>
<circle cx="335.23" cy="80.38" r="1.55" fill="#6db36b" fill-opacity="0.72"/>
<circle cx="306.29" cy="86.50" r="1.55" fill="#d8213b" fill-opacity="0.72"/>
<circle cx="372.53" cy="113.25" r="1.55" fill="#138f8c" fill-opacity="0.72"/>
<circle cx="321.13" cy="113.10" r="1.55" fill="#138f8c" fill-opacity="0.72"/>
<circle cx="318.02" cy="78.33" r="1.55" fill="#6db36b" fill-opacity="0.72"/>
<circle cx="367.87" cy="53.83" r="1.55" fill="#f27a4f" fill-opacity="0.72"/>
<circle cx="369.12" cy="108.92" r="1.55" fill="#138f8c" fill-opacity="0.72"/>
<circle cx="313.13" cy="83.95" r="1.55" fill="#d8213b" fill-opacity="0.72"/>
<circle cx="368.06" cy="107.58" r="1.55" fill="#138f8c" fill-opacity="0.72"/>
<circle cx="365.71" cy="111.25" r="1.55" fill="#138f8c" fill-opacity="0.72"/>
<circle cx="325.09" cy="75.42" r="1.55" fill="#6db36b" fill-opacity="0.72"/>
<circle cx="308.65" cy="86.32" r="1.55" fill="#d8213b" fill-opacity="0.72"/>
<circle cx="305.14" cy="92.96" r="1.55" fill="#6db36b" fill-opacity="0.72"/>
<circle cx="359.43" cy="68.63" r="1.55" fill="#138f8c" fill-opacity="0.72"/>
<circle cx="368.51" cy="65.49" r="1.55" fill="#f27a4f" fill-opacity="0.72"/>
<circle cx="361.22" cy="69.01" r="1.55" fill="#138f8c" fill-opacity="0.72"/>
<circle cx="370.63" cy="113.42" r="1.55" fill="#138f8c" fill-opacity="0.72"/>
<circle cx="375.42" cy="100.64" r="1.55" fill="#f27a4f" fill-opacity="0.72"/>
<circle cx="377.73" cy="119.31" r="1.55" fill="#138f8c" fill-opacity="0.72"/>
<circle cx="355.38" cy="98.70" r="1.55" fill="#6db36b" fill-opacity="0.72"/>
<circle cx="364.61" cy="74.73" r="1.55" fill="#f27a4f" fill-opacity="0.72"/>
<circle cx="377.49" cy="117.57" r="1.55" fill="#138f8c" fill-opacity="0.72"/>
<circle cx="360.92" cy="69.58" r="1.55" fill="#f27a4f" fill-opacity="0.72"/>
<circle cx="372.40" cy="113.06" r="1.55" fill="#138f8c" fill-opacity="0.72"/>
<circle cx="315.87" cy="84.60" r="1.55" fill="#d8213b" fill-opacity="0.72"/>
<circle cx="372.04" cy="118.53" r="1.55" fill="#138f8c" fill-opacity="0.72"/>
<circle cx="319.82" cy="78.48" r="1.55" fill="#d8213b" fill-opacity="0.72"/>
<circle cx="308.11" cy="92.16" r="1.55" fill="#d8213b" fill-opacity="0.72"/>
<circle cx="374.30" cy="108.63" r="1.55" fill="#138f8c" fill-opacity="0.72"/>
<circle cx="310.50" cy="88.44" r="1.55" fill="#d8213b" fill-opacity="0.72"/>
<circle cx="360.32" cy="71.73" r="1.55" fill="#138f8c" fill-opacity="0.72"/>
<circle cx="371.88" cy="109.56" r="1.55" fill="#138f8c" fill-opacity="0.72"/>
<circle cx="310.99" cy="85.81" r="1.55" fill="#d8213b" fill-opacity="0.72"/>
<circle cx="360.30" cy="70.67" r="1.55" fill="#138f8c" fill-opacity="0.72"/>
<circle cx="303.09" cy="92.69" r="1.55" fill="#d8213b" fill-opacity="0.72"/>
<circle cx="373.88" cy="102.43" r="1.55" fill="#f27a4f" fill-opacity="0.72"/>
<circle cx="368.42" cy="103.91" r="1.55" fill="#138f8c" fill-opacity="0.72"/>
<circle cx="368.74" cy="100.12" r="1.55" fill="#138f8c" fill-opacity="0.72"/>
<circle cx="368.98" cy="93.15" r="1.55" fill="#138f8c" fill-opacity="0.72"/>
<circle cx="365.94" cy="103.78" r="1.55" fill="#138f8c" fill-opacity="0.72"/>
<circle cx="361.03" cy="98.47" r="1.55" fill="#138f8c" fill-opacity="0.72"/>
<circle cx="361.37" cy="67.94" r="1.55" fill="#138f8c" fill-opacity="0.72"/>
<circle cx="366.19" cy="96.12" r="1.55" fill="#138f8c" fill-opacity="0.72"/>
<circle cx="373.21" cy="117.12" r="1.55" fill="#138f8c" fill-opacity="0.72"/>
<circle cx="307.94" cy="88.56" r="1.55" fill="#6db36b" fill-opacity="0.72"/>
<circle cx="365.45" cy="97.32" r="1.55" fill="#138f8c" fill-opacity="0.72"/>
<circle cx="370.81" cy="109.77" r="1.55" fill="#138f8c" fill-opacity="0.72"/>
<circle cx="373.47" cy="120.39" r="1.55" fill="#138f8c" fill-opacity="0.72"/>
<circle cx="364.54" cy="59.94" r="1.55" fill="#138f8c" fill-opacity="0.72"/>
<circle cx="365.30" cy="94.42" r="1.55" fill="#138f8c" fill-opacity="0.72"/>
<circle cx="377.62" cy="121.01" r="1.55" fill="#138f8c" fill-opacity="0.72"/>
<circle cx="357.01" cy="81.93" r="1.55" fill="#138f8c" fill-opacity="0.72"/>
<circle cx="314.79" cy="82.78" r="1.55" fill="#d8213b" fill-opacity="0.72"/>
<circle cx="369.84" cy="107.46" r="1.55" fill="#138f8c" fill-opacity="0.72"/>
<circle cx="353.59" cy="106.51" r="1.55" fill="#138f8c" fill-opacity="0.72"/>
<circle cx="356.68" cy="77.50" r="1.55" fill="#138f8c" fill-opacity="0.72"/>
<circle cx="363.88" cy="112.07" r="1.55" fill="#138f8c" fill-opacity="0.72"/>
<circle cx="368.56" cy="98.97" r="1.55" fill="#138f8c" fill-opacity="0.72"/>
<circle cx="311.93" cy="84.63" r="1.55" fill="#d8213b" fill-opacity="0.72"/>
<circle cx="366.77" cy="53.49" r="1.55" fill="#f27a4f" fill-opacity="0.72"/>
<circle cx="349.87" cy="86.39" r="1.55" fill="#138f8c" fill-opacity="0.72"/>
<circle cx="315.50" cy="78.17" r="1.55" fill="#6db36b" fill-opacity="0.72"/>
<circle cx="356.10" cy="78.63" r="1.55" fill="#138f8c" fill-opacity="0.72"/>
<circle cx="365.78" cy="101.37" r="1.55" fill="#138f8c" fill-opacity="0.72"/>
<circle cx="368.22" cy="51.55" r="1.55" fill="#f27a4f" fill-opacity="0.72"/>
<circle cx="314.14" cy="81.05" r="1.55" fill="#d8213b" fill-opacity="0.72"/>
<circle cx="373.20" cy="120.01" r="1.55" fill="#138f8c" fill-opacity="0.72"/>
<circle cx="361.64" cy="65.90" r="1.55" fill="#f27a4f" fill-opacity="0.72"/>
<circle cx="364.49" cy="61.27" r="1.55" fill="#138f8c" fill-opacity="0.72"/>
<circle cx="368.68" cy="106.16" r="1.55" fill="#138f8c" fill-opacity="0.72"/>
<circle cx="305.87" cy="90.93" r="1.55" fill="#d8213b" fill-opacity="0.72"/>
<circle cx="363.32" cy="66.10" r="1.55" fill="#f27a4f" fill-opacity="0.72"/>
<circle cx="370.17" cy="102.81" r="1.55" fill="#138f8c" fill-opacity="0.72"/>
<circle cx="349.44" cy="108.16" r="1.55" fill="#6db36b" fill-opacity="0.72"/>
<circle cx="348.34" cy="101.09" r="1.55" fill="#6db36b" fill-opacity="0.72"/>
<circle cx="378.01" cy="118.86" r="1.55" fill="#138f8c" fill-opacity="0.72"/>
<circle cx="335.64" cy="77.63" r="1.55" fill="#6db36b" fill-opacity="0.72"/>
<circle cx="365.29" cy="96.44" r="1.55" fill="#138f8c" fill-opacity="0.72"/>
<circle cx="340.65" cy="96.64" r="1.55" fill="#6db36b" fill-opacity="0.72"/>
<circle cx="373.68" cy="102.79" r="1.55" fill="#138f8c" fill-opacity="0.72"/>
<circle cx="362.15" cy="68.23" r="1.55" fill="#f27a4f" fill-opacity="0.72"/>
<circle cx="330.45" cy="81.58" r="1.55" fill="#6db36b" fill-opacity="0.72"/>
<circle cx="347.70" cy="86.51" r="1.55" fill="#138f8c" fill-opacity="0.72"/>
<circle cx="315.62" cy="81.28" r="1.55" fill="#d8213b" fill-opacity="0.72"/>
<circle cx="355.48" cy="80.47" r="1.55" fill="#f27a4f" fill-opacity="0.72"/>
<circle cx="360.66" cy="72.11" r="1.55" fill="#f27a4f" fill-opacity="0.72"/>
<circle cx="365.58" cy="55.29" r="1.55" fill="#f27a4f" fill-opacity="0.72"/>
<circle cx="373.54" cy="112.27" r="1.55" fill="#138f8c" fill-opacity="0.72"/>
<circle cx="368.18" cy="50.76" r="1.55" fill="#f27a4f" fill-opacity="0.72"/>
<circle cx="314.40" cy="80.74" r="1.55" fill="#d8213b" fill-opacity="0.72"/>
<circle cx="340.62" cy="74.79" r="1.55" fill="#6db36b" fill-opacity="0.72"/>
<circle cx="310.75" cy="105.56" r="1.55" fill="#d8213b" fill-opacity="0.72"/>
<circle cx="341.04" cy="83.00" r="1.55" fill="#6db36b" fill-opacity="0.72"/>
<circle cx="321.41" cy="78.47" r="1.55" fill="#6db36b" fill-opacity="0.72"/>
<circle cx="360.86" cy="110.17" r="1.55" fill="#138f8c" fill-opacity="0.72"/>
<circle cx="372.32" cy="103.29" r="1.55" fill="#138f8c" fill-opacity="0.72"/>
<circle cx="371.86" cy="116.94" r="1.55" fill="#138f8c" fill-opacity="0.72"/>
<circle cx="369.21" cy="98.47" r="1.55" fill="#138f8c" fill-opacity="0.72"/>
<circle cx="354.98" cy="75.26" r="1.55" fill="#138f8c" fill-opacity="0.72"/>
<circle cx="371.08" cy="109.58" r="1.55" fill="#138f8c" fill-opacity="0.72"/>
<circle cx="338.35" cy="77.24" r="1.55" fill="#6db36b" fill-opacity="0.72"/>
<circle cx="366.75" cy="94.80" r="1.55" fill="#138f8c" fill-opacity="0.72"/>
<circle cx="357.30" cy="74.91" r="1.55" fill="#138f8c" fill-opacity="0.72"/>
<circle cx="367.90" cy="95.81" r="1.55" fill="#138f8c" fill-opacity="0.72"/>
<circle cx="368.03" cy="104.33" r="1.55" fill="#138f8c" fill-opacity="0.72"/>
<circle cx="374.93" cy="117.86" r="1.55" fill="#138f8c" fill-opacity="0.72"/>
<circle cx="378.05" cy="117.71" r="1.55" fill="#138f8c" fill-opacity="0.72"/>
<circle cx="313.72" cy="80.64" r="1.55" fill="#d8213b" fill-opacity="0.72"/>
<circle cx="366.14" cy="100.42" r="1.55" fill="#138f8c" fill-opacity="0.72"/>
<circle cx="370.56" cy="102.03" r="1.55" fill="#138f8c" fill-opacity="0.72"/>
<circle cx="305.50" cy="93.81" r="1.55" fill="#d8213b" fill-opacity="0.72"/>
<circle cx="359.10" cy="79.60" r="1.55" fill="#f27a4f" fill-opacity="0.72"/>
<circle cx="369.08" cy="48.92" r="1.55" fill="#f27a4f" fill-opacity="0.72"/>
<circle cx="356.31" cy="76.59" r="1.55" fill="#138f8c" fill-opacity="0.72"/>
<circle cx="313.28" cy="88.39" r="1.55" fill="#d8213b" fill-opacity="0.72"/>
<circle cx="357.35" cy="71.05" r="1.55" fill="#138f8c" fill-opacity="0.72"/>
<circle cx="348.20" cy="112.05" r="1.55" fill="#6db36b" fill-opacity="0.72"/>
<circle cx="358.06" cy="73.60" r="1.55" fill="#138f8c" fill-opacity="0.72"/>
<circle cx="374.80" cy="95.71" r="1.55" fill="#f27a4f" fill-opacity="0.72"/>
<circle cx="363.80" cy="63.18" r="1.55" fill="#138f8c" fill-opacity="0.72"/>
<circle cx="377.11" cy="120.97" r="1.55" fill="#138f8c" fill-opacity="0.72"/>
<circle cx="372.51" cy="116.15" r="1.55" fill="#138f8c" fill-opacity="0.72"/>
<circle cx="369.57" cy="62.55" r="1.55" fill="#f27a4f" fill-opacity="0.72"/>
<circle cx="369.02" cy="98.67" r="1.55" fill="#138f8c" fill-opacity="0.72"/>
<circle cx="339.10" cy="80.73" r="1.55" fill="#6db36b" fill-opacity="0.72"/>
<circle cx="370.40" cy="51.40" r="1.55" fill="#f27a4f" fill-opacity="0.72"/>
<circle cx="318.73" cy="77.69" r="1.55" fill="#6db36b" fill-opacity="0.72"/>
<circle cx="308.42" cy="90.13" r="1.55" fill="#d8213b" fill-opacity="0.72"/>
<circle cx="326.03" cy="94.63" r="1.55" fill="#6db36b" fill-opacity="0.72"/>
<circle cx="315.55" cy="76.52" r="1.55" fill="#d8213b" fill-opacity="0.72"/>
<circle cx="316.55" cy="79.40" r="1.55" fill="#d8213b" fill-opacity="0.72"/>
<circle cx="368.61" cy="97.49" r="1.55" fill="#138f8c" fill-opacity="0.72"/>
<circle cx="373.94" cy="104.85" r="1.55" fill="#f27a4f" fill-opacity="0.72"/>
<circle cx="310.47" cy="86.34" r="1.55" fill="#d8213b" fill-opacity="0.72"/>
<circle cx="356.79" cy="74.46" r="1.55" fill="#138f8c" fill-opacity="0.72"/>
<circle cx="358.33" cy="78.53" r="1.55" fill="#f27a4f" fill-opacity="0.72"/>
<circle cx="367.35" cy="99.88" r="1.55" fill="#138f8c" fill-opacity="0.72"/>
<circle cx="376.81" cy="115.85" r="1.55" fill="#138f8c" fill-opacity="0.72"/>
<circle cx="369.92" cy="100.09" r="1.55" fill="#138f8c" fill-opacity="0.72"/>
<circle cx="373.29" cy="114.35" r="1.55" fill="#138f8c" fill-opacity="0.72"/>
<circle cx="308.57" cy="101.24" r="1.55" fill="#d8213b" fill-opacity="0.72"/>
<circle cx="315.70" cy="81.94" r="1.55" fill="#d8213b" fill-opacity="0.72"/>
<circle cx="349.77" cy="112.69" r="1.55" fill="#138f8c" fill-opacity="0.72"/>
<circle cx="352.39" cy="109.87" r="1.55" fill="#138f8c" fill-opacity="0.72"/>
<circle cx="352.50" cy="102.91" r="1.55" fill="#6db36b" fill-opacity="0.72"/>
<circle cx="313.17" cy="83.10" r="1.55" fill="#d8213b" fill-opacity="0.72"/>
<circle cx="344.31" cy="77.28" r="1.55" fill="#f27a4f" fill-opacity="0.72"/>
<circle cx="361.90" cy="67.08" r="1.55" fill="#138f8c" fill-opacity="0.72"/>
<circle cx="380.49" cy="95.34" r="1.55" fill="#f27a4f" fill-opacity="0.72"/>
<circle cx="363.42" cy="66.52" r="1.55" fill="#f27a4f" fill-opacity="0.72"/>
<circle cx="303.61" cy="90.04" r="1.55" fill="#d8213b" fill-opacity="0.72"/>
<circle cx="313.25" cy="103.58" r="1.55" fill="#d8213b" fill-opacity="0.72"/>
<circle cx="364.37" cy="58.64" r="1.55" fill="#138f8c" fill-opacity="0.72"/>
<circle cx="373.06" cy="111.38" r="1.55" fill="#138f8c" fill-opacity="0.72"/>
<circle cx="364.42" cy="75.02" r="1.55" fill="#f27a4f" fill-opacity="0.72"/>
<circle cx="304.99" cy="89.31" r="1.55" fill="#d8213b" fill-opacity="0.72"/>
<circle cx="333.14" cy="79.85" r="1.55" fill="#6db36b" fill-opacity="0.72"/>
<circle cx="303.50" cy="93.99" r="1.55" fill="#d8213b" fill-opacity="0.72"/>
<circle cx="373.80" cy="114.22" r="1.55" fill="#138f8c" fill-opacity="0.72"/>
<circle cx="379.67" cy="120.47" r="1.55" fill="#138f8c" fill-opacity="0.72"/>
<circle cx="353.30" cy="93.66" r="1.55" fill="#138f8c" fill-opacity="0.72"/>
<circle cx="343.21" cy="82.45" r="1.55" fill="#6db36b" fill-opacity="0.72"/>
<path d="M298.80,43.00 V127.00 H384.60" fill="none" stroke="#303030" stroke-width="1.55"/>
<line x1="295.80" y1="47.00" x2="298.80" y2="47.00" stroke="#303030" stroke-width="1.15"/>
<text x="294.00" y="49.30" font-size="6.4" text-anchor="end" fill="#333" font-weight="normal">0.50</text>
<line x1="295.80" y1="67.00" x2="298.80" y2="67.00" stroke="#303030" stroke-width="1.15"/>
<text x="294.00" y="69.30" font-size="6.4" text-anchor="end" fill="#333" font-weight="normal">0.25</text>
<line x1="295.80" y1="87.00" x2="298.80" y2="87.00" stroke="#303030" stroke-width="1.15"/>
<text x="294.00" y="89.30" font-size="6.4" text-anchor="end" fill="#333" font-weight="normal">0.00</text>
<line x1="295.80" y1="107.00" x2="298.80" y2="107.00" stroke="#303030" stroke-width="1.15"/>
<text x="294.00" y="109.30" font-size="6.4" text-anchor="end" fill="#333" font-weight="normal">−0.25</text>
<line x1="313.50" y1="127.00" x2="313.50" y2="130.00" stroke="#303030" stroke-width="1.15"/>
<text x="313.50" y="138.40" font-size="6.4" text-anchor="middle" fill="#333" font-weight="normal">−0.4</text>
<line x1="330.50" y1="127.00" x2="330.50" y2="130.00" stroke="#303030" stroke-width="1.15"/>
<text x="330.50" y="138.40" font-size="6.4" text-anchor="middle" fill="#333" font-weight="normal">−0.2</text>
<line x1="347.50" y1="127.00" x2="347.50" y2="130.00" stroke="#303030" stroke-width="1.15"/>
<text x="347.50" y="138.40" font-size="6.4" text-anchor="middle" fill="#333" font-weight="normal">0.0</text>
<line x1="364.50" y1="127.00" x2="364.50" y2="130.00" stroke="#303030" stroke-width="1.15"/>
<text x="364.50" y="138.40" font-size="6.4" text-anchor="middle" fill="#333" font-weight="normal">0.2</text>
<line x1="381.50" y1="127.00" x2="381.50" y2="130.00" stroke="#303030" stroke-width="1.15"/>
<text x="381.50" y="138.40" font-size="6.4" text-anchor="middle" fill="#333" font-weight="normal">0.4</text>
<circle cx="480.89" cy="97.69" r="1.55" fill="#f2de4a" fill-opacity="0.6"/>
<circle cx="459.42" cy="83.24" r="1.55" fill="#f2de4a" fill-opacity="0.6"/>
<circle cx="430.32" cy="73.53" r="1.55" fill="#f2de4a" fill-opacity="0.6"/>
<circle cx="482.31" cy="94.57" r="1.55" fill="#6a4fa3" fill-opacity="0.72"/>
<circle cx="435.14" cy="79.17" r="1.55" fill="#f2de4a" fill-opacity="0.6"/>
<circle cx="472.17" cy="79.27" r="1.55" fill="#f2de4a" fill-opacity="0.6"/>
<circle cx="445.94" cy="92.33" r="1.55" fill="#f2de4a" fill-opacity="0.6"/>
<circle cx="493.36" cy="122.77" r="1.55" fill="#6a4fa3" fill-opacity="0.72"/>
<circle cx="435.61" cy="103.21" r="1.55" fill="#f2de4a" fill-opacity="0.6"/>
<circle cx="481.50" cy="58.90" r="1.55" fill="#f2de4a" fill-opacity="0.6"/>
<circle cx="426.60" cy="83.52" r="1.55" fill="#f2de4a" fill-opacity="0.6"/>
<circle cx="481.27" cy="100.15" r="1.55" fill="#6a4fa3" fill-opacity="0.72"/>
<circle cx="491.98" cy="121.29" r="1.55" fill="#6a4fa3" fill-opacity="0.72"/>
<circle cx="483.55" cy="49.29" r="1.55" fill="#6a4fa3" fill-opacity="0.72"/>
<circle cx="472.36" cy="112.73" r="1.55" fill="#f2de4a" fill-opacity="0.6"/>
<circle cx="485.64" cy="113.32" r="1.55" fill="#6a4fa3" fill-opacity="0.72"/>
<circle cx="448.50" cy="111.27" r="1.55" fill="#f2de4a" fill-opacity="0.6"/>
<circle cx="474.46" cy="112.17" r="1.55" fill="#6a4fa3" fill-opacity="0.72"/>
<circle cx="476.08" cy="66.78" r="1.55" fill="#f2de4a" fill-opacity="0.6"/>
<circle cx="419.82" cy="91.81" r="1.55" fill="#6a4fa3" fill-opacity="0.72"/>
<circle cx="445.30" cy="76.04" r="1.55" fill="#f2de4a" fill-opacity="0.6"/>
<circle cx="423.27" cy="88.04" r="1.55" fill="#6a4fa3" fill-opacity="0.72"/>
<circle cx="474.30" cy="76.03" r="1.55" fill="#6a4fa3" fill-opacity="0.72"/>
<circle cx="494.32" cy="122.03" r="1.55" fill="#6a4fa3" fill-opacity="0.72"/>
<circle cx="488.30" cy="109.28" r="1.55" fill="#6a4fa3" fill-opacity="0.72"/>
<circle cx="482.94" cy="77.07" r="1.55" fill="#6a4fa3" fill-opacity="0.72"/>
<circle cx="488.47" cy="111.06" r="1.55" fill="#6a4fa3" fill-opacity="0.72"/>
<circle cx="483.42" cy="102.94" r="1.55" fill="#6a4fa3" fill-opacity="0.72"/>
<circle cx="482.78" cy="100.57" r="1.55" fill="#6a4fa3" fill-opacity="0.72"/>
<circle cx="469.77" cy="90.77" r="1.55" fill="#f2de4a" fill-opacity="0.6"/>
<circle cx="470.34" cy="80.76" r="1.55" fill="#f2de4a" fill-opacity="0.6"/>
<circle cx="482.67" cy="57.02" r="1.55" fill="#f2de4a" fill-opacity="0.6"/>
<circle cx="424.19" cy="86.27" r="1.55" fill="#6a4fa3" fill-opacity="0.72"/>
<circle cx="468.89" cy="88.80" r="1.55" fill="#f2de4a" fill-opacity="0.6"/>
<circle cx="477.68" cy="64.09" r="1.55" fill="#6a4fa3" fill-opacity="0.72"/>
<circle cx="484.20" cy="94.69" r="1.55" fill="#6a4fa3" fill-opacity="0.72"/>
<circle cx="490.26" cy="120.73" r="1.55" fill="#6a4fa3" fill-opacity="0.72"/>
<circle cx="485.92" cy="108.64" r="1.55" fill="#6a4fa3" fill-opacity="0.72"/>
<circle cx="482.29" cy="51.54" r="1.55" fill="#6a4fa3" fill-opacity="0.72"/>
<circle cx="440.81" cy="86.76" r="1.55" fill="#f2de4a" fill-opacity="0.6"/>
<circle cx="495.28" cy="87.29" r="1.55" fill="#6a4fa3" fill-opacity="0.72"/>
<circle cx="418.58" cy="93.95" r="1.55" fill="#6a4fa3" fill-opacity="0.72"/>
<circle cx="454.31" cy="86.34" r="1.55" fill="#f2de4a" fill-opacity="0.6"/>
<circle cx="481.22" cy="95.13" r="1.55" fill="#6a4fa3" fill-opacity="0.72"/>
<circle cx="476.80" cy="64.64" r="1.55" fill="#6a4fa3" fill-opacity="0.72"/>
<circle cx="420.04" cy="90.14" r="1.55" fill="#6a4fa3" fill-opacity="0.72"/>
<circle cx="474.35" cy="72.42" r="1.55" fill="#6a4fa3" fill-opacity="0.72"/>
<circle cx="432.40" cy="80.73" r="1.55" fill="#f2de4a" fill-opacity="0.6"/>
<circle cx="481.54" cy="66.06" r="1.55" fill="#6a4fa3" fill-opacity="0.72"/>
<circle cx="474.18" cy="73.24" r="1.55" fill="#6a4fa3" fill-opacity="0.72"/>
<circle cx="495.20" cy="94.81" r="1.55" fill="#6a4fa3" fill-opacity="0.72"/>
<circle cx="488.99" cy="115.81" r="1.55" fill="#6a4fa3" fill-opacity="0.72"/>
<circle cx="429.30" cy="78.20" r="1.55" fill="#f2de4a" fill-opacity="0.6"/>
<circle cx="426.90" cy="83.71" r="1.55" fill="#f2de4a" fill-opacity="0.6"/>
<circle cx="484.35" cy="103.04" r="1.55" fill="#6a4fa3" fill-opacity="0.72"/>
<circle cx="494.45" cy="87.72" r="1.55" fill="#6a4fa3" fill-opacity="0.72"/>
<circle cx="433.60" cy="79.38" r="1.55" fill="#f2de4a" fill-opacity="0.6"/>
<circle cx="481.76" cy="51.16" r="1.55" fill="#f2de4a" fill-opacity="0.6"/>
<circle cx="481.27" cy="98.66" r="1.55" fill="#6a4fa3" fill-opacity="0.72"/>
<circle cx="428.18" cy="82.31" r="1.55" fill="#f2de4a" fill-opacity="0.6"/>
<circle cx="430.72" cy="85.04" r="1.55" fill="#f2de4a" fill-opacity="0.6"/>
<circle cx="419.98" cy="91.25" r="1.55" fill="#6a4fa3" fill-opacity="0.72"/>
<circle cx="424.40" cy="105.67" r="1.55" fill="#6a4fa3" fill-opacity="0.72"/>
<circle cx="481.42" cy="103.92" r="1.55" fill="#6a4fa3" fill-opacity="0.72"/>
<circle cx="489.41" cy="117.99" r="1.55" fill="#6a4fa3" fill-opacity="0.72"/>
<circle cx="468.53" cy="101.39" r="1.55" fill="#6a4fa3" fill-opacity="0.72"/>
<circle cx="486.80" cy="108.17" r="1.55" fill="#6a4fa3" fill-opacity="0.72"/>
<circle cx="437.19" cy="111.12" r="1.55" fill="#f2de4a" fill-opacity="0.6"/>
<circle cx="470.83" cy="107.09" r="1.55" fill="#f2de4a" fill-opacity="0.6"/>
<circle cx="483.73" cy="107.88" r="1.55" fill="#6a4fa3" fill-opacity="0.72"/>
<circle cx="477.39" cy="62.64" r="1.55" fill="#6a4fa3" fill-opacity="0.72"/>
<circle cx="426.17" cy="84.58" r="1.55" fill="#6a4fa3" fill-opacity="0.72"/>
<circle cx="476.85" cy="68.84" r="1.55" fill="#6a4fa3" fill-opacity="0.72"/>
<circle cx="424.95" cy="87.65" r="1.55" fill="#f2de4a" fill-opacity="0.6"/>
<circle cx="469.78" cy="94.88" r="1.55" fill="#f2de4a" fill-opacity="0.6"/>
<circle cx="438.33" cy="88.65" r="1.55" fill="#6a4fa3" fill-opacity="0.72"/>
<circle cx="483.10" cy="102.79" r="1.55" fill="#6a4fa3" fill-opacity="0.72"/>
<circle cx="485.09" cy="108.16" r="1.55" fill="#6a4fa3" fill-opacity="0.72"/>
<circle cx="479.23" cy="59.11" r="1.55" fill="#6a4fa3" fill-opacity="0.72"/>
<circle cx="482.50" cy="48.77" r="1.55" fill="#f2de4a" fill-opacity="0.6"/>
<circle cx="417.60" cy="91.67" r="1.55" fill="#6a4fa3" fill-opacity="0.72"/>
<circle cx="491.16" cy="85.71" r="1.55" fill="#f2de4a" fill-opacity="0.6"/>
<circle cx="425.54" cy="85.73" r="1.55" fill="#f2de4a" fill-opacity="0.6"/>
<circle cx="475.78" cy="67.65" r="1.55" fill="#6a4fa3" fill-opacity="0.72"/>
<circle cx="422.89" cy="87.77" r="1.55" fill="#6a4fa3" fill-opacity="0.72"/>
<circle cx="483.54" cy="108.50" r="1.55" fill="#6a4fa3" fill-opacity="0.72"/>
<circle cx="482.22" cy="57.68" r="1.55" fill="#6a4fa3" fill-opacity="0.72"/>
<circle cx="483.15" cy="100.85" r="1.55" fill="#6a4fa3" fill-opacity="0.72"/>
<circle cx="449.18" cy="91.33" r="1.55" fill="#f2de4a" fill-opacity="0.6"/>
<circle cx="472.27" cy="81.25" r="1.55" fill="#f2de4a" fill-opacity="0.6"/>
<circle cx="426.01" cy="86.72" r="1.55" fill="#6a4fa3" fill-opacity="0.72"/>
<circle cx="439.82" cy="78.20" r="1.55" fill="#f2de4a" fill-opacity="0.6"/>
<circle cx="481.89" cy="55.72" r="1.55" fill="#6a4fa3" fill-opacity="0.72"/>
<circle cx="428.80" cy="81.93" r="1.55" fill="#f2de4a" fill-opacity="0.6"/>
<circle cx="467.32" cy="106.14" r="1.55" fill="#f2de4a" fill-opacity="0.6"/>
<circle cx="439.38" cy="89.70" r="1.55" fill="#f2de4a" fill-opacity="0.6"/>
<circle cx="475.63" cy="66.18" r="1.55" fill="#6a4fa3" fill-opacity="0.72"/>
<circle cx="463.01" cy="106.62" r="1.55" fill="#f2de4a" fill-opacity="0.6"/>
<circle cx="431.08" cy="83.50" r="1.55" fill="#f2de4a" fill-opacity="0.6"/>
<circle cx="478.49" cy="75.31" r="1.55" fill="#f2de4a" fill-opacity="0.6"/>
<circle cx="453.34" cy="96.40" r="1.55" fill="#f2de4a" fill-opacity="0.6"/>
<circle cx="484.20" cy="99.26" r="1.55" fill="#6a4fa3" fill-opacity="0.72"/>
<circle cx="474.21" cy="74.86" r="1.55" fill="#6a4fa3" fill-opacity="0.72"/>
<circle cx="424.90" cy="89.04" r="1.55" fill="#f2de4a" fill-opacity="0.6"/>
<circle cx="486.68" cy="96.62" r="1.55" fill="#6a4fa3" fill-opacity="0.72"/>
<circle cx="468.21" cy="89.03" r="1.55" fill="#f2de4a" fill-opacity="0.6"/>
<circle cx="472.42" cy="77.36" r="1.55" fill="#6a4fa3" fill-opacity="0.72"/>
<circle cx="478.13" cy="62.37" r="1.55" fill="#6a4fa3" fill-opacity="0.72"/>
<circle cx="440.35" cy="112.27" r="1.55" fill="#f2de4a" fill-opacity="0.6"/>
<circle cx="475.90" cy="66.30" r="1.55" fill="#6a4fa3" fill-opacity="0.72"/>
<circle cx="486.31" cy="105.53" r="1.55" fill="#6a4fa3" fill-opacity="0.72"/>
<circle cx="470.63" cy="90.57" r="1.55" fill="#6a4fa3" fill-opacity="0.72"/>
<circle cx="428.90" cy="97.65" r="1.55" fill="#6a4fa3" fill-opacity="0.72"/>
<circle cx="451.22" cy="81.41" r="1.55" fill="#f2de4a" fill-opacity="0.6"/>
<circle cx="443.19" cy="103.42" r="1.55" fill="#f2de4a" fill-opacity="0.6"/>
<circle cx="482.51" cy="89.62" r="1.55" fill="#f2de4a" fill-opacity="0.6"/>
<circle cx="456.29" cy="87.73" r="1.55" fill="#f2de4a" fill-opacity="0.6"/>
<circle cx="474.02" cy="77.22" r="1.55" fill="#f2de4a" fill-opacity="0.6"/>
<circle cx="447.60" cy="87.25" r="1.55" fill="#6a4fa3" fill-opacity="0.72"/>
<circle cx="481.13" cy="68.51" r="1.55" fill="#f2de4a" fill-opacity="0.6"/>
<circle cx="434.17" cy="75.22" r="1.55" fill="#f2de4a" fill-opacity="0.6"/>
<circle cx="488.05" cy="103.10" r="1.55" fill="#6a4fa3" fill-opacity="0.72"/>
<circle cx="493.62" cy="120.03" r="1.55" fill="#f2de4a" fill-opacity="0.6"/>
<circle cx="471.05" cy="80.37" r="1.55" fill="#6a4fa3" fill-opacity="0.72"/>
<circle cx="476.69" cy="68.65" r="1.55" fill="#6a4fa3" fill-opacity="0.72"/>
<circle cx="418.55" cy="92.39" r="1.55" fill="#6a4fa3" fill-opacity="0.72"/>
<circle cx="435.06" cy="111.35" r="1.55" fill="#f2de4a" fill-opacity="0.6"/>
<circle cx="462.58" cy="100.10" r="1.55" fill="#f2de4a" fill-opacity="0.6"/>
<circle cx="431.27" cy="80.45" r="1.55" fill="#f2de4a" fill-opacity="0.6"/>
<circle cx="483.64" cy="105.91" r="1.55" fill="#6a4fa3" fill-opacity="0.72"/>
<circle cx="470.17" cy="97.56" r="1.55" fill="#f2de4a" fill-opacity="0.6"/>
<circle cx="435.99" cy="96.97" r="1.55" fill="#6a4fa3" fill-opacity="0.72"/>
<circle cx="475.58" cy="67.39" r="1.55" fill="#f2de4a" fill-opacity="0.6"/>
<circle cx="425.21" cy="84.76" r="1.55" fill="#f2de4a" fill-opacity="0.6"/>
<circle cx="456.36" cy="78.03" r="1.55" fill="#f2de4a" fill-opacity="0.6"/>
<circle cx="470.57" cy="80.22" r="1.55" fill="#f2de4a" fill-opacity="0.6"/>
<circle cx="490.85" cy="120.59" r="1.55" fill="#6a4fa3" fill-opacity="0.72"/>
<circle cx="489.37" cy="85.56" r="1.55" fill="#6a4fa3" fill-opacity="0.72"/>
<circle cx="482.68" cy="49.07" r="1.55" fill="#6a4fa3" fill-opacity="0.72"/>
<circle cx="481.25" cy="51.79" r="1.55" fill="#6a4fa3" fill-opacity="0.72"/>
<circle cx="480.63" cy="57.60" r="1.55" fill="#f2de4a" fill-opacity="0.6"/>
<circle cx="485.06" cy="76.10" r="1.55" fill="#6a4fa3" fill-opacity="0.72"/>
<circle cx="486.79" cy="109.45" r="1.55" fill="#6a4fa3" fill-opacity="0.72"/>
<circle cx="441.89" cy="106.65" r="1.55" fill="#f2de4a" fill-opacity="0.6"/>
<circle cx="495.07" cy="82.53" r="1.55" fill="#f2de4a" fill-opacity="0.6"/>
<circle cx="490.51" cy="116.98" r="1.55" fill="#6a4fa3" fill-opacity="0.72"/>
<circle cx="424.92" cy="86.17" r="1.55" fill="#f2de4a" fill-opacity="0.6"/>
<circle cx="436.44" cy="80.43" r="1.55" fill="#6a4fa3" fill-opacity="0.72"/>
<circle cx="484.35" cy="95.26" r="1.55" fill="#6a4fa3" fill-opacity="0.72"/>
<circle cx="435.68" cy="97.95" r="1.55" fill="#f2de4a" fill-opacity="0.6"/>
<circle cx="478.86" cy="64.31" r="1.55" fill="#f2de4a" fill-opacity="0.6"/>
<circle cx="480.50" cy="97.28" r="1.55" fill="#6a4fa3" fill-opacity="0.72"/>
<circle cx="482.94" cy="59.11" r="1.55" fill="#6a4fa3" fill-opacity="0.72"/>
<circle cx="445.68" cy="89.19" r="1.55" fill="#f2de4a" fill-opacity="0.6"/>
<circle cx="428.63" cy="84.32" r="1.55" fill="#f2de4a" fill-opacity="0.6"/>
<circle cx="484.60" cy="99.72" r="1.55" fill="#6a4fa3" fill-opacity="0.72"/>
<circle cx="480.61" cy="56.87" r="1.55" fill="#6a4fa3" fill-opacity="0.72"/>
<circle cx="452.45" cy="77.02" r="1.55" fill="#f2de4a" fill-opacity="0.6"/>
<circle cx="466.38" cy="87.63" r="1.55" fill="#f2de4a" fill-opacity="0.6"/>
<circle cx="484.17" cy="112.13" r="1.55" fill="#6a4fa3" fill-opacity="0.72"/>
<circle cx="455.76" cy="78.67" r="1.55" fill="#f2de4a" fill-opacity="0.6"/>
<circle cx="482.39" cy="95.37" r="1.55" fill="#6a4fa3" fill-opacity="0.72"/>
<circle cx="439.69" cy="77.88" r="1.55" fill="#6a4fa3" fill-opacity="0.72"/>
<circle cx="489.97" cy="105.95" r="1.55" fill="#6a4fa3" fill-opacity="0.72"/>
<circle cx="471.41" cy="84.56" r="1.55" fill="#f2de4a" fill-opacity="0.6"/>
<circle cx="427.31" cy="83.67" r="1.55" fill="#f2de4a" fill-opacity="0.6"/>
<circle cx="485.76" cy="115.44" r="1.55" fill="#6a4fa3" fill-opacity="0.72"/>
<circle cx="447.71" cy="104.54" r="1.55" fill="#f2de4a" fill-opacity="0.6"/>
<circle cx="481.85" cy="60.50" r="1.55" fill="#6a4fa3" fill-opacity="0.72"/>
<circle cx="486.09" cy="116.60" r="1.55" fill="#6a4fa3" fill-opacity="0.72"/>
<circle cx="422.39" cy="93.48" r="1.55" fill="#6a4fa3" fill-opacity="0.72"/>
<circle cx="485.68" cy="48.18" r="1.55" fill="#6a4fa3" fill-opacity="0.72"/>
<circle cx="486.20" cy="48.53" r="1.55" fill="#6a4fa3" fill-opacity="0.72"/>
<circle cx="467.91" cy="109.66" r="1.55" fill="#f2de4a" fill-opacity="0.6"/>
<circle cx="421.60" cy="94.55" r="1.55" fill="#6a4fa3" fill-opacity="0.72"/>
<circle cx="424.94" cy="88.02" r="1.55" fill="#f2de4a" fill-opacity="0.6"/>
<circle cx="483.19" cy="105.81" r="1.55" fill="#6a4fa3" fill-opacity="0.72"/>
<circle cx="421.01" cy="90.59" r="1.55" fill="#6a4fa3" fill-opacity="0.72"/>
<circle cx="479.49" cy="65.43" r="1.55" fill="#6a4fa3" fill-opacity="0.72"/>
<circle cx="484.36" cy="94.79" r="1.55" fill="#6a4fa3" fill-opacity="0.72"/>
<circle cx="472.06" cy="74.71" r="1.55" fill="#f2de4a" fill-opacity="0.6"/>
<circle cx="485.55" cy="110.22" r="1.55" fill="#6a4fa3" fill-opacity="0.72"/>
<circle cx="493.73" cy="86.80" r="1.55" fill="#6a4fa3" fill-opacity="0.72"/>
<circle cx="435.07" cy="76.70" r="1.55" fill="#f2de4a" fill-opacity="0.6"/>
<circle cx="483.47" cy="110.36" r="1.55" fill="#f2de4a" fill-opacity="0.6"/>
<circle cx="482.37" cy="96.35" r="1.55" fill="#6a4fa3" fill-opacity="0.72"/>
<circle cx="471.44" cy="76.49" r="1.55" fill="#6a4fa3" fill-opacity="0.72"/>
<circle cx="450.88" cy="75.21" r="1.55" fill="#6a4fa3" fill-opacity="0.72"/>
<circle cx="452.63" cy="74.36" r="1.55" fill="#f2de4a" fill-opacity="0.6"/>
<circle cx="494.76" cy="82.51" r="1.55" fill="#f2de4a" fill-opacity="0.6"/>
<circle cx="428.09" cy="100.87" r="1.55" fill="#6a4fa3" fill-opacity="0.72"/>
<circle cx="463.65" cy="85.48" r="1.55" fill="#6a4fa3" fill-opacity="0.72"/>
<circle cx="467.47" cy="81.16" r="1.55" fill="#6a4fa3" fill-opacity="0.72"/>
<circle cx="481.04" cy="98.95" r="1.55" fill="#6a4fa3" fill-opacity="0.72"/>
<circle cx="480.45" cy="61.21" r="1.55" fill="#6a4fa3" fill-opacity="0.72"/>
<circle cx="486.69" cy="101.01" r="1.55" fill="#6a4fa3" fill-opacity="0.72"/>
<circle cx="436.46" cy="100.33" r="1.55" fill="#f2de4a" fill-opacity="0.6"/>
<circle cx="451.26" cy="74.86" r="1.55" fill="#f2de4a" fill-opacity="0.6"/>
<circle cx="491.01" cy="105.79" r="1.55" fill="#6a4fa3" fill-opacity="0.72"/>
<circle cx="425.17" cy="100.26" r="1.55" fill="#6a4fa3" fill-opacity="0.72"/>
<circle cx="482.25" cy="95.93" r="1.55" fill="#6a4fa3" fill-opacity="0.72"/>
<circle cx="483.35" cy="108.87" r="1.55" fill="#6a4fa3" fill-opacity="0.72"/>
<circle cx="474.25" cy="69.19" r="1.55" fill="#6a4fa3" fill-opacity="0.72"/>
<circle cx="461.55" cy="86.62" r="1.55" fill="#f2de4a" fill-opacity="0.6"/>
<circle cx="485.79" cy="109.45" r="1.55" fill="#6a4fa3" fill-opacity="0.72"/>
<circle cx="476.29" cy="61.90" r="1.55" fill="#6a4fa3" fill-opacity="0.72"/>
<circle cx="479.59" cy="59.65" r="1.55" fill="#6a4fa3" fill-opacity="0.72"/>
<circle cx="482.27" cy="98.07" r="1.55" fill="#6a4fa3" fill-opacity="0.72"/>
<circle cx="478.31" cy="97.86" r="1.55" fill="#6a4fa3" fill-opacity="0.72"/>
<circle cx="434.86" cy="111.56" r="1.55" fill="#f2de4a" fill-opacity="0.6"/>
<circle cx="466.38" cy="83.92" r="1.55" fill="#6a4fa3" fill-opacity="0.72"/>
<circle cx="471.51" cy="77.12" r="1.55" fill="#f2de4a" fill-opacity="0.6"/>
<circle cx="491.23" cy="121.36" r="1.55" fill="#6a4fa3" fill-opacity="0.72"/>
<circle cx="432.47" cy="75.83" r="1.55" fill="#f2de4a" fill-opacity="0.6"/>
<circle cx="417.67" cy="92.41" r="1.55" fill="#6a4fa3" fill-opacity="0.72"/>
<circle cx="418.72" cy="91.40" r="1.55" fill="#6a4fa3" fill-opacity="0.72"/>
<circle cx="447.44" cy="75.02" r="1.55" fill="#f2de4a" fill-opacity="0.6"/>
<circle cx="489.14" cy="108.87" r="1.55" fill="#6a4fa3" fill-opacity="0.72"/>
<circle cx="475.95" cy="67.41" r="1.55" fill="#6a4fa3" fill-opacity="0.72"/>
<circle cx="473.09" cy="71.25" r="1.55" fill="#6a4fa3" fill-opacity="0.72"/>
<circle cx="494.32" cy="121.65" r="1.55" fill="#6a4fa3" fill-opacity="0.72"/>
<circle cx="484.08" cy="108.21" r="1.55" fill="#6a4fa3" fill-opacity="0.72"/>
<circle cx="494.02" cy="93.45" r="1.55" fill="#6a4fa3" fill-opacity="0.72"/>
<circle cx="481.07" cy="60.34" r="1.55" fill="#6a4fa3" fill-opacity="0.72"/>
<circle cx="486.71" cy="111.29" r="1.55" fill="#6a4fa3" fill-opacity="0.72"/>
<circle cx="490.97" cy="114.02" r="1.55" fill="#6a4fa3" fill-opacity="0.72"/>
<circle cx="487.69" cy="117.64" r="1.55" fill="#6a4fa3" fill-opacity="0.72"/>
<circle cx="490.67" cy="113.60" r="1.55" fill="#6a4fa3" fill-opacity="0.72"/>
<circle cx="437.83" cy="112.06" r="1.55" fill="#f2de4a" fill-opacity="0.6"/>
<circle cx="483.05" cy="46.64" r="1.55" fill="#6a4fa3" fill-opacity="0.72"/>
<circle cx="467.38" cy="82.84" r="1.55" fill="#f2de4a" fill-opacity="0.6"/>
<circle cx="485.86" cy="94.53" r="1.55" fill="#6a4fa3" fill-opacity="0.72"/>
<circle cx="482.44" cy="72.85" r="1.55" fill="#f2de4a" fill-opacity="0.6"/>
<circle cx="471.62" cy="91.31" r="1.55" fill="#f2de4a" fill-opacity="0.6"/>
<circle cx="478.86" cy="93.15" r="1.55" fill="#6a4fa3" fill-opacity="0.72"/>
<circle cx="481.26" cy="94.11" r="1.55" fill="#f2de4a" fill-opacity="0.6"/>
<circle cx="494.44" cy="99.41" r="1.55" fill="#6a4fa3" fill-opacity="0.72"/>
<circle cx="433.73" cy="79.76" r="1.55" fill="#6a4fa3" fill-opacity="0.72"/>
<circle cx="465.09" cy="79.29" r="1.55" fill="#f2de4a" fill-opacity="0.6"/>
<circle cx="484.14" cy="74.98" r="1.55" fill="#6a4fa3" fill-opacity="0.72"/>
<circle cx="494.82" cy="118.30" r="1.55" fill="#f2de4a" fill-opacity="0.6"/>
<circle cx="468.38" cy="100.56" r="1.55" fill="#6a4fa3" fill-opacity="0.72"/>
<circle cx="461.68" cy="112.82" r="1.55" fill="#6a4fa3" fill-opacity="0.72"/>
<circle cx="426.51" cy="84.55" r="1.55" fill="#f2de4a" fill-opacity="0.6"/>
<circle cx="476.06" cy="79.21" r="1.55" fill="#6a4fa3" fill-opacity="0.72"/>
<circle cx="487.82" cy="108.45" r="1.55" fill="#6a4fa3" fill-opacity="0.72"/>
<circle cx="426.06" cy="86.78" r="1.55" fill="#f2de4a" fill-opacity="0.6"/>
<circle cx="474.70" cy="66.61" r="1.55" fill="#f2de4a" fill-opacity="0.6"/>
<circle cx="486.85" cy="105.86" r="1.55" fill="#6a4fa3" fill-opacity="0.72"/>
<circle cx="485.68" cy="111.17" r="1.55" fill="#6a4fa3" fill-opacity="0.72"/>
<circle cx="479.52" cy="66.09" r="1.55" fill="#f2de4a" fill-opacity="0.6"/>
<circle cx="483.31" cy="103.45" r="1.55" fill="#6a4fa3" fill-opacity="0.72"/>
<circle cx="480.37" cy="103.19" r="1.55" fill="#6a4fa3" fill-opacity="0.72"/>
<circle cx="484.02" cy="93.18" r="1.55" fill="#6a4fa3" fill-opacity="0.72"/>
<circle cx="461.74" cy="94.25" r="1.55" fill="#f2de4a" fill-opacity="0.6"/>
<circle cx="484.30" cy="107.67" r="1.55" fill="#f2de4a" fill-opacity="0.6"/>
<circle cx="483.20" cy="104.48" r="1.55" fill="#6a4fa3" fill-opacity="0.72"/>
<circle cx="476.49" cy="61.85" r="1.55" fill="#6a4fa3" fill-opacity="0.72"/>
<circle cx="490.03" cy="117.54" r="1.55" fill="#6a4fa3" fill-opacity="0.72"/>
<circle cx="492.03" cy="92.44" r="1.55" fill="#6a4fa3" fill-opacity="0.72"/>
<circle cx="481.69" cy="53.86" r="1.55" fill="#6a4fa3" fill-opacity="0.72"/>
<circle cx="488.04" cy="113.90" r="1.55" fill="#6a4fa3" fill-opacity="0.72"/>
<circle cx="448.82" cy="76.68" r="1.55" fill="#f2de4a" fill-opacity="0.6"/>
<circle cx="430.81" cy="79.77" r="1.55" fill="#f2de4a" fill-opacity="0.6"/>
<circle cx="483.27" cy="99.47" r="1.55" fill="#6a4fa3" fill-opacity="0.72"/>
<circle cx="444.85" cy="105.37" r="1.55" fill="#f2de4a" fill-opacity="0.6"/>
<circle cx="440.70" cy="76.93" r="1.55" fill="#f2de4a" fill-opacity="0.6"/>
<circle cx="494.96" cy="120.16" r="1.55" fill="#6a4fa3" fill-opacity="0.72"/>
<circle cx="477.85" cy="108.03" r="1.55" fill="#6a4fa3" fill-opacity="0.72"/>
<circle cx="480.03" cy="111.94" r="1.55" fill="#f2de4a" fill-opacity="0.6"/>
<circle cx="482.25" cy="52.74" r="1.55" fill="#f2de4a" fill-opacity="0.6"/>
<circle cx="481.92" cy="92.88" r="1.55" fill="#6a4fa3" fill-opacity="0.72"/>
<circle cx="467.51" cy="87.07" r="1.55" fill="#f2de4a" fill-opacity="0.6"/>
<circle cx="422.98" cy="88.39" r="1.55" fill="#6a4fa3" fill-opacity="0.72"/>
<circle cx="466.35" cy="107.86" r="1.55" fill="#f2de4a" fill-opacity="0.6"/>
<circle cx="484.95" cy="100.27" r="1.55" fill="#6a4fa3" fill-opacity="0.72"/>
<circle cx="461.28" cy="106.11" r="1.55" fill="#f2de4a" fill-opacity="0.6"/>
<circle cx="491.45" cy="113.40" r="1.55" fill="#6a4fa3" fill-opacity="0.72"/>
<circle cx="417.30" cy="92.53" r="1.55" fill="#6a4fa3" fill-opacity="0.72"/>
<circle cx="486.97" cy="111.48" r="1.55" fill="#6a4fa3" fill-opacity="0.72"/>
<circle cx="452.48" cy="80.69" r="1.55" fill="#f2de4a" fill-opacity="0.6"/>
<circle cx="421.44" cy="90.63" r="1.55" fill="#6a4fa3" fill-opacity="0.72"/>
<circle cx="421.11" cy="90.66" r="1.55" fill="#6a4fa3" fill-opacity="0.72"/>
<circle cx="473.87" cy="72.60" r="1.55" fill="#6a4fa3" fill-opacity="0.72"/>
<circle cx="450.59" cy="104.94" r="1.55" fill="#f2de4a" fill-opacity="0.6"/>
<circle cx="477.78" cy="69.68" r="1.55" fill="#6a4fa3" fill-opacity="0.72"/>
<circle cx="478.02" cy="107.82" r="1.55" fill="#f2de4a" fill-opacity="0.6"/>
<circle cx="473.63" cy="76.57" r="1.55" fill="#6a4fa3" fill-opacity="0.72"/>
<circle cx="434.60" cy="77.69" r="1.55" fill="#f2de4a" fill-opacity="0.6"/>
<circle cx="486.82" cy="106.28" r="1.55" fill="#f2de4a" fill-opacity="0.6"/>
<circle cx="472.83" cy="77.36" r="1.55" fill="#6a4fa3" fill-opacity="0.72"/>
<circle cx="491.39" cy="116.76" r="1.55" fill="#6a4fa3" fill-opacity="0.72"/>
<circle cx="459.53" cy="77.77" r="1.55" fill="#f2de4a" fill-opacity="0.6"/>
<circle cx="424.57" cy="87.72" r="1.55" fill="#f2de4a" fill-opacity="0.6"/>
<circle cx="471.35" cy="87.79" r="1.55" fill="#6a4fa3" fill-opacity="0.72"/>
<circle cx="478.42" cy="100.03" r="1.55" fill="#6a4fa3" fill-opacity="0.72"/>
<circle cx="490.95" cy="92.59" r="1.55" fill="#f2de4a" fill-opacity="0.6"/>
<circle cx="492.38" cy="114.49" r="1.55" fill="#f2de4a" fill-opacity="0.6"/>
<circle cx="465.75" cy="88.26" r="1.55" fill="#6a4fa3" fill-opacity="0.72"/>
<circle cx="487.72" cy="103.02" r="1.55" fill="#6a4fa3" fill-opacity="0.72"/>
<circle cx="459.27" cy="83.83" r="1.55" fill="#f2de4a" fill-opacity="0.6"/>
<circle cx="489.97" cy="108.10" r="1.55" fill="#6a4fa3" fill-opacity="0.72"/>
<circle cx="447.18" cy="74.92" r="1.55" fill="#f2de4a" fill-opacity="0.6"/>
<circle cx="482.95" cy="97.13" r="1.55" fill="#6a4fa3" fill-opacity="0.72"/>
<circle cx="483.30" cy="53.30" r="1.55" fill="#f2de4a" fill-opacity="0.6"/>
<circle cx="424.83" cy="80.94" r="1.55" fill="#f2de4a" fill-opacity="0.6"/>
<circle cx="427.87" cy="88.39" r="1.55" fill="#6a4fa3" fill-opacity="0.72"/>
<circle cx="438.97" cy="112.25" r="1.55" fill="#f2de4a" fill-opacity="0.6"/>
<circle cx="436.77" cy="76.70" r="1.55" fill="#f2de4a" fill-opacity="0.6"/>
<circle cx="486.66" cy="113.80" r="1.55" fill="#6a4fa3" fill-opacity="0.72"/>
<circle cx="480.48" cy="57.14" r="1.55" fill="#6a4fa3" fill-opacity="0.72"/>
<circle cx="426.33" cy="89.40" r="1.55" fill="#f2de4a" fill-opacity="0.6"/>
<circle cx="433.83" cy="70.30" r="1.55" fill="#6a4fa3" fill-opacity="0.72"/>
<circle cx="470.37" cy="108.51" r="1.55" fill="#6a4fa3" fill-opacity="0.72"/>
<circle cx="483.51" cy="101.77" r="1.55" fill="#6a4fa3" fill-opacity="0.72"/>
<circle cx="469.03" cy="112.38" r="1.55" fill="#f2de4a" fill-opacity="0.6"/>
<circle cx="483.00" cy="107.24" r="1.55" fill="#6a4fa3" fill-opacity="0.72"/>
<circle cx="484.37" cy="107.46" r="1.55" fill="#6a4fa3" fill-opacity="0.72"/>
<circle cx="491.47" cy="116.32" r="1.55" fill="#6a4fa3" fill-opacity="0.72"/>
<circle cx="433.64" cy="77.20" r="1.55" fill="#6a4fa3" fill-opacity="0.72"/>
<circle cx="480.52" cy="94.92" r="1.55" fill="#f2de4a" fill-opacity="0.6"/>
<circle cx="445.34" cy="99.26" r="1.55" fill="#f2de4a" fill-opacity="0.6"/>
<circle cx="425.31" cy="87.14" r="1.55" fill="#6a4fa3" fill-opacity="0.72"/>
<circle cx="436.74" cy="82.69" r="1.55" fill="#f2de4a" fill-opacity="0.6"/>
<circle cx="423.15" cy="83.71" r="1.55" fill="#6a4fa3" fill-opacity="0.72"/>
<circle cx="477.21" cy="65.50" r="1.55" fill="#6a4fa3" fill-opacity="0.72"/>
<circle cx="464.63" cy="100.57" r="1.55" fill="#6a4fa3" fill-opacity="0.72"/>
<circle cx="419.49" cy="88.69" r="1.55" fill="#6a4fa3" fill-opacity="0.72"/>
<circle cx="485.48" cy="105.75" r="1.55" fill="#6a4fa3" fill-opacity="0.72"/>
<circle cx="473.88" cy="76.68" r="1.55" fill="#f2de4a" fill-opacity="0.6"/>
<circle cx="486.11" cy="113.23" r="1.55" fill="#6a4fa3" fill-opacity="0.72"/>
<circle cx="486.52" cy="123.11" r="1.55" fill="#6a4fa3" fill-opacity="0.72"/>
<circle cx="449.23" cy="73.45" r="1.55" fill="#f2de4a" fill-opacity="0.6"/>
<circle cx="441.60" cy="84.71" r="1.55" fill="#f2de4a" fill-opacity="0.6"/>
<circle cx="478.58" cy="61.98" r="1.55" fill="#f2de4a" fill-opacity="0.6"/>
<circle cx="470.61" cy="108.83" r="1.55" fill="#6a4fa3" fill-opacity="0.72"/>
<circle cx="484.18" cy="104.17" r="1.55" fill="#6a4fa3" fill-opacity="0.72"/>
<circle cx="443.44" cy="104.38" r="1.55" fill="#f2de4a" fill-opacity="0.6"/>
<circle cx="471.35" cy="77.60" r="1.55" fill="#f2de4a" fill-opacity="0.6"/>
<circle cx="484.62" cy="96.09" r="1.55" fill="#6a4fa3" fill-opacity="0.72"/>
<circle cx="484.73" cy="100.81" r="1.55" fill="#6a4fa3" fill-opacity="0.72"/>
<circle cx="481.84" cy="78.41" r="1.55" fill="#6a4fa3" fill-opacity="0.72"/>
<circle cx="450.79" cy="96.51" r="1.55" fill="#f2de4a" fill-opacity="0.6"/>
<circle cx="429.29" cy="105.45" r="1.55" fill="#6a4fa3" fill-opacity="0.72"/>
<circle cx="478.01" cy="65.67" r="1.55" fill="#f2de4a" fill-opacity="0.6"/>
<circle cx="427.96" cy="98.24" r="1.55" fill="#6a4fa3" fill-opacity="0.72"/>
<circle cx="496.33" cy="109.23" r="1.55" fill="#f2de4a" fill-opacity="0.6"/>
<circle cx="479.46" cy="93.13" r="1.55" fill="#6a4fa3" fill-opacity="0.72"/>
<circle cx="426.84" cy="84.42" r="1.55" fill="#f2de4a" fill-opacity="0.6"/>
<circle cx="472.55" cy="77.94" r="1.55" fill="#f2de4a" fill-opacity="0.6"/>
<circle cx="425.62" cy="88.42" r="1.55" fill="#6a4fa3" fill-opacity="0.72"/>
<circle cx="482.87" cy="73.29" r="1.55" fill="#f2de4a" fill-opacity="0.6"/>
<circle cx="484.58" cy="53.75" r="1.55" fill="#6a4fa3" fill-opacity="0.72"/>
<circle cx="426.84" cy="86.00" r="1.55" fill="#f2de4a" fill-opacity="0.6"/>
<circle cx="438.87" cy="74.43" r="1.55" fill="#f2de4a" fill-opacity="0.6"/>
<circle cx="457.62" cy="75.91" r="1.55" fill="#f2de4a" fill-opacity="0.6"/>
<circle cx="473.81" cy="73.50" r="1.55" fill="#f2de4a" fill-opacity="0.6"/>
<circle cx="445.78" cy="79.84" r="1.55" fill="#f2de4a" fill-opacity="0.6"/>
<circle cx="474.24" cy="73.38" r="1.55" fill="#f2de4a" fill-opacity="0.6"/>
<circle cx="481.15" cy="56.96" r="1.55" fill="#6a4fa3" fill-opacity="0.72"/>
<circle cx="495.82" cy="93.36" r="1.55" fill="#6a4fa3" fill-opacity="0.72"/>
<circle cx="477.71" cy="60.24" r="1.55" fill="#6a4fa3" fill-opacity="0.72"/>
<circle cx="450.23" cy="80.38" r="1.55" fill="#f2de4a" fill-opacity="0.6"/>
<circle cx="421.29" cy="86.50" r="1.55" fill="#6a4fa3" fill-opacity="0.72"/>
<circle cx="487.53" cy="113.25" r="1.55" fill="#6a4fa3" fill-opacity="0.72"/>
<circle cx="436.13" cy="113.10" r="1.55" fill="#f2de4a" fill-opacity="0.6"/>
<circle cx="433.02" cy="78.33" r="1.55" fill="#f2de4a" fill-opacity="0.6"/>
<circle cx="482.87" cy="53.83" r="1.55" fill="#f2de4a" fill-opacity="0.6"/>
<circle cx="484.12" cy="108.92" r="1.55" fill="#6a4fa3" fill-opacity="0.72"/>
<circle cx="428.13" cy="83.95" r="1.55" fill="#6a4fa3" fill-opacity="0.72"/>
<circle cx="483.06" cy="107.58" r="1.55" fill="#6a4fa3" fill-opacity="0.72"/>
<circle cx="480.71" cy="111.25" r="1.55" fill="#f2de4a" fill-opacity="0.6"/>
<circle cx="440.09" cy="75.42" r="1.55" fill="#f2de4a" fill-opacity="0.6"/>
<circle cx="423.65" cy="86.32" r="1.55" fill="#f2de4a" fill-opacity="0.6"/>
<circle cx="420.14" cy="92.96" r="1.55" fill="#6a4fa3" fill-opacity="0.72"/>
<circle cx="474.43" cy="68.63" r="1.55" fill="#6a4fa3" fill-opacity="0.72"/>
<circle cx="483.51" cy="65.49" r="1.55" fill="#6a4fa3" fill-opacity="0.72"/>
<circle cx="476.22" cy="69.01" r="1.55" fill="#6a4fa3" fill-opacity="0.72"/>
<circle cx="485.63" cy="113.42" r="1.55" fill="#6a4fa3" fill-opacity="0.72"/>
<circle cx="490.42" cy="100.64" r="1.55" fill="#6a4fa3" fill-opacity="0.72"/>
<circle cx="492.73" cy="119.31" r="1.55" fill="#f2de4a" fill-opacity="0.6"/>
<circle cx="470.38" cy="98.70" r="1.55" fill="#f2de4a" fill-opacity="0.6"/>
<circle cx="479.61" cy="74.73" r="1.55" fill="#f2de4a" fill-opacity="0.6"/>
<circle cx="492.49" cy="117.57" r="1.55" fill="#6a4fa3" fill-opacity="0.72"/>
<circle cx="475.92" cy="69.58" r="1.55" fill="#6a4fa3" fill-opacity="0.72"/>
<circle cx="487.40" cy="113.06" r="1.55" fill="#f2de4a" fill-opacity="0.6"/>
<circle cx="430.87" cy="84.60" r="1.55" fill="#6a4fa3" fill-opacity="0.72"/>
<circle cx="487.04" cy="118.53" r="1.55" fill="#f2de4a" fill-opacity="0.6"/>
<circle cx="434.82" cy="78.48" r="1.55" fill="#6a4fa3" fill-opacity="0.72"/>
<circle cx="423.11" cy="92.16" r="1.55" fill="#6a4fa3" fill-opacity="0.72"/>
<circle cx="489.30" cy="108.63" r="1.55" fill="#f2de4a" fill-opacity="0.6"/>
<circle cx="425.50" cy="88.44" r="1.55" fill="#f2de4a" fill-opacity="0.6"/>
<circle cx="475.32" cy="71.73" r="1.55" fill="#6a4fa3" fill-opacity="0.72"/>
<circle cx="486.88" cy="109.56" r="1.55" fill="#f2de4a" fill-opacity="0.6"/>
<circle cx="425.99" cy="85.81" r="1.55" fill="#f2de4a" fill-opacity="0.6"/>
<circle cx="475.30" cy="70.67" r="1.55" fill="#6a4fa3" fill-opacity="0.72"/>
<circle cx="418.09" cy="92.69" r="1.55" fill="#f2de4a" fill-opacity="0.6"/>
<circle cx="488.88" cy="102.43" r="1.55" fill="#f2de4a" fill-opacity="0.6"/>
<circle cx="483.42" cy="103.91" r="1.55" fill="#6a4fa3" fill-opacity="0.72"/>
<circle cx="483.74" cy="100.12" r="1.55" fill="#6a4fa3" fill-opacity="0.72"/>
<circle cx="483.98" cy="93.15" r="1.55" fill="#6a4fa3" fill-opacity="0.72"/>
<circle cx="480.94" cy="103.78" r="1.55" fill="#6a4fa3" fill-opacity="0.72"/>
<circle cx="476.03" cy="98.47" r="1.55" fill="#f2de4a" fill-opacity="0.6"/>
<circle cx="476.37" cy="67.94" r="1.55" fill="#f2de4a" fill-opacity="0.6"/>
<circle cx="481.19" cy="96.12" r="1.55" fill="#6a4fa3" fill-opacity="0.72"/>
<circle cx="488.21" cy="117.12" r="1.55" fill="#6a4fa3" fill-opacity="0.72"/>
<circle cx="422.94" cy="88.56" r="1.55" fill="#6a4fa3" fill-opacity="0.72"/>
<circle cx="480.45" cy="97.32" r="1.55" fill="#6a4fa3" fill-opacity="0.72"/>
<circle cx="485.81" cy="109.77" r="1.55" fill="#6a4fa3" fill-opacity="0.72"/>
<circle cx="488.47" cy="120.39" r="1.55" fill="#6a4fa3" fill-opacity="0.72"/>
<circle cx="479.54" cy="59.94" r="1.55" fill="#6a4fa3" fill-opacity="0.72"/>
<circle cx="480.30" cy="94.42" r="1.55" fill="#6a4fa3" fill-opacity="0.72"/>
<circle cx="492.62" cy="121.01" r="1.55" fill="#6a4fa3" fill-opacity="0.72"/>
<circle cx="472.01" cy="81.93" r="1.55" fill="#6a4fa3" fill-opacity="0.72"/>
<circle cx="429.79" cy="82.78" r="1.55" fill="#f2de4a" fill-opacity="0.6"/>
<circle cx="484.84" cy="107.46" r="1.55" fill="#6a4fa3" fill-opacity="0.72"/>
<circle cx="468.59" cy="106.51" r="1.55" fill="#f2de4a" fill-opacity="0.6"/>
<circle cx="471.68" cy="77.50" r="1.55" fill="#f2de4a" fill-opacity="0.6"/>
<circle cx="478.88" cy="112.07" r="1.55" fill="#6a4fa3" fill-opacity="0.72"/>
<circle cx="483.56" cy="98.97" r="1.55" fill="#f2de4a" fill-opacity="0.6"/>
<circle cx="426.93" cy="84.63" r="1.55" fill="#f2de4a" fill-opacity="0.6"/>
<circle cx="481.77" cy="53.49" r="1.55" fill="#6a4fa3" fill-opacity="0.72"/>
<circle cx="464.87" cy="86.39" r="1.55" fill="#f2de4a" fill-opacity="0.6"/>
<circle cx="430.50" cy="78.17" r="1.55" fill="#f2de4a" fill-opacity="0.6"/>
<circle cx="471.10" cy="78.63" r="1.55" fill="#6a4fa3" fill-opacity="0.72"/>
<circle cx="480.78" cy="101.37" r="1.55" fill="#6a4fa3" fill-opacity="0.72"/>
<circle cx="483.22" cy="51.55" r="1.55" fill="#6a4fa3" fill-opacity="0.72"/>
<circle cx="429.14" cy="81.05" r="1.55" fill="#f2de4a" fill-opacity="0.6"/>
<circle cx="488.20" cy="120.01" r="1.55" fill="#f2de4a" fill-opacity="0.6"/>
<circle cx="476.64" cy="65.90" r="1.55" fill="#6a4fa3" fill-opacity="0.72"/>
<circle cx="479.49" cy="61.27" r="1.55" fill="#f2de4a" fill-opacity="0.6"/>
<circle cx="483.68" cy="106.16" r="1.55" fill="#6a4fa3" fill-opacity="0.72"/>
<circle cx="420.87" cy="90.93" r="1.55" fill="#6a4fa3" fill-opacity="0.72"/>
<circle cx="478.32" cy="66.10" r="1.55" fill="#f2de4a" fill-opacity="0.6"/>
<circle cx="485.17" cy="102.81" r="1.55" fill="#6a4fa3" fill-opacity="0.72"/>
<circle cx="464.44" cy="108.16" r="1.55" fill="#f2de4a" fill-opacity="0.6"/>
<circle cx="463.34" cy="101.09" r="1.55" fill="#6a4fa3" fill-opacity="0.72"/>
<circle cx="493.01" cy="118.86" r="1.55" fill="#6a4fa3" fill-opacity="0.72"/>
<circle cx="450.64" cy="77.63" r="1.55" fill="#f2de4a" fill-opacity="0.6"/>
<circle cx="480.29" cy="96.44" r="1.55" fill="#6a4fa3" fill-opacity="0.72"/>
<circle cx="455.65" cy="96.64" r="1.55" fill="#f2de4a" fill-opacity="0.6"/>
<circle cx="488.68" cy="102.79" r="1.55" fill="#6a4fa3" fill-opacity="0.72"/>
<circle cx="477.15" cy="68.23" r="1.55" fill="#6a4fa3" fill-opacity="0.72"/>
<circle cx="445.45" cy="81.58" r="1.55" fill="#f2de4a" fill-opacity="0.6"/>
<circle cx="462.70" cy="86.51" r="1.55" fill="#f2de4a" fill-opacity="0.6"/>
<circle cx="430.62" cy="81.28" r="1.55" fill="#f2de4a" fill-opacity="0.6"/>
<circle cx="470.48" cy="80.47" r="1.55" fill="#f2de4a" fill-opacity="0.6"/>
<circle cx="475.66" cy="72.11" r="1.55" fill="#6a4fa3" fill-opacity="0.72"/>
<circle cx="480.58" cy="55.29" r="1.55" fill="#f2de4a" fill-opacity="0.6"/>
<circle cx="488.54" cy="112.27" r="1.55" fill="#6a4fa3" fill-opacity="0.72"/>
<circle cx="483.18" cy="50.76" r="1.55" fill="#f2de4a" fill-opacity="0.6"/>
<circle cx="429.40" cy="80.74" r="1.55" fill="#f2de4a" fill-opacity="0.6"/>
<circle cx="455.62" cy="74.79" r="1.55" fill="#f2de4a" fill-opacity="0.6"/>
<circle cx="425.75" cy="105.56" r="1.55" fill="#6a4fa3" fill-opacity="0.72"/>
<circle cx="456.04" cy="83.00" r="1.55" fill="#f2de4a" fill-opacity="0.6"/>
<circle cx="436.41" cy="78.47" r="1.55" fill="#f2de4a" fill-opacity="0.6"/>
<circle cx="475.86" cy="110.17" r="1.55" fill="#f2de4a" fill-opacity="0.6"/>
<circle cx="487.32" cy="103.29" r="1.55" fill="#6a4fa3" fill-opacity="0.72"/>
<circle cx="486.86" cy="116.94" r="1.55" fill="#6a4fa3" fill-opacity="0.72"/>
<circle cx="484.21" cy="98.47" r="1.55" fill="#6a4fa3" fill-opacity="0.72"/>
<circle cx="469.98" cy="75.26" r="1.55" fill="#f2de4a" fill-opacity="0.6"/>
<circle cx="486.08" cy="109.58" r="1.55" fill="#6a4fa3" fill-opacity="0.72"/>
<circle cx="453.35" cy="77.24" r="1.55" fill="#f2de4a" fill-opacity="0.6"/>
<circle cx="481.75" cy="94.80" r="1.55" fill="#6a4fa3" fill-opacity="0.72"/>
<circle cx="472.30" cy="74.91" r="1.55" fill="#f2de4a" fill-opacity="0.6"/>
<circle cx="482.90" cy="95.81" r="1.55" fill="#6a4fa3" fill-opacity="0.72"/>
<circle cx="483.03" cy="104.33" r="1.55" fill="#f2de4a" fill-opacity="0.6"/>
<circle cx="489.93" cy="117.86" r="1.55" fill="#6a4fa3" fill-opacity="0.72"/>
<circle cx="493.05" cy="117.71" r="1.55" fill="#f2de4a" fill-opacity="0.6"/>
<circle cx="428.72" cy="80.64" r="1.55" fill="#f2de4a" fill-opacity="0.6"/>
<circle cx="481.14" cy="100.42" r="1.55" fill="#6a4fa3" fill-opacity="0.72"/>
<circle cx="485.56" cy="102.03" r="1.55" fill="#6a4fa3" fill-opacity="0.72"/>
<circle cx="420.50" cy="93.81" r="1.55" fill="#6a4fa3" fill-opacity="0.72"/>
<circle cx="474.10" cy="79.60" r="1.55" fill="#6a4fa3" fill-opacity="0.72"/>
<circle cx="484.08" cy="48.92" r="1.55" fill="#f2de4a" fill-opacity="0.6"/>
<circle cx="471.31" cy="76.59" r="1.55" fill="#f2de4a" fill-opacity="0.6"/>
<circle cx="428.28" cy="88.39" r="1.55" fill="#f2de4a" fill-opacity="0.6"/>
<circle cx="472.35" cy="71.05" r="1.55" fill="#6a4fa3" fill-opacity="0.72"/>
<circle cx="463.20" cy="112.05" r="1.55" fill="#f2de4a" fill-opacity="0.6"/>
<circle cx="473.06" cy="73.60" r="1.55" fill="#f2de4a" fill-opacity="0.6"/>
<circle cx="489.80" cy="95.71" r="1.55" fill="#f2de4a" fill-opacity="0.6"/>
<circle cx="478.80" cy="63.18" r="1.55" fill="#6a4fa3" fill-opacity="0.72"/>
<circle cx="492.11" cy="120.97" r="1.55" fill="#f2de4a" fill-opacity="0.6"/>
<circle cx="487.51" cy="116.15" r="1.55" fill="#6a4fa3" fill-opacity="0.72"/>
<circle cx="484.57" cy="62.55" r="1.55" fill="#6a4fa3" fill-opacity="0.72"/>
<circle cx="484.02" cy="98.67" r="1.55" fill="#6a4fa3" fill-opacity="0.72"/>
<circle cx="454.10" cy="80.73" r="1.55" fill="#f2de4a" fill-opacity="0.6"/>
<circle cx="485.40" cy="51.40" r="1.55" fill="#f2de4a" fill-opacity="0.6"/>
<circle cx="433.73" cy="77.69" r="1.55" fill="#f2de4a" fill-opacity="0.6"/>
<circle cx="423.42" cy="90.13" r="1.55" fill="#6a4fa3" fill-opacity="0.72"/>
<circle cx="441.03" cy="94.63" r="1.55" fill="#f2de4a" fill-opacity="0.6"/>
<circle cx="430.55" cy="76.52" r="1.55" fill="#f2de4a" fill-opacity="0.6"/>
<circle cx="431.55" cy="79.40" r="1.55" fill="#6a4fa3" fill-opacity="0.72"/>
<circle cx="483.61" cy="97.49" r="1.55" fill="#6a4fa3" fill-opacity="0.72"/>
<circle cx="488.94" cy="104.85" r="1.55" fill="#f2de4a" fill-opacity="0.6"/>
<circle cx="425.47" cy="86.34" r="1.55" fill="#f2de4a" fill-opacity="0.6"/>
<circle cx="471.79" cy="74.46" r="1.55" fill="#6a4fa3" fill-opacity="0.72"/>
<circle cx="473.33" cy="78.53" r="1.55" fill="#f2de4a" fill-opacity="0.6"/>
<circle cx="482.35" cy="99.88" r="1.55" fill="#6a4fa3" fill-opacity="0.72"/>
<circle cx="491.81" cy="115.85" r="1.55" fill="#6a4fa3" fill-opacity="0.72"/>
<circle cx="484.92" cy="100.09" r="1.55" fill="#6a4fa3" fill-opacity="0.72"/>
<circle cx="488.29" cy="114.35" r="1.55" fill="#6a4fa3" fill-opacity="0.72"/>
<circle cx="423.57" cy="101.24" r="1.55" fill="#6a4fa3" fill-opacity="0.72"/>
<circle cx="430.70" cy="81.94" r="1.55" fill="#f2de4a" fill-opacity="0.6"/>
<circle cx="464.77" cy="112.69" r="1.55" fill="#f2de4a" fill-opacity="0.6"/>
<circle cx="467.39" cy="109.87" r="1.55" fill="#6a4fa3" fill-opacity="0.72"/>
<circle cx="467.50" cy="102.91" r="1.55" fill="#f2de4a" fill-opacity="0.6"/>
<circle cx="428.17" cy="83.10" r="1.55" fill="#f2de4a" fill-opacity="0.6"/>
<circle cx="459.31" cy="77.28" r="1.55" fill="#f2de4a" fill-opacity="0.6"/>
<circle cx="476.90" cy="67.08" r="1.55" fill="#6a4fa3" fill-opacity="0.72"/>
<circle cx="495.49" cy="95.34" r="1.55" fill="#6a4fa3" fill-opacity="0.72"/>
<circle cx="478.42" cy="66.52" r="1.55" fill="#f2de4a" fill-opacity="0.6"/>
<circle cx="418.61" cy="90.04" r="1.55" fill="#6a4fa3" fill-opacity="0.72"/>
<circle cx="428.25" cy="103.58" r="1.55" fill="#6a4fa3" fill-opacity="0.72"/>
<circle cx="479.37" cy="58.64" r="1.55" fill="#6a4fa3" fill-opacity="0.72"/>
<circle cx="488.06" cy="111.38" r="1.55" fill="#6a4fa3" fill-opacity="0.72"/>
<circle cx="479.42" cy="75.02" r="1.55" fill="#f2de4a" fill-opacity="0.6"/>
<circle cx="419.99" cy="89.31" r="1.55" fill="#6a4fa3" fill-opacity="0.72"/>
<circle cx="448.14" cy="79.85" r="1.55" fill="#6a4fa3" fill-opacity="0.72"/>
<circle cx="418.50" cy="93.99" r="1.55" fill="#6a4fa3" fill-opacity="0.72"/>
<circle cx="488.80" cy="114.22" r="1.55" fill="#6a4fa3" fill-opacity="0.72"/>
<circle cx="494.67" cy="120.47" r="1.55" fill="#6a4fa3" fill-opacity="0.72"/>
<circle cx="468.30" cy="93.66" r="1.55" fill="#6a4fa3" fill-opacity="0.72"/>
<circle cx="458.21" cy="82.45" r="1.55" fill="#f2de4a" fill-opacity="0.6"/>
<path d="M413.80,43.00 V127.00 H499.60" fill="none" stroke="#303030" stroke-width="1.55"/>
<line x1="410.80" y1="47.00" x2="413.80" y2="47.00" stroke="#303030" stroke-width="1.15"/>
<text x="409.00" y="49.30" font-size="6.4" text-anchor="end" fill="#333" font-weight="normal">0.50</text>
<line x1="410.80" y1="67.00" x2="413.80" y2="67.00" stroke="#303030" stroke-width="1.15"/>
<text x="409.00" y="69.30" font-size="6.4" text-anchor="end" fill="#333" font-weight="normal">0.25</text>
<line x1="410.80" y1="87.00" x2="413.80" y2="87.00" stroke="#303030" stroke-width="1.15"/>
<text x="409.00" y="89.30" font-size="6.4" text-anchor="end" fill="#333" font-weight="normal">0.00</text>
<line x1="410.80" y1="107.00" x2="413.80" y2="107.00" stroke="#303030" stroke-width="1.15"/>
<text x="409.00" y="109.30" font-size="6.4" text-anchor="end" fill="#333" font-weight="normal">−0.25</text>
<line x1="428.50" y1="127.00" x2="428.50" y2="130.00" stroke="#303030" stroke-width="1.15"/>
<text x="428.50" y="138.40" font-size="6.4" text-anchor="middle" fill="#333" font-weight="normal">−0.4</text>
<line x1="445.50" y1="127.00" x2="445.50" y2="130.00" stroke="#303030" stroke-width="1.15"/>
<text x="445.50" y="138.40" font-size="6.4" text-anchor="middle" fill="#333" font-weight="normal">−0.2</text>
<line x1="462.50" y1="127.00" x2="462.50" y2="130.00" stroke="#303030" stroke-width="1.15"/>
<text x="462.50" y="138.40" font-size="6.4" text-anchor="middle" fill="#333" font-weight="normal">0.0</text>
<line x1="479.50" y1="127.00" x2="479.50" y2="130.00" stroke="#303030" stroke-width="1.15"/>
<text x="479.50" y="138.40" font-size="6.4" text-anchor="middle" fill="#333" font-weight="normal">0.2</text>
<line x1="496.50" y1="127.00" x2="496.50" y2="130.00" stroke="#303030" stroke-width="1.15"/>
<text x="496.50" y="138.40" font-size="6.4" text-anchor="middle" fill="#333" font-weight="normal">0.4</text>
<circle cx="365.89" cy="231.19" r="1.55" fill="#f05a32" fill-opacity="0.72"/>
<circle cx="344.42" cy="216.74" r="1.55" fill="#5cc4c0" fill-opacity="0.72"/>
<circle cx="315.32" cy="207.03" r="1.55" fill="#f05a32" fill-opacity="0.72"/>
<circle cx="367.31" cy="228.07" r="1.55" fill="#8a4fa8" fill-opacity="0.72"/>
<circle cx="320.14" cy="212.67" r="1.55" fill="#f05a32" fill-opacity="0.72"/>
<circle cx="357.17" cy="212.77" r="1.55" fill="#f05a32" fill-opacity="0.72"/>
<circle cx="330.94" cy="225.83" r="1.55" fill="#5cc4c0" fill-opacity="0.72"/>
<circle cx="378.36" cy="256.27" r="1.55" fill="#8a4fa8" fill-opacity="0.72"/>
<circle cx="320.61" cy="236.71" r="1.55" fill="#f05a32" fill-opacity="0.72"/>
<circle cx="366.50" cy="192.40" r="1.55" fill="#f05a32" fill-opacity="0.72"/>
<circle cx="311.60" cy="217.02" r="1.55" fill="#f05a32" fill-opacity="0.72"/>
<circle cx="366.27" cy="233.65" r="1.55" fill="#5cc4c0" fill-opacity="0.72"/>
<circle cx="376.98" cy="254.79" r="1.55" fill="#f05a32" fill-opacity="0.72"/>
<circle cx="368.55" cy="182.79" r="1.55" fill="#f05a32" fill-opacity="0.72"/>
<circle cx="357.36" cy="246.23" r="1.55" fill="#5cc4c0" fill-opacity="0.72"/>
<circle cx="370.64" cy="246.82" r="1.55" fill="#5cc4c0" fill-opacity="0.72"/>
<circle cx="333.50" cy="244.77" r="1.55" fill="#5cc4c0" fill-opacity="0.72"/>
<circle cx="359.46" cy="245.67" r="1.55" fill="#8a4fa8" fill-opacity="0.72"/>
<circle cx="361.08" cy="200.28" r="1.55" fill="#5cc4c0" fill-opacity="0.72"/>
<circle cx="304.82" cy="225.31" r="1.55" fill="#f05a32" fill-opacity="0.72"/>
<circle cx="330.30" cy="209.54" r="1.55" fill="#5cc4c0" fill-opacity="0.72"/>
<circle cx="308.27" cy="221.54" r="1.55" fill="#f05a32" fill-opacity="0.72"/>
<circle cx="359.30" cy="209.53" r="1.55" fill="#f05a32" fill-opacity="0.72"/>
<circle cx="379.32" cy="255.53" r="1.55" fill="#8a4fa8" fill-opacity="0.72"/>
<circle cx="373.30" cy="242.78" r="1.55" fill="#8a4fa8" fill-opacity="0.72"/>
<circle cx="367.94" cy="210.57" r="1.55" fill="#f05a32" fill-opacity="0.72"/>
<circle cx="373.47" cy="244.56" r="1.55" fill="#5cc4c0" fill-opacity="0.72"/>
<circle cx="368.42" cy="236.44" r="1.55" fill="#5cc4c0" fill-opacity="0.72"/>
<circle cx="367.78" cy="234.07" r="1.55" fill="#5cc4c0" fill-opacity="0.72"/>
<circle cx="354.77" cy="224.27" r="1.55" fill="#5cc4c0" fill-opacity="0.72"/>
<circle cx="355.34" cy="214.26" r="1.55" fill="#f05a32" fill-opacity="0.72"/>
<circle cx="367.67" cy="190.52" r="1.55" fill="#f05a32" fill-opacity="0.72"/>
<circle cx="309.19" cy="219.77" r="1.55" fill="#5cc4c0" fill-opacity="0.72"/>
<circle cx="353.89" cy="222.30" r="1.55" fill="#f05a32" fill-opacity="0.72"/>
<circle cx="362.68" cy="197.59" r="1.55" fill="#5cc4c0" fill-opacity="0.72"/>
<circle cx="369.20" cy="228.19" r="1.55" fill="#5cc4c0" fill-opacity="0.72"/>
<circle cx="375.26" cy="254.23" r="1.55" fill="#8a4fa8" fill-opacity="0.72"/>
<circle cx="370.92" cy="242.14" r="1.55" fill="#5cc4c0" fill-opacity="0.72"/>
<circle cx="367.29" cy="185.04" r="1.55" fill="#f05a32" fill-opacity="0.72"/>
<circle cx="325.81" cy="220.26" r="1.55" fill="#f05a32" fill-opacity="0.72"/>
<circle cx="380.28" cy="220.79" r="1.55" fill="#8a4fa8" fill-opacity="0.72"/>
<circle cx="303.58" cy="227.45" r="1.55" fill="#f05a32" fill-opacity="0.72"/>
<circle cx="339.31" cy="219.84" r="1.55" fill="#f05a32" fill-opacity="0.72"/>
<circle cx="366.22" cy="228.63" r="1.55" fill="#5cc4c0" fill-opacity="0.72"/>
<circle cx="361.80" cy="198.14" r="1.55" fill="#f05a32" fill-opacity="0.72"/>
<circle cx="305.04" cy="223.64" r="1.55" fill="#f05a32" fill-opacity="0.72"/>
<circle cx="359.35" cy="205.92" r="1.55" fill="#f05a32" fill-opacity="0.72"/>
<circle cx="317.40" cy="214.23" r="1.55" fill="#f05a32" fill-opacity="0.72"/>
<circle cx="366.54" cy="199.56" r="1.55" fill="#5cc4c0" fill-opacity="0.72"/>
<circle cx="359.18" cy="206.74" r="1.55" fill="#f05a32" fill-opacity="0.72"/>
<circle cx="380.20" cy="228.31" r="1.55" fill="#8a4fa8" fill-opacity="0.72"/>
<circle cx="373.99" cy="249.31" r="1.55" fill="#8a4fa8" fill-opacity="0.72"/>
<circle cx="314.30" cy="211.70" r="1.55" fill="#f05a32" fill-opacity="0.72"/>
<circle cx="311.90" cy="217.21" r="1.55" fill="#f05a32" fill-opacity="0.72"/>
<circle cx="369.35" cy="236.54" r="1.55" fill="#5cc4c0" fill-opacity="0.72"/>
<circle cx="379.45" cy="221.22" r="1.55" fill="#f05a32" fill-opacity="0.72"/>
<circle cx="318.60" cy="212.88" r="1.55" fill="#f05a32" fill-opacity="0.72"/>
<circle cx="366.76" cy="184.66" r="1.55" fill="#f05a32" fill-opacity="0.72"/>
<circle cx="366.27" cy="232.16" r="1.55" fill="#5cc4c0" fill-opacity="0.72"/>
<circle cx="313.18" cy="215.81" r="1.55" fill="#f05a32" fill-opacity="0.72"/>
<circle cx="315.72" cy="218.54" r="1.55" fill="#f05a32" fill-opacity="0.72"/>
<circle cx="304.98" cy="224.75" r="1.55" fill="#f05a32" fill-opacity="0.72"/>
<circle cx="309.40" cy="239.17" r="1.55" fill="#f05a32" fill-opacity="0.72"/>
<circle cx="366.42" cy="237.42" r="1.55" fill="#5cc4c0" fill-opacity="0.72"/>
<circle cx="374.41" cy="251.49" r="1.55" fill="#8a4fa8" fill-opacity="0.72"/>
<circle cx="353.53" cy="234.89" r="1.55" fill="#5cc4c0" fill-opacity="0.72"/>
<circle cx="371.80" cy="241.67" r="1.55" fill="#5cc4c0" fill-opacity="0.72"/>
<circle cx="322.19" cy="244.62" r="1.55" fill="#f05a32" fill-opacity="0.72"/>
<circle cx="355.83" cy="240.59" r="1.55" fill="#5cc4c0" fill-opacity="0.72"/>
<circle cx="368.73" cy="241.38" r="1.55" fill="#5cc4c0" fill-opacity="0.72"/>
<circle cx="362.39" cy="196.14" r="1.55" fill="#f05a32" fill-opacity="0.72"/>
<circle cx="311.17" cy="218.08" r="1.55" fill="#f05a32" fill-opacity="0.72"/>
<circle cx="361.85" cy="202.34" r="1.55" fill="#f05a32" fill-opacity="0.72"/>
<circle cx="309.95" cy="221.15" r="1.55" fill="#f05a32" fill-opacity="0.72"/>
<circle cx="354.78" cy="228.38" r="1.55" fill="#5cc4c0" fill-opacity="0.72"/>
<circle cx="323.33" cy="222.15" r="1.55" fill="#5cc4c0" fill-opacity="0.72"/>
<circle cx="368.10" cy="236.29" r="1.55" fill="#5cc4c0" fill-opacity="0.72"/>
<circle cx="370.09" cy="241.66" r="1.55" fill="#f05a32" fill-opacity="0.72"/>
<circle cx="364.23" cy="192.61" r="1.55" fill="#f05a32" fill-opacity="0.72"/>
<circle cx="367.50" cy="182.27" r="1.55" fill="#f05a32" fill-opacity="0.72"/>
<circle cx="302.60" cy="225.17" r="1.55" fill="#f05a32" fill-opacity="0.72"/>
<circle cx="376.16" cy="219.21" r="1.55" fill="#f05a32" fill-opacity="0.72"/>
<circle cx="310.54" cy="219.23" r="1.55" fill="#f05a32" fill-opacity="0.72"/>
<circle cx="360.78" cy="201.15" r="1.55" fill="#5cc4c0" fill-opacity="0.72"/>
<circle cx="307.89" cy="221.27" r="1.55" fill="#f05a32" fill-opacity="0.72"/>
<circle cx="368.54" cy="242.00" r="1.55" fill="#5cc4c0" fill-opacity="0.72"/>
<circle cx="367.22" cy="191.18" r="1.55" fill="#f05a32" fill-opacity="0.72"/>
<circle cx="368.15" cy="234.35" r="1.55" fill="#5cc4c0" fill-opacity="0.72"/>
<circle cx="334.18" cy="224.83" r="1.55" fill="#5cc4c0" fill-opacity="0.72"/>
<circle cx="357.27" cy="214.75" r="1.55" fill="#f05a32" fill-opacity="0.72"/>
<circle cx="311.01" cy="220.22" r="1.55" fill="#f05a32" fill-opacity="0.72"/>
<circle cx="324.82" cy="211.70" r="1.55" fill="#5cc4c0" fill-opacity="0.72"/>
<circle cx="366.89" cy="189.22" r="1.55" fill="#f05a32" fill-opacity="0.72"/>
<circle cx="313.80" cy="215.43" r="1.55" fill="#f05a32" fill-opacity="0.72"/>
<circle cx="352.32" cy="239.64" r="1.55" fill="#5cc4c0" fill-opacity="0.72"/>
<circle cx="324.38" cy="223.20" r="1.55" fill="#f05a32" fill-opacity="0.72"/>
<circle cx="360.63" cy="199.68" r="1.55" fill="#5cc4c0" fill-opacity="0.72"/>
<circle cx="348.01" cy="240.12" r="1.55" fill="#5cc4c0" fill-opacity="0.72"/>
<circle cx="316.08" cy="217.00" r="1.55" fill="#f05a32" fill-opacity="0.72"/>
<circle cx="363.49" cy="208.81" r="1.55" fill="#5cc4c0" fill-opacity="0.72"/>
<circle cx="338.34" cy="229.90" r="1.55" fill="#5cc4c0" fill-opacity="0.72"/>
<circle cx="369.20" cy="232.76" r="1.55" fill="#5cc4c0" fill-opacity="0.72"/>
<circle cx="359.21" cy="208.36" r="1.55" fill="#f05a32" fill-opacity="0.72"/>
<circle cx="309.90" cy="222.54" r="1.55" fill="#f05a32" fill-opacity="0.72"/>
<circle cx="371.68" cy="230.12" r="1.55" fill="#5cc4c0" fill-opacity="0.72"/>
<circle cx="353.21" cy="222.53" r="1.55" fill="#f05a32" fill-opacity="0.72"/>
<circle cx="357.42" cy="210.86" r="1.55" fill="#f05a32" fill-opacity="0.72"/>
<circle cx="363.13" cy="195.87" r="1.55" fill="#f05a32" fill-opacity="0.72"/>
<circle cx="325.35" cy="245.77" r="1.55" fill="#f05a32" fill-opacity="0.72"/>
<circle cx="360.90" cy="199.80" r="1.55" fill="#f05a32" fill-opacity="0.72"/>
<circle cx="371.31" cy="239.03" r="1.55" fill="#f05a32" fill-opacity="0.72"/>
<circle cx="355.63" cy="224.07" r="1.55" fill="#8a4fa8" fill-opacity="0.72"/>
<circle cx="313.90" cy="231.15" r="1.55" fill="#f05a32" fill-opacity="0.72"/>
<circle cx="336.22" cy="214.91" r="1.55" fill="#f05a32" fill-opacity="0.72"/>
<circle cx="328.19" cy="236.92" r="1.55" fill="#f05a32" fill-opacity="0.72"/>
<circle cx="367.51" cy="223.12" r="1.55" fill="#8a4fa8" fill-opacity="0.72"/>
<circle cx="341.29" cy="221.23" r="1.55" fill="#f05a32" fill-opacity="0.72"/>
<circle cx="359.02" cy="210.72" r="1.55" fill="#5cc4c0" fill-opacity="0.72"/>
<circle cx="332.60" cy="220.75" r="1.55" fill="#f05a32" fill-opacity="0.72"/>
<circle cx="366.13" cy="202.01" r="1.55" fill="#5cc4c0" fill-opacity="0.72"/>
<circle cx="319.17" cy="208.72" r="1.55" fill="#5cc4c0" fill-opacity="0.72"/>
<circle cx="373.05" cy="236.60" r="1.55" fill="#5cc4c0" fill-opacity="0.72"/>
<circle cx="378.62" cy="253.53" r="1.55" fill="#8a4fa8" fill-opacity="0.72"/>
<circle cx="356.05" cy="213.87" r="1.55" fill="#f05a32" fill-opacity="0.72"/>
<circle cx="361.69" cy="202.15" r="1.55" fill="#f05a32" fill-opacity="0.72"/>
<circle cx="303.55" cy="225.89" r="1.55" fill="#f05a32" fill-opacity="0.72"/>
<circle cx="320.06" cy="244.85" r="1.55" fill="#f05a32" fill-opacity="0.72"/>
<circle cx="347.58" cy="233.60" r="1.55" fill="#f05a32" fill-opacity="0.72"/>
<circle cx="316.27" cy="213.95" r="1.55" fill="#f05a32" fill-opacity="0.72"/>
<circle cx="368.64" cy="239.41" r="1.55" fill="#5cc4c0" fill-opacity="0.72"/>
<circle cx="355.17" cy="231.06" r="1.55" fill="#8a4fa8" fill-opacity="0.72"/>
<circle cx="320.99" cy="230.47" r="1.55" fill="#f05a32" fill-opacity="0.72"/>
<circle cx="360.58" cy="200.89" r="1.55" fill="#f05a32" fill-opacity="0.72"/>
<circle cx="310.21" cy="218.26" r="1.55" fill="#f05a32" fill-opacity="0.72"/>
<circle cx="341.36" cy="211.53" r="1.55" fill="#f05a32" fill-opacity="0.72"/>
<circle cx="355.57" cy="213.72" r="1.55" fill="#f05a32" fill-opacity="0.72"/>
<circle cx="375.85" cy="254.09" r="1.55" fill="#5cc4c0" fill-opacity="0.72"/>
<circle cx="374.37" cy="219.06" r="1.55" fill="#5cc4c0" fill-opacity="0.72"/>
<circle cx="367.68" cy="182.57" r="1.55" fill="#f05a32" fill-opacity="0.72"/>
<circle cx="366.25" cy="185.29" r="1.55" fill="#5cc4c0" fill-opacity="0.72"/>
<circle cx="365.63" cy="191.10" r="1.55" fill="#8a4fa8" fill-opacity="0.72"/>
<circle cx="370.06" cy="209.60" r="1.55" fill="#f05a32" fill-opacity="0.72"/>
<circle cx="371.79" cy="242.95" r="1.55" fill="#8a4fa8" fill-opacity="0.72"/>
<circle cx="326.89" cy="240.15" r="1.55" fill="#5cc4c0" fill-opacity="0.72"/>
<circle cx="380.07" cy="216.03" r="1.55" fill="#f05a32" fill-opacity="0.72"/>
<circle cx="375.51" cy="250.48" r="1.55" fill="#5cc4c0" fill-opacity="0.72"/>
<circle cx="309.92" cy="219.67" r="1.55" fill="#f05a32" fill-opacity="0.72"/>
<circle cx="321.44" cy="213.93" r="1.55" fill="#f05a32" fill-opacity="0.72"/>
<circle cx="369.35" cy="228.76" r="1.55" fill="#8a4fa8" fill-opacity="0.72"/>
<circle cx="320.68" cy="231.45" r="1.55" fill="#8a4fa8" fill-opacity="0.72"/>
<circle cx="363.86" cy="197.81" r="1.55" fill="#f05a32" fill-opacity="0.72"/>
<circle cx="365.50" cy="230.78" r="1.55" fill="#8a4fa8" fill-opacity="0.72"/>
<circle cx="367.94" cy="192.61" r="1.55" fill="#f05a32" fill-opacity="0.72"/>
<circle cx="330.68" cy="222.69" r="1.55" fill="#f05a32" fill-opacity="0.72"/>
<circle cx="313.63" cy="217.82" r="1.55" fill="#f05a32" fill-opacity="0.72"/>
<circle cx="369.60" cy="233.22" r="1.55" fill="#5cc4c0" fill-opacity="0.72"/>
<circle cx="365.61" cy="190.37" r="1.55" fill="#f05a32" fill-opacity="0.72"/>
<circle cx="337.45" cy="210.52" r="1.55" fill="#f05a32" fill-opacity="0.72"/>
<circle cx="351.38" cy="221.13" r="1.55" fill="#5cc4c0" fill-opacity="0.72"/>
<circle cx="369.17" cy="245.63" r="1.55" fill="#5cc4c0" fill-opacity="0.72"/>
<circle cx="340.76" cy="212.17" r="1.55" fill="#f05a32" fill-opacity="0.72"/>
<circle cx="367.39" cy="228.87" r="1.55" fill="#8a4fa8" fill-opacity="0.72"/>
<circle cx="324.69" cy="211.38" r="1.55" fill="#8a4fa8" fill-opacity="0.72"/>
<circle cx="374.97" cy="239.45" r="1.55" fill="#f05a32" fill-opacity="0.72"/>
<circle cx="356.41" cy="218.06" r="1.55" fill="#f05a32" fill-opacity="0.72"/>
<circle cx="312.31" cy="217.17" r="1.55" fill="#f05a32" fill-opacity="0.72"/>
<circle cx="370.76" cy="248.94" r="1.55" fill="#5cc4c0" fill-opacity="0.72"/>
<circle cx="332.71" cy="238.04" r="1.55" fill="#f05a32" fill-opacity="0.72"/>
<circle cx="366.85" cy="194.00" r="1.55" fill="#5cc4c0" fill-opacity="0.72"/>
<circle cx="371.09" cy="250.10" r="1.55" fill="#5cc4c0" fill-opacity="0.72"/>
<circle cx="307.39" cy="226.98" r="1.55" fill="#f05a32" fill-opacity="0.72"/>
<circle cx="370.68" cy="181.68" r="1.55" fill="#f05a32" fill-opacity="0.72"/>
<circle cx="371.20" cy="182.03" r="1.55" fill="#f05a32" fill-opacity="0.72"/>
<circle cx="352.91" cy="243.16" r="1.55" fill="#8a4fa8" fill-opacity="0.72"/>
<circle cx="306.60" cy="228.05" r="1.55" fill="#f05a32" fill-opacity="0.72"/>
<circle cx="309.94" cy="221.52" r="1.55" fill="#f05a32" fill-opacity="0.72"/>
<circle cx="368.19" cy="239.31" r="1.55" fill="#5cc4c0" fill-opacity="0.72"/>
<circle cx="306.01" cy="224.09" r="1.55" fill="#f05a32" fill-opacity="0.72"/>
<circle cx="364.49" cy="198.93" r="1.55" fill="#5cc4c0" fill-opacity="0.72"/>
<circle cx="369.36" cy="228.29" r="1.55" fill="#f05a32" fill-opacity="0.72"/>
<circle cx="357.06" cy="208.21" r="1.55" fill="#f05a32" fill-opacity="0.72"/>
<circle cx="370.55" cy="243.72" r="1.55" fill="#5cc4c0" fill-opacity="0.72"/>
<circle cx="378.73" cy="220.30" r="1.55" fill="#f05a32" fill-opacity="0.72"/>
<circle cx="320.07" cy="210.20" r="1.55" fill="#f05a32" fill-opacity="0.72"/>
<circle cx="368.47" cy="243.86" r="1.55" fill="#5cc4c0" fill-opacity="0.72"/>
<circle cx="367.37" cy="229.85" r="1.55" fill="#8a4fa8" fill-opacity="0.72"/>
<circle cx="356.44" cy="209.99" r="1.55" fill="#f05a32" fill-opacity="0.72"/>
<circle cx="335.88" cy="208.71" r="1.55" fill="#5cc4c0" fill-opacity="0.72"/>
<circle cx="337.63" cy="207.86" r="1.55" fill="#8a4fa8" fill-opacity="0.72"/>
<circle cx="379.76" cy="216.01" r="1.55" fill="#5cc4c0" fill-opacity="0.72"/>
<circle cx="313.09" cy="234.37" r="1.55" fill="#5cc4c0" fill-opacity="0.72"/>
<circle cx="348.65" cy="218.98" r="1.55" fill="#f05a32" fill-opacity="0.72"/>
<circle cx="352.47" cy="214.66" r="1.55" fill="#5cc4c0" fill-opacity="0.72"/>
<circle cx="366.04" cy="232.45" r="1.55" fill="#5cc4c0" fill-opacity="0.72"/>
<circle cx="365.45" cy="194.71" r="1.55" fill="#f05a32" fill-opacity="0.72"/>
<circle cx="371.69" cy="234.51" r="1.55" fill="#f05a32" fill-opacity="0.72"/>
<circle cx="321.46" cy="233.83" r="1.55" fill="#f05a32" fill-opacity="0.72"/>
<circle cx="336.26" cy="208.36" r="1.55" fill="#f05a32" fill-opacity="0.72"/>
<circle cx="376.01" cy="239.29" r="1.55" fill="#5cc4c0" fill-opacity="0.72"/>
<circle cx="310.17" cy="233.76" r="1.55" fill="#5cc4c0" fill-opacity="0.72"/>
<circle cx="367.25" cy="229.43" r="1.55" fill="#5cc4c0" fill-opacity="0.72"/>
<circle cx="368.35" cy="242.37" r="1.55" fill="#5cc4c0" fill-opacity="0.72"/>
<circle cx="359.25" cy="202.69" r="1.55" fill="#f05a32" fill-opacity="0.72"/>
<circle cx="346.55" cy="220.12" r="1.55" fill="#5cc4c0" fill-opacity="0.72"/>
<circle cx="370.79" cy="242.95" r="1.55" fill="#8a4fa8" fill-opacity="0.72"/>
<circle cx="361.29" cy="195.40" r="1.55" fill="#f05a32" fill-opacity="0.72"/>
<circle cx="364.59" cy="193.15" r="1.55" fill="#f05a32" fill-opacity="0.72"/>
<circle cx="367.27" cy="231.57" r="1.55" fill="#8a4fa8" fill-opacity="0.72"/>
<circle cx="363.31" cy="231.36" r="1.55" fill="#5cc4c0" fill-opacity="0.72"/>
<circle cx="319.86" cy="245.06" r="1.55" fill="#f05a32" fill-opacity="0.72"/>
<circle cx="351.38" cy="217.42" r="1.55" fill="#5cc4c0" fill-opacity="0.72"/>
<circle cx="356.51" cy="210.62" r="1.55" fill="#f05a32" fill-opacity="0.72"/>
<circle cx="376.23" cy="254.86" r="1.55" fill="#5cc4c0" fill-opacity="0.72"/>
<circle cx="317.47" cy="209.33" r="1.55" fill="#f05a32" fill-opacity="0.72"/>
<circle cx="302.67" cy="225.91" r="1.55" fill="#5cc4c0" fill-opacity="0.72"/>
<circle cx="303.72" cy="224.90" r="1.55" fill="#f05a32" fill-opacity="0.72"/>
<circle cx="332.44" cy="208.52" r="1.55" fill="#f05a32" fill-opacity="0.72"/>
<circle cx="374.14" cy="242.37" r="1.55" fill="#f05a32" fill-opacity="0.72"/>
<circle cx="360.95" cy="200.91" r="1.55" fill="#f05a32" fill-opacity="0.72"/>
<circle cx="358.09" cy="204.75" r="1.55" fill="#f05a32" fill-opacity="0.72"/>
<circle cx="379.32" cy="255.15" r="1.55" fill="#8a4fa8" fill-opacity="0.72"/>
<circle cx="369.08" cy="241.71" r="1.55" fill="#f05a32" fill-opacity="0.72"/>
<circle cx="379.02" cy="226.95" r="1.55" fill="#f05a32" fill-opacity="0.72"/>
<circle cx="366.07" cy="193.84" r="1.55" fill="#f05a32" fill-opacity="0.72"/>
<circle cx="371.71" cy="244.79" r="1.55" fill="#5cc4c0" fill-opacity="0.72"/>
<circle cx="375.97" cy="247.52" r="1.55" fill="#5cc4c0" fill-opacity="0.72"/>
<circle cx="372.69" cy="251.14" r="1.55" fill="#8a4fa8" fill-opacity="0.72"/>
<circle cx="375.67" cy="247.10" r="1.55" fill="#f05a32" fill-opacity="0.72"/>
<circle cx="322.83" cy="245.56" r="1.55" fill="#f05a32" fill-opacity="0.72"/>
<circle cx="368.05" cy="180.14" r="1.55" fill="#f05a32" fill-opacity="0.72"/>
<circle cx="352.38" cy="216.34" r="1.55" fill="#5cc4c0" fill-opacity="0.72"/>
<circle cx="370.86" cy="228.03" r="1.55" fill="#5cc4c0" fill-opacity="0.72"/>
<circle cx="367.44" cy="206.35" r="1.55" fill="#f05a32" fill-opacity="0.72"/>
<circle cx="356.62" cy="224.81" r="1.55" fill="#f05a32" fill-opacity="0.72"/>
<circle cx="363.86" cy="226.65" r="1.55" fill="#5cc4c0" fill-opacity="0.72"/>
<circle cx="366.26" cy="227.61" r="1.55" fill="#f05a32" fill-opacity="0.72"/>
<circle cx="379.44" cy="232.91" r="1.55" fill="#5cc4c0" fill-opacity="0.72"/>
<circle cx="318.73" cy="213.26" r="1.55" fill="#f05a32" fill-opacity="0.72"/>
<circle cx="350.09" cy="212.79" r="1.55" fill="#5cc4c0" fill-opacity="0.72"/>
<circle cx="369.14" cy="208.48" r="1.55" fill="#f05a32" fill-opacity="0.72"/>
<circle cx="379.82" cy="251.80" r="1.55" fill="#5cc4c0" fill-opacity="0.72"/>
<circle cx="353.38" cy="234.06" r="1.55" fill="#5cc4c0" fill-opacity="0.72"/>
<circle cx="346.68" cy="246.32" r="1.55" fill="#f05a32" fill-opacity="0.72"/>
<circle cx="311.51" cy="218.05" r="1.55" fill="#f05a32" fill-opacity="0.72"/>
<circle cx="361.06" cy="212.71" r="1.55" fill="#f05a32" fill-opacity="0.72"/>
<circle cx="372.82" cy="241.95" r="1.55" fill="#5cc4c0" fill-opacity="0.72"/>
<circle cx="311.06" cy="220.28" r="1.55" fill="#f05a32" fill-opacity="0.72"/>
<circle cx="359.70" cy="200.11" r="1.55" fill="#5cc4c0" fill-opacity="0.72"/>
<circle cx="371.85" cy="239.36" r="1.55" fill="#5cc4c0" fill-opacity="0.72"/>
<circle cx="370.68" cy="244.67" r="1.55" fill="#5cc4c0" fill-opacity="0.72"/>
<circle cx="364.52" cy="199.59" r="1.55" fill="#f05a32" fill-opacity="0.72"/>
<circle cx="368.31" cy="236.95" r="1.55" fill="#8a4fa8" fill-opacity="0.72"/>
<circle cx="365.37" cy="236.69" r="1.55" fill="#8a4fa8" fill-opacity="0.72"/>
<circle cx="369.02" cy="226.68" r="1.55" fill="#f05a32" fill-opacity="0.72"/>
<circle cx="346.74" cy="227.75" r="1.55" fill="#5cc4c0" fill-opacity="0.72"/>
<circle cx="369.30" cy="241.17" r="1.55" fill="#5cc4c0" fill-opacity="0.72"/>
<circle cx="368.20" cy="237.98" r="1.55" fill="#f05a32" fill-opacity="0.72"/>
<circle cx="361.49" cy="195.35" r="1.55" fill="#f05a32" fill-opacity="0.72"/>
<circle cx="375.03" cy="251.04" r="1.55" fill="#5cc4c0" fill-opacity="0.72"/>
<circle cx="377.03" cy="225.94" r="1.55" fill="#8a4fa8" fill-opacity="0.72"/>
<circle cx="366.69" cy="187.36" r="1.55" fill="#f05a32" fill-opacity="0.72"/>
<circle cx="373.04" cy="247.40" r="1.55" fill="#5cc4c0" fill-opacity="0.72"/>
<circle cx="333.82" cy="210.18" r="1.55" fill="#f05a32" fill-opacity="0.72"/>
<circle cx="315.81" cy="213.27" r="1.55" fill="#f05a32" fill-opacity="0.72"/>
<circle cx="368.27" cy="232.97" r="1.55" fill="#5cc4c0" fill-opacity="0.72"/>
<circle cx="329.85" cy="238.87" r="1.55" fill="#f05a32" fill-opacity="0.72"/>
<circle cx="325.70" cy="210.43" r="1.55" fill="#f05a32" fill-opacity="0.72"/>
<circle cx="379.96" cy="253.66" r="1.55" fill="#8a4fa8" fill-opacity="0.72"/>
<circle cx="362.85" cy="241.53" r="1.55" fill="#5cc4c0" fill-opacity="0.72"/>
<circle cx="365.03" cy="245.44" r="1.55" fill="#8a4fa8" fill-opacity="0.72"/>
<circle cx="367.25" cy="186.24" r="1.55" fill="#f05a32" fill-opacity="0.72"/>
<circle cx="366.92" cy="226.38" r="1.55" fill="#5cc4c0" fill-opacity="0.72"/>
<circle cx="352.51" cy="220.57" r="1.55" fill="#f05a32" fill-opacity="0.72"/>
<circle cx="307.98" cy="221.89" r="1.55" fill="#5cc4c0" fill-opacity="0.72"/>
<circle cx="351.35" cy="241.36" r="1.55" fill="#5cc4c0" fill-opacity="0.72"/>
<circle cx="369.95" cy="233.77" r="1.55" fill="#8a4fa8" fill-opacity="0.72"/>
<circle cx="346.28" cy="239.61" r="1.55" fill="#f05a32" fill-opacity="0.72"/>
<circle cx="376.45" cy="246.90" r="1.55" fill="#f05a32" fill-opacity="0.72"/>
<circle cx="302.30" cy="226.03" r="1.55" fill="#f05a32" fill-opacity="0.72"/>
<circle cx="371.97" cy="244.98" r="1.55" fill="#5cc4c0" fill-opacity="0.72"/>
<circle cx="337.48" cy="214.19" r="1.55" fill="#f05a32" fill-opacity="0.72"/>
<circle cx="306.44" cy="224.13" r="1.55" fill="#f05a32" fill-opacity="0.72"/>
<circle cx="306.11" cy="224.16" r="1.55" fill="#f05a32" fill-opacity="0.72"/>
<circle cx="358.87" cy="206.10" r="1.55" fill="#5cc4c0" fill-opacity="0.72"/>
<circle cx="335.59" cy="238.44" r="1.55" fill="#8a4fa8" fill-opacity="0.72"/>
<circle cx="362.78" cy="203.18" r="1.55" fill="#f05a32" fill-opacity="0.72"/>
<circle cx="363.02" cy="241.32" r="1.55" fill="#8a4fa8" fill-opacity="0.72"/>
<circle cx="358.63" cy="210.07" r="1.55" fill="#f05a32" fill-opacity="0.72"/>
<circle cx="319.60" cy="211.19" r="1.55" fill="#f05a32" fill-opacity="0.72"/>
<circle cx="371.82" cy="239.78" r="1.55" fill="#5cc4c0" fill-opacity="0.72"/>
<circle cx="357.83" cy="210.86" r="1.55" fill="#f05a32" fill-opacity="0.72"/>
<circle cx="376.39" cy="250.26" r="1.55" fill="#8a4fa8" fill-opacity="0.72"/>
<circle cx="344.53" cy="211.27" r="1.55" fill="#5cc4c0" fill-opacity="0.72"/>
<circle cx="309.57" cy="221.22" r="1.55" fill="#f05a32" fill-opacity="0.72"/>
<circle cx="356.35" cy="221.29" r="1.55" fill="#f05a32" fill-opacity="0.72"/>
<circle cx="363.42" cy="233.53" r="1.55" fill="#5cc4c0" fill-opacity="0.72"/>
<circle cx="375.95" cy="226.09" r="1.55" fill="#f05a32" fill-opacity="0.72"/>
<circle cx="377.38" cy="247.99" r="1.55" fill="#5cc4c0" fill-opacity="0.72"/>
<circle cx="350.75" cy="221.76" r="1.55" fill="#8a4fa8" fill-opacity="0.72"/>
<circle cx="372.72" cy="236.52" r="1.55" fill="#5cc4c0" fill-opacity="0.72"/>
<circle cx="344.27" cy="217.33" r="1.55" fill="#f05a32" fill-opacity="0.72"/>
<circle cx="374.97" cy="241.60" r="1.55" fill="#8a4fa8" fill-opacity="0.72"/>
<circle cx="332.18" cy="208.42" r="1.55" fill="#f05a32" fill-opacity="0.72"/>
<circle cx="367.95" cy="230.63" r="1.55" fill="#f05a32" fill-opacity="0.72"/>
<circle cx="368.30" cy="186.80" r="1.55" fill="#f05a32" fill-opacity="0.72"/>
<circle cx="309.83" cy="214.44" r="1.55" fill="#f05a32" fill-opacity="0.72"/>
<circle cx="312.87" cy="221.89" r="1.55" fill="#f05a32" fill-opacity="0.72"/>
<circle cx="323.97" cy="245.75" r="1.55" fill="#f05a32" fill-opacity="0.72"/>
<circle cx="321.77" cy="210.20" r="1.55" fill="#f05a32" fill-opacity="0.72"/>
<circle cx="371.66" cy="247.30" r="1.55" fill="#5cc4c0" fill-opacity="0.72"/>
<circle cx="365.48" cy="190.64" r="1.55" fill="#f05a32" fill-opacity="0.72"/>
<circle cx="311.33" cy="222.90" r="1.55" fill="#f05a32" fill-opacity="0.72"/>
<circle cx="318.83" cy="203.80" r="1.55" fill="#f05a32" fill-opacity="0.72"/>
<circle cx="355.37" cy="242.01" r="1.55" fill="#f05a32" fill-opacity="0.72"/>
<circle cx="368.51" cy="235.27" r="1.55" fill="#5cc4c0" fill-opacity="0.72"/>
<circle cx="354.03" cy="245.88" r="1.55" fill="#5cc4c0" fill-opacity="0.72"/>
<circle cx="368.00" cy="240.74" r="1.55" fill="#5cc4c0" fill-opacity="0.72"/>
<circle cx="369.37" cy="240.96" r="1.55" fill="#5cc4c0" fill-opacity="0.72"/>
<circle cx="376.47" cy="249.82" r="1.55" fill="#8a4fa8" fill-opacity="0.72"/>
<circle cx="318.64" cy="210.70" r="1.55" fill="#f05a32" fill-opacity="0.72"/>
<circle cx="365.52" cy="228.42" r="1.55" fill="#f05a32" fill-opacity="0.72"/>
<circle cx="330.34" cy="232.76" r="1.55" fill="#8a4fa8" fill-opacity="0.72"/>
<circle cx="310.31" cy="220.64" r="1.55" fill="#f05a32" fill-opacity="0.72"/>
<circle cx="321.74" cy="216.19" r="1.55" fill="#f05a32" fill-opacity="0.72"/>
<circle cx="308.15" cy="217.21" r="1.55" fill="#f05a32" fill-opacity="0.72"/>
<circle cx="362.21" cy="199.00" r="1.55" fill="#f05a32" fill-opacity="0.72"/>
<circle cx="349.63" cy="234.07" r="1.55" fill="#5cc4c0" fill-opacity="0.72"/>
<circle cx="304.49" cy="222.19" r="1.55" fill="#5cc4c0" fill-opacity="0.72"/>
<circle cx="370.48" cy="239.25" r="1.55" fill="#5cc4c0" fill-opacity="0.72"/>
<circle cx="358.88" cy="210.18" r="1.55" fill="#8a4fa8" fill-opacity="0.72"/>
<circle cx="371.11" cy="246.73" r="1.55" fill="#f05a32" fill-opacity="0.72"/>
<circle cx="371.52" cy="256.61" r="1.55" fill="#5cc4c0" fill-opacity="0.72"/>
<circle cx="334.23" cy="206.95" r="1.55" fill="#5cc4c0" fill-opacity="0.72"/>
<circle cx="326.60" cy="218.21" r="1.55" fill="#f05a32" fill-opacity="0.72"/>
<circle cx="363.58" cy="195.48" r="1.55" fill="#f05a32" fill-opacity="0.72"/>
<circle cx="355.61" cy="242.33" r="1.55" fill="#8a4fa8" fill-opacity="0.72"/>
<circle cx="369.18" cy="237.67" r="1.55" fill="#f05a32" fill-opacity="0.72"/>
<circle cx="328.44" cy="237.88" r="1.55" fill="#5cc4c0" fill-opacity="0.72"/>
<circle cx="356.35" cy="211.10" r="1.55" fill="#5cc4c0" fill-opacity="0.72"/>
<circle cx="369.62" cy="229.59" r="1.55" fill="#5cc4c0" fill-opacity="0.72"/>
<circle cx="369.73" cy="234.31" r="1.55" fill="#f05a32" fill-opacity="0.72"/>
<circle cx="366.84" cy="211.91" r="1.55" fill="#f05a32" fill-opacity="0.72"/>
<circle cx="335.79" cy="230.01" r="1.55" fill="#5cc4c0" fill-opacity="0.72"/>
<circle cx="314.29" cy="238.95" r="1.55" fill="#f05a32" fill-opacity="0.72"/>
<circle cx="363.01" cy="199.17" r="1.55" fill="#f05a32" fill-opacity="0.72"/>
<circle cx="312.96" cy="231.74" r="1.55" fill="#f05a32" fill-opacity="0.72"/>
<circle cx="381.33" cy="242.73" r="1.55" fill="#f05a32" fill-opacity="0.72"/>
<circle cx="364.46" cy="226.63" r="1.55" fill="#5cc4c0" fill-opacity="0.72"/>
<circle cx="311.84" cy="217.92" r="1.55" fill="#f05a32" fill-opacity="0.72"/>
<circle cx="357.55" cy="211.44" r="1.55" fill="#f05a32" fill-opacity="0.72"/>
<circle cx="310.62" cy="221.92" r="1.55" fill="#f05a32" fill-opacity="0.72"/>
<circle cx="367.87" cy="206.79" r="1.55" fill="#f05a32" fill-opacity="0.72"/>
<circle cx="369.58" cy="187.25" r="1.55" fill="#f05a32" fill-opacity="0.72"/>
<circle cx="311.84" cy="219.50" r="1.55" fill="#f05a32" fill-opacity="0.72"/>
<circle cx="323.87" cy="207.93" r="1.55" fill="#f05a32" fill-opacity="0.72"/>
<circle cx="342.62" cy="209.41" r="1.55" fill="#f05a32" fill-opacity="0.72"/>
<circle cx="358.81" cy="207.00" r="1.55" fill="#f05a32" fill-opacity="0.72"/>
<circle cx="330.78" cy="213.34" r="1.55" fill="#5cc4c0" fill-opacity="0.72"/>
<circle cx="359.24" cy="206.88" r="1.55" fill="#f05a32" fill-opacity="0.72"/>
<circle cx="366.15" cy="190.46" r="1.55" fill="#f05a32" fill-opacity="0.72"/>
<circle cx="380.82" cy="226.86" r="1.55" fill="#5cc4c0" fill-opacity="0.72"/>
<circle cx="362.71" cy="193.74" r="1.55" fill="#f05a32" fill-opacity="0.72"/>
<circle cx="335.23" cy="213.88" r="1.55" fill="#f05a32" fill-opacity="0.72"/>
<circle cx="306.29" cy="220.00" r="1.55" fill="#f05a32" fill-opacity="0.72"/>
<circle cx="372.53" cy="246.75" r="1.55" fill="#5cc4c0" fill-opacity="0.72"/>
<circle cx="321.13" cy="246.60" r="1.55" fill="#5cc4c0" fill-opacity="0.72"/>
<circle cx="318.02" cy="211.83" r="1.55" fill="#f05a32" fill-opacity="0.72"/>
<circle cx="367.87" cy="187.33" r="1.55" fill="#f05a32" fill-opacity="0.72"/>
<circle cx="369.12" cy="242.42" r="1.55" fill="#5cc4c0" fill-opacity="0.72"/>
<circle cx="313.13" cy="217.45" r="1.55" fill="#8a4fa8" fill-opacity="0.72"/>
<circle cx="368.06" cy="241.08" r="1.55" fill="#5cc4c0" fill-opacity="0.72"/>
<circle cx="365.71" cy="244.75" r="1.55" fill="#5cc4c0" fill-opacity="0.72"/>
<circle cx="325.09" cy="208.92" r="1.55" fill="#5cc4c0" fill-opacity="0.72"/>
<circle cx="308.65" cy="219.82" r="1.55" fill="#5cc4c0" fill-opacity="0.72"/>
<circle cx="305.14" cy="226.46" r="1.55" fill="#f05a32" fill-opacity="0.72"/>
<circle cx="359.43" cy="202.13" r="1.55" fill="#5cc4c0" fill-opacity="0.72"/>
<circle cx="368.51" cy="198.99" r="1.55" fill="#f05a32" fill-opacity="0.72"/>
<circle cx="361.22" cy="202.51" r="1.55" fill="#f05a32" fill-opacity="0.72"/>
<circle cx="370.63" cy="246.92" r="1.55" fill="#5cc4c0" fill-opacity="0.72"/>
<circle cx="375.42" cy="234.14" r="1.55" fill="#8a4fa8" fill-opacity="0.72"/>
<circle cx="377.73" cy="252.81" r="1.55" fill="#5cc4c0" fill-opacity="0.72"/>
<circle cx="355.38" cy="232.20" r="1.55" fill="#f05a32" fill-opacity="0.72"/>
<circle cx="364.61" cy="208.23" r="1.55" fill="#5cc4c0" fill-opacity="0.72"/>
<circle cx="377.49" cy="251.07" r="1.55" fill="#8a4fa8" fill-opacity="0.72"/>
<circle cx="360.92" cy="203.08" r="1.55" fill="#f05a32" fill-opacity="0.72"/>
<circle cx="372.40" cy="246.56" r="1.55" fill="#5cc4c0" fill-opacity="0.72"/>
<circle cx="315.87" cy="218.10" r="1.55" fill="#f05a32" fill-opacity="0.72"/>
<circle cx="372.04" cy="252.03" r="1.55" fill="#5cc4c0" fill-opacity="0.72"/>
<circle cx="319.82" cy="211.98" r="1.55" fill="#f05a32" fill-opacity="0.72"/>
<circle cx="308.11" cy="225.66" r="1.55" fill="#f05a32" fill-opacity="0.72"/>
<circle cx="374.30" cy="242.13" r="1.55" fill="#5cc4c0" fill-opacity="0.72"/>
<circle cx="310.50" cy="221.94" r="1.55" fill="#f05a32" fill-opacity="0.72"/>
<circle cx="360.32" cy="205.23" r="1.55" fill="#f05a32" fill-opacity="0.72"/>
<circle cx="371.88" cy="243.06" r="1.55" fill="#5cc4c0" fill-opacity="0.72"/>
<circle cx="310.99" cy="219.31" r="1.55" fill="#5cc4c0" fill-opacity="0.72"/>
<circle cx="360.30" cy="204.17" r="1.55" fill="#8a4fa8" fill-opacity="0.72"/>
<circle cx="303.09" cy="226.19" r="1.55" fill="#5cc4c0" fill-opacity="0.72"/>
<circle cx="373.88" cy="235.93" r="1.55" fill="#f05a32" fill-opacity="0.72"/>
<circle cx="368.42" cy="237.41" r="1.55" fill="#5cc4c0" fill-opacity="0.72"/>
<circle cx="368.74" cy="233.62" r="1.55" fill="#5cc4c0" fill-opacity="0.72"/>
<circle cx="368.98" cy="226.65" r="1.55" fill="#5cc4c0" fill-opacity="0.72"/>
<circle cx="365.94" cy="237.28" r="1.55" fill="#5cc4c0" fill-opacity="0.72"/>
<circle cx="361.03" cy="231.97" r="1.55" fill="#5cc4c0" fill-opacity="0.72"/>
<circle cx="361.37" cy="201.44" r="1.55" fill="#f05a32" fill-opacity="0.72"/>
<circle cx="366.19" cy="229.62" r="1.55" fill="#f05a32" fill-opacity="0.72"/>
<circle cx="373.21" cy="250.62" r="1.55" fill="#5cc4c0" fill-opacity="0.72"/>
<circle cx="307.94" cy="222.06" r="1.55" fill="#f05a32" fill-opacity="0.72"/>
<circle cx="365.45" cy="230.82" r="1.55" fill="#f05a32" fill-opacity="0.72"/>
<circle cx="370.81" cy="243.27" r="1.55" fill="#5cc4c0" fill-opacity="0.72"/>
<circle cx="373.47" cy="253.89" r="1.55" fill="#8a4fa8" fill-opacity="0.72"/>
<circle cx="364.54" cy="193.44" r="1.55" fill="#f05a32" fill-opacity="0.72"/>
<circle cx="365.30" cy="227.92" r="1.55" fill="#5cc4c0" fill-opacity="0.72"/>
<circle cx="377.62" cy="254.51" r="1.55" fill="#8a4fa8" fill-opacity="0.72"/>
<circle cx="357.01" cy="215.43" r="1.55" fill="#f05a32" fill-opacity="0.72"/>
<circle cx="314.79" cy="216.28" r="1.55" fill="#f05a32" fill-opacity="0.72"/>
<circle cx="369.84" cy="240.96" r="1.55" fill="#5cc4c0" fill-opacity="0.72"/>
<circle cx="353.59" cy="240.01" r="1.55" fill="#5cc4c0" fill-opacity="0.72"/>
<circle cx="356.68" cy="211.00" r="1.55" fill="#f05a32" fill-opacity="0.72"/>
<circle cx="363.88" cy="245.57" r="1.55" fill="#f05a32" fill-opacity="0.72"/>
<circle cx="368.56" cy="232.47" r="1.55" fill="#5cc4c0" fill-opacity="0.72"/>
<circle cx="311.93" cy="218.13" r="1.55" fill="#f05a32" fill-opacity="0.72"/>
<circle cx="366.77" cy="186.99" r="1.55" fill="#f05a32" fill-opacity="0.72"/>
<circle cx="349.87" cy="219.89" r="1.55" fill="#f05a32" fill-opacity="0.72"/>
<circle cx="315.50" cy="211.67" r="1.55" fill="#f05a32" fill-opacity="0.72"/>
<circle cx="356.10" cy="212.13" r="1.55" fill="#5cc4c0" fill-opacity="0.72"/>
<circle cx="365.78" cy="234.87" r="1.55" fill="#5cc4c0" fill-opacity="0.72"/>
<circle cx="368.22" cy="185.05" r="1.55" fill="#f05a32" fill-opacity="0.72"/>
<circle cx="314.14" cy="214.55" r="1.55" fill="#f05a32" fill-opacity="0.72"/>
<circle cx="373.20" cy="253.51" r="1.55" fill="#8a4fa8" fill-opacity="0.72"/>
<circle cx="361.64" cy="199.40" r="1.55" fill="#f05a32" fill-opacity="0.72"/>
<circle cx="364.49" cy="194.77" r="1.55" fill="#f05a32" fill-opacity="0.72"/>
<circle cx="368.68" cy="239.66" r="1.55" fill="#5cc4c0" fill-opacity="0.72"/>
<circle cx="305.87" cy="224.43" r="1.55" fill="#f05a32" fill-opacity="0.72"/>
<circle cx="363.32" cy="199.60" r="1.55" fill="#f05a32" fill-opacity="0.72"/>
<circle cx="370.17" cy="236.31" r="1.55" fill="#5cc4c0" fill-opacity="0.72"/>
<circle cx="349.44" cy="241.66" r="1.55" fill="#5cc4c0" fill-opacity="0.72"/>
<circle cx="348.34" cy="234.59" r="1.55" fill="#5cc4c0" fill-opacity="0.72"/>
<circle cx="378.01" cy="252.36" r="1.55" fill="#5cc4c0" fill-opacity="0.72"/>
<circle cx="335.64" cy="211.13" r="1.55" fill="#5cc4c0" fill-opacity="0.72"/>
<circle cx="365.29" cy="229.94" r="1.55" fill="#5cc4c0" fill-opacity="0.72"/>
<circle cx="340.65" cy="230.14" r="1.55" fill="#5cc4c0" fill-opacity="0.72"/>
<circle cx="373.68" cy="236.29" r="1.55" fill="#8a4fa8" fill-opacity="0.72"/>
<circle cx="362.15" cy="201.73" r="1.55" fill="#f05a32" fill-opacity="0.72"/>
<circle cx="330.45" cy="215.08" r="1.55" fill="#5cc4c0" fill-opacity="0.72"/>
<circle cx="347.70" cy="220.01" r="1.55" fill="#5cc4c0" fill-opacity="0.72"/>
<circle cx="315.62" cy="214.78" r="1.55" fill="#f05a32" fill-opacity="0.72"/>
<circle cx="355.48" cy="213.97" r="1.55" fill="#8a4fa8" fill-opacity="0.72"/>
<circle cx="360.66" cy="205.61" r="1.55" fill="#f05a32" fill-opacity="0.72"/>
<circle cx="365.58" cy="188.79" r="1.55" fill="#f05a32" fill-opacity="0.72"/>
<circle cx="373.54" cy="245.77" r="1.55" fill="#5cc4c0" fill-opacity="0.72"/>
<circle cx="368.18" cy="184.26" r="1.55" fill="#f05a32" fill-opacity="0.72"/>
<circle cx="314.40" cy="214.24" r="1.55" fill="#8a4fa8" fill-opacity="0.72"/>
<circle cx="340.62" cy="208.29" r="1.55" fill="#5cc4c0" fill-opacity="0.72"/>
<circle cx="310.75" cy="239.06" r="1.55" fill="#f05a32" fill-opacity="0.72"/>
<circle cx="341.04" cy="216.50" r="1.55" fill="#5cc4c0" fill-opacity="0.72"/>
<circle cx="321.41" cy="211.97" r="1.55" fill="#8a4fa8" fill-opacity="0.72"/>
<circle cx="360.86" cy="243.67" r="1.55" fill="#5cc4c0" fill-opacity="0.72"/>
<circle cx="372.32" cy="236.79" r="1.55" fill="#5cc4c0" fill-opacity="0.72"/>
<circle cx="371.86" cy="250.44" r="1.55" fill="#8a4fa8" fill-opacity="0.72"/>
<circle cx="369.21" cy="231.97" r="1.55" fill="#f05a32" fill-opacity="0.72"/>
<circle cx="354.98" cy="208.76" r="1.55" fill="#f05a32" fill-opacity="0.72"/>
<circle cx="371.08" cy="243.08" r="1.55" fill="#5cc4c0" fill-opacity="0.72"/>
<circle cx="338.35" cy="210.74" r="1.55" fill="#5cc4c0" fill-opacity="0.72"/>
<circle cx="366.75" cy="228.30" r="1.55" fill="#8a4fa8" fill-opacity="0.72"/>
<circle cx="357.30" cy="208.41" r="1.55" fill="#f05a32" fill-opacity="0.72"/>
<circle cx="367.90" cy="229.31" r="1.55" fill="#f05a32" fill-opacity="0.72"/>
<circle cx="368.03" cy="237.83" r="1.55" fill="#5cc4c0" fill-opacity="0.72"/>
<circle cx="374.93" cy="251.36" r="1.55" fill="#5cc4c0" fill-opacity="0.72"/>
<circle cx="378.05" cy="251.21" r="1.55" fill="#f05a32" fill-opacity="0.72"/>
<circle cx="313.72" cy="214.14" r="1.55" fill="#f05a32" fill-opacity="0.72"/>
<circle cx="366.14" cy="233.92" r="1.55" fill="#8a4fa8" fill-opacity="0.72"/>
<circle cx="370.56" cy="235.53" r="1.55" fill="#8a4fa8" fill-opacity="0.72"/>
<circle cx="305.50" cy="227.31" r="1.55" fill="#f05a32" fill-opacity="0.72"/>
<circle cx="359.10" cy="213.10" r="1.55" fill="#f05a32" fill-opacity="0.72"/>
<circle cx="369.08" cy="182.42" r="1.55" fill="#f05a32" fill-opacity="0.72"/>
<circle cx="356.31" cy="210.09" r="1.55" fill="#f05a32" fill-opacity="0.72"/>
<circle cx="313.28" cy="221.89" r="1.55" fill="#f05a32" fill-opacity="0.72"/>
<circle cx="357.35" cy="204.55" r="1.55" fill="#f05a32" fill-opacity="0.72"/>
<circle cx="348.20" cy="245.55" r="1.55" fill="#f05a32" fill-opacity="0.72"/>
<circle cx="358.06" cy="207.10" r="1.55" fill="#f05a32" fill-opacity="0.72"/>
<circle cx="374.80" cy="229.21" r="1.55" fill="#5cc4c0" fill-opacity="0.72"/>
<circle cx="363.80" cy="196.68" r="1.55" fill="#f05a32" fill-opacity="0.72"/>
<circle cx="377.11" cy="254.47" r="1.55" fill="#8a4fa8" fill-opacity="0.72"/>
<circle cx="372.51" cy="249.65" r="1.55" fill="#8a4fa8" fill-opacity="0.72"/>
<circle cx="369.57" cy="196.05" r="1.55" fill="#f05a32" fill-opacity="0.72"/>
<circle cx="369.02" cy="232.17" r="1.55" fill="#5cc4c0" fill-opacity="0.72"/>
<circle cx="339.10" cy="214.23" r="1.55" fill="#f05a32" fill-opacity="0.72"/>
<circle cx="370.40" cy="184.90" r="1.55" fill="#f05a32" fill-opacity="0.72"/>
<circle cx="318.73" cy="211.19" r="1.55" fill="#f05a32" fill-opacity="0.72"/>
<circle cx="308.42" cy="223.63" r="1.55" fill="#f05a32" fill-opacity="0.72"/>
<circle cx="326.03" cy="228.13" r="1.55" fill="#5cc4c0" fill-opacity="0.72"/>
<circle cx="315.55" cy="210.02" r="1.55" fill="#f05a32" fill-opacity="0.72"/>
<circle cx="316.55" cy="212.90" r="1.55" fill="#f05a32" fill-opacity="0.72"/>
<circle cx="368.61" cy="230.99" r="1.55" fill="#5cc4c0" fill-opacity="0.72"/>
<circle cx="373.94" cy="238.35" r="1.55" fill="#5cc4c0" fill-opacity="0.72"/>
<circle cx="310.47" cy="219.84" r="1.55" fill="#f05a32" fill-opacity="0.72"/>
<circle cx="356.79" cy="207.96" r="1.55" fill="#f05a32" fill-opacity="0.72"/>
<circle cx="358.33" cy="212.03" r="1.55" fill="#5cc4c0" fill-opacity="0.72"/>
<circle cx="367.35" cy="233.38" r="1.55" fill="#5cc4c0" fill-opacity="0.72"/>
<circle cx="376.81" cy="249.35" r="1.55" fill="#8a4fa8" fill-opacity="0.72"/>
<circle cx="369.92" cy="233.59" r="1.55" fill="#5cc4c0" fill-opacity="0.72"/>
<circle cx="373.29" cy="247.85" r="1.55" fill="#5cc4c0" fill-opacity="0.72"/>
<circle cx="308.57" cy="234.74" r="1.55" fill="#f05a32" fill-opacity="0.72"/>
<circle cx="315.70" cy="215.44" r="1.55" fill="#f05a32" fill-opacity="0.72"/>
<circle cx="349.77" cy="246.19" r="1.55" fill="#8a4fa8" fill-opacity="0.72"/>
<circle cx="352.39" cy="243.37" r="1.55" fill="#5cc4c0" fill-opacity="0.72"/>
<circle cx="352.50" cy="236.41" r="1.55" fill="#8a4fa8" fill-opacity="0.72"/>
<circle cx="313.17" cy="216.60" r="1.55" fill="#f05a32" fill-opacity="0.72"/>
<circle cx="344.31" cy="210.78" r="1.55" fill="#f05a32" fill-opacity="0.72"/>
<circle cx="361.90" cy="200.58" r="1.55" fill="#f05a32" fill-opacity="0.72"/>
<circle cx="380.49" cy="228.84" r="1.55" fill="#8a4fa8" fill-opacity="0.72"/>
<circle cx="363.42" cy="200.02" r="1.55" fill="#f05a32" fill-opacity="0.72"/>
<circle cx="303.61" cy="223.54" r="1.55" fill="#f05a32" fill-opacity="0.72"/>
<circle cx="313.25" cy="237.08" r="1.55" fill="#f05a32" fill-opacity="0.72"/>
<circle cx="364.37" cy="192.14" r="1.55" fill="#f05a32" fill-opacity="0.72"/>
<circle cx="373.06" cy="244.88" r="1.55" fill="#5cc4c0" fill-opacity="0.72"/>
<circle cx="364.42" cy="208.52" r="1.55" fill="#5cc4c0" fill-opacity="0.72"/>
<circle cx="304.99" cy="222.81" r="1.55" fill="#8a4fa8" fill-opacity="0.72"/>
<circle cx="333.14" cy="213.35" r="1.55" fill="#f05a32" fill-opacity="0.72"/>
<circle cx="303.50" cy="227.49" r="1.55" fill="#f05a32" fill-opacity="0.72"/>
<circle cx="373.80" cy="247.72" r="1.55" fill="#8a4fa8" fill-opacity="0.72"/>
<circle cx="379.67" cy="253.97" r="1.55" fill="#5cc4c0" fill-opacity="0.72"/>
<circle cx="353.30" cy="227.16" r="1.55" fill="#5cc4c0" fill-opacity="0.72"/>
<circle cx="343.21" cy="215.95" r="1.55" fill="#f05a32" fill-opacity="0.72"/>
<path d="M298.80,176.50 V260.50 H384.60" fill="none" stroke="#303030" stroke-width="1.55"/>
<line x1="295.80" y1="180.50" x2="298.80" y2="180.50" stroke="#303030" stroke-width="1.15"/>
<text x="294.00" y="182.80" font-size="6.4" text-anchor="end" fill="#333" font-weight="normal">0.50</text>
<line x1="295.80" y1="200.50" x2="298.80" y2="200.50" stroke="#303030" stroke-width="1.15"/>
<text x="294.00" y="202.80" font-size="6.4" text-anchor="end" fill="#333" font-weight="normal">0.25</text>
<line x1="295.80" y1="220.50" x2="298.80" y2="220.50" stroke="#303030" stroke-width="1.15"/>
<text x="294.00" y="222.80" font-size="6.4" text-anchor="end" fill="#333" font-weight="normal">0.00</text>
<line x1="295.80" y1="240.50" x2="298.80" y2="240.50" stroke="#303030" stroke-width="1.15"/>
<text x="294.00" y="242.80" font-size="6.4" text-anchor="end" fill="#333" font-weight="normal">−0.25</text>
<line x1="313.50" y1="260.50" x2="313.50" y2="263.50" stroke="#303030" stroke-width="1.15"/>
<text x="313.50" y="271.90" font-size="6.4" text-anchor="middle" fill="#333" font-weight="normal">−0.4</text>
<line x1="330.50" y1="260.50" x2="330.50" y2="263.50" stroke="#303030" stroke-width="1.15"/>
<text x="330.50" y="271.90" font-size="6.4" text-anchor="middle" fill="#333" font-weight="normal">−0.2</text>
<line x1="347.50" y1="260.50" x2="347.50" y2="263.50" stroke="#303030" stroke-width="1.15"/>
<text x="347.50" y="271.90" font-size="6.4" text-anchor="middle" fill="#333" font-weight="normal">0.0</text>
<line x1="364.50" y1="260.50" x2="364.50" y2="263.50" stroke="#303030" stroke-width="1.15"/>
<text x="364.50" y="271.90" font-size="6.4" text-anchor="middle" fill="#333" font-weight="normal">0.2</text>
<line x1="381.50" y1="260.50" x2="381.50" y2="263.50" stroke="#303030" stroke-width="1.15"/>
<text x="381.50" y="271.90" font-size="6.4" text-anchor="middle" fill="#333" font-weight="normal">0.4</text>
<circle cx="480.89" cy="231.19" r="1.55" fill="#86c6d4" fill-opacity="0.72"/>
<circle cx="459.42" cy="216.74" r="1.55" fill="#e0887c" fill-opacity="0.72"/>
<circle cx="430.32" cy="207.03" r="1.55" fill="#1a9444" fill-opacity="0.72"/>
<circle cx="482.31" cy="228.07" r="1.55" fill="#b0849c" fill-opacity="0.72"/>
<circle cx="435.14" cy="212.67" r="1.55" fill="#1a9444" fill-opacity="0.72"/>
<circle cx="472.17" cy="212.77" r="1.55" fill="#6258ae" fill-opacity="0.72"/>
<circle cx="445.94" cy="225.83" r="1.55" fill="#5aa874" fill-opacity="0.72"/>
<circle cx="493.36" cy="256.27" r="1.55" fill="#b0849c" fill-opacity="0.72"/>
<circle cx="435.61" cy="236.71" r="1.55" fill="#e0887c" fill-opacity="0.72"/>
<circle cx="481.50" cy="192.40" r="1.55" fill="#5136a8" fill-opacity="0.72"/>
<circle cx="426.60" cy="217.02" r="1.55" fill="#1a9444" fill-opacity="0.72"/>
<circle cx="481.27" cy="233.65" r="1.55" fill="#b08aac" fill-opacity="0.72"/>
<circle cx="491.98" cy="254.79" r="1.55" fill="#e0887c" fill-opacity="0.72"/>
<circle cx="483.55" cy="182.79" r="1.55" fill="#86c6d4" fill-opacity="0.72"/>
<circle cx="472.36" cy="246.23" r="1.55" fill="#86c6d4" fill-opacity="0.72"/>
<circle cx="485.64" cy="246.82" r="1.55" fill="#e0887c" fill-opacity="0.72"/>
<circle cx="448.50" cy="244.77" r="1.55" fill="#5aa874" fill-opacity="0.72"/>
<circle cx="474.46" cy="245.67" r="1.55" fill="#e0887c" fill-opacity="0.72"/>
<circle cx="476.08" cy="200.28" r="1.55" fill="#8cc4d8" fill-opacity="0.72"/>
<circle cx="419.82" cy="225.31" r="1.55" fill="#1a9444" fill-opacity="0.72"/>
<circle cx="445.30" cy="209.54" r="1.55" fill="#1a9444" fill-opacity="0.72"/>
<circle cx="423.27" cy="221.54" r="1.55" fill="#1a9444" fill-opacity="0.72"/>
<circle cx="474.30" cy="209.53" r="1.55" fill="#8cc4d8" fill-opacity="0.72"/>
<circle cx="494.32" cy="255.53" r="1.55" fill="#b08aac" fill-opacity="0.72"/>
<circle cx="488.30" cy="242.78" r="1.55" fill="#dc9286" fill-opacity="0.72"/>
<circle cx="482.94" cy="210.57" r="1.55" fill="#e0887c" fill-opacity="0.72"/>
<circle cx="488.47" cy="244.56" r="1.55" fill="#e0887c" fill-opacity="0.72"/>
<circle cx="483.42" cy="236.44" r="1.55" fill="#b08aac" fill-opacity="0.72"/>
<circle cx="482.78" cy="234.07" r="1.55" fill="#e0887c" fill-opacity="0.72"/>
<circle cx="469.77" cy="224.27" r="1.55" fill="#5aa874" fill-opacity="0.72"/>
<circle cx="470.34" cy="214.26" r="1.55" fill="#86c6d4" fill-opacity="0.72"/>
<circle cx="482.67" cy="190.52" r="1.55" fill="#5136a8" fill-opacity="0.72"/>
<circle cx="424.19" cy="219.77" r="1.55" fill="#1a9444" fill-opacity="0.72"/>
<circle cx="468.89" cy="222.30" r="1.55" fill="#e0887c" fill-opacity="0.72"/>
<circle cx="477.68" cy="197.59" r="1.55" fill="#5136a8" fill-opacity="0.72"/>
<circle cx="484.20" cy="228.19" r="1.55" fill="#86c6d4" fill-opacity="0.72"/>
<circle cx="490.26" cy="254.23" r="1.55" fill="#b08aac" fill-opacity="0.72"/>
<circle cx="485.92" cy="242.14" r="1.55" fill="#b08aac" fill-opacity="0.72"/>
<circle cx="482.29" cy="185.04" r="1.55" fill="#5136a8" fill-opacity="0.72"/>
<circle cx="440.81" cy="220.26" r="1.55" fill="#5aa874" fill-opacity="0.72"/>
<circle cx="495.28" cy="220.79" r="1.55" fill="#e0887c" fill-opacity="0.72"/>
<circle cx="418.58" cy="227.45" r="1.55" fill="#1a9444" fill-opacity="0.72"/>
<circle cx="454.31" cy="219.84" r="1.55" fill="#5aa874" fill-opacity="0.72"/>
<circle cx="481.22" cy="228.63" r="1.55" fill="#e0887c" fill-opacity="0.72"/>
<circle cx="476.80" cy="198.14" r="1.55" fill="#6258ae" fill-opacity="0.72"/>
<circle cx="420.04" cy="223.64" r="1.55" fill="#1a9444" fill-opacity="0.72"/>
<circle cx="474.35" cy="205.92" r="1.55" fill="#e0887c" fill-opacity="0.72"/>
<circle cx="432.40" cy="214.23" r="1.55" fill="#1a9444" fill-opacity="0.72"/>
<circle cx="481.54" cy="199.56" r="1.55" fill="#86c6d4" fill-opacity="0.72"/>
<circle cx="474.18" cy="206.74" r="1.55" fill="#86c6d4" fill-opacity="0.72"/>
<circle cx="495.20" cy="228.31" r="1.55" fill="#c4c4c4" fill-opacity="0.72"/>
<circle cx="488.99" cy="249.31" r="1.55" fill="#b0849c" fill-opacity="0.72"/>
<circle cx="429.30" cy="211.70" r="1.55" fill="#1a9444" fill-opacity="0.72"/>
<circle cx="426.90" cy="217.21" r="1.55" fill="#1a9444" fill-opacity="0.72"/>
<circle cx="484.35" cy="236.54" r="1.55" fill="#dc9286" fill-opacity="0.72"/>
<circle cx="494.45" cy="221.22" r="1.55" fill="#e0887c" fill-opacity="0.72"/>
<circle cx="433.60" cy="212.88" r="1.55" fill="#1a9444" fill-opacity="0.72"/>
<circle cx="481.76" cy="184.66" r="1.55" fill="#5136a8" fill-opacity="0.72"/>
<circle cx="481.27" cy="232.16" r="1.55" fill="#c4c4c4" fill-opacity="0.72"/>
<circle cx="428.18" cy="215.81" r="1.55" fill="#1a9444" fill-opacity="0.72"/>
<circle cx="430.72" cy="218.54" r="1.55" fill="#1a9444" fill-opacity="0.72"/>
<circle cx="419.98" cy="224.75" r="1.55" fill="#1a9444" fill-opacity="0.72"/>
<circle cx="424.40" cy="239.17" r="1.55" fill="#1a9444" fill-opacity="0.72"/>
<circle cx="481.42" cy="237.42" r="1.55" fill="#b0849c" fill-opacity="0.72"/>
<circle cx="489.41" cy="251.49" r="1.55" fill="#b0849c" fill-opacity="0.72"/>
<circle cx="468.53" cy="234.89" r="1.55" fill="#5aa874" fill-opacity="0.72"/>
<circle cx="486.80" cy="241.67" r="1.55" fill="#e0887c" fill-opacity="0.72"/>
<circle cx="437.19" cy="244.62" r="1.55" fill="#1a9444" fill-opacity="0.72"/>
<circle cx="470.83" cy="240.59" r="1.55" fill="#5aa874" fill-opacity="0.72"/>
<circle cx="483.73" cy="241.38" r="1.55" fill="#dc9286" fill-opacity="0.72"/>
<circle cx="477.39" cy="196.14" r="1.55" fill="#5136a8" fill-opacity="0.72"/>
<circle cx="426.17" cy="218.08" r="1.55" fill="#1a9444" fill-opacity="0.72"/>
<circle cx="476.85" cy="202.34" r="1.55" fill="#e0887c" fill-opacity="0.72"/>
<circle cx="424.95" cy="221.15" r="1.55" fill="#1a9444" fill-opacity="0.72"/>
<circle cx="469.78" cy="228.38" r="1.55" fill="#86c6d4" fill-opacity="0.72"/>
<circle cx="438.33" cy="222.15" r="1.55" fill="#e0887c" fill-opacity="0.72"/>
<circle cx="483.10" cy="236.29" r="1.55" fill="#c4c4c4" fill-opacity="0.72"/>
<circle cx="485.09" cy="241.66" r="1.55" fill="#e0887c" fill-opacity="0.72"/>
<circle cx="479.23" cy="192.61" r="1.55" fill="#6258ae" fill-opacity="0.72"/>
<circle cx="482.50" cy="182.27" r="1.55" fill="#86c6d4" fill-opacity="0.72"/>
<circle cx="417.60" cy="225.17" r="1.55" fill="#1a9444" fill-opacity="0.72"/>
<circle cx="491.16" cy="219.21" r="1.55" fill="#b08aac" fill-opacity="0.72"/>
<circle cx="425.54" cy="219.23" r="1.55" fill="#1a9444" fill-opacity="0.72"/>
<circle cx="475.78" cy="201.15" r="1.55" fill="#86c6d4" fill-opacity="0.72"/>
<circle cx="422.89" cy="221.27" r="1.55" fill="#1a9444" fill-opacity="0.72"/>
<circle cx="483.54" cy="242.00" r="1.55" fill="#c4c4c4" fill-opacity="0.72"/>
<circle cx="482.22" cy="191.18" r="1.55" fill="#5136a8" fill-opacity="0.72"/>
<circle cx="483.15" cy="234.35" r="1.55" fill="#e0887c" fill-opacity="0.72"/>
<circle cx="449.18" cy="224.83" r="1.55" fill="#86c6d4" fill-opacity="0.72"/>
<circle cx="472.27" cy="214.75" r="1.55" fill="#e0887c" fill-opacity="0.72"/>
<circle cx="426.01" cy="220.22" r="1.55" fill="#1a9444" fill-opacity="0.72"/>
<circle cx="439.82" cy="211.70" r="1.55" fill="#1a9444" fill-opacity="0.72"/>
<circle cx="481.89" cy="189.22" r="1.55" fill="#6258ae" fill-opacity="0.72"/>
<circle cx="428.80" cy="215.43" r="1.55" fill="#1a9444" fill-opacity="0.72"/>
<circle cx="467.32" cy="239.64" r="1.55" fill="#86c6d4" fill-opacity="0.72"/>
<circle cx="439.38" cy="223.20" r="1.55" fill="#5aa874" fill-opacity="0.72"/>
<circle cx="475.63" cy="199.68" r="1.55" fill="#e0887c" fill-opacity="0.72"/>
<circle cx="463.01" cy="240.12" r="1.55" fill="#5aa874" fill-opacity="0.72"/>
<circle cx="431.08" cy="217.00" r="1.55" fill="#1a9444" fill-opacity="0.72"/>
<circle cx="478.49" cy="208.81" r="1.55" fill="#86c6d4" fill-opacity="0.72"/>
<circle cx="453.34" cy="229.90" r="1.55" fill="#c4c4c4" fill-opacity="0.72"/>
<circle cx="484.20" cy="232.76" r="1.55" fill="#e0887c" fill-opacity="0.72"/>
<circle cx="474.21" cy="208.36" r="1.55" fill="#e0887c" fill-opacity="0.72"/>
<circle cx="424.90" cy="222.54" r="1.55" fill="#1a9444" fill-opacity="0.72"/>
<circle cx="486.68" cy="230.12" r="1.55" fill="#c4c4c4" fill-opacity="0.72"/>
<circle cx="468.21" cy="222.53" r="1.55" fill="#c4c4c4" fill-opacity="0.72"/>
<circle cx="472.42" cy="210.86" r="1.55" fill="#86c6d4" fill-opacity="0.72"/>
<circle cx="478.13" cy="195.87" r="1.55" fill="#86c6d4" fill-opacity="0.72"/>
<circle cx="440.35" cy="245.77" r="1.55" fill="#e0887c" fill-opacity="0.72"/>
<circle cx="475.90" cy="199.80" r="1.55" fill="#8cc4d8" fill-opacity="0.72"/>
<circle cx="486.31" cy="239.03" r="1.55" fill="#dc9286" fill-opacity="0.72"/>
<circle cx="470.63" cy="224.07" r="1.55" fill="#86c6d4" fill-opacity="0.72"/>
<circle cx="428.90" cy="231.15" r="1.55" fill="#1a9444" fill-opacity="0.72"/>
<circle cx="451.22" cy="214.91" r="1.55" fill="#1a9444" fill-opacity="0.72"/>
<circle cx="443.19" cy="236.92" r="1.55" fill="#c4c4c4" fill-opacity="0.72"/>
<circle cx="482.51" cy="223.12" r="1.55" fill="#e0887c" fill-opacity="0.72"/>
<circle cx="456.29" cy="221.23" r="1.55" fill="#5aa874" fill-opacity="0.72"/>
<circle cx="474.02" cy="210.72" r="1.55" fill="#e0887c" fill-opacity="0.72"/>
<circle cx="447.60" cy="220.75" r="1.55" fill="#5aa874" fill-opacity="0.72"/>
<circle cx="481.13" cy="202.01" r="1.55" fill="#c4c4c4" fill-opacity="0.72"/>
<circle cx="434.17" cy="208.72" r="1.55" fill="#1a9444" fill-opacity="0.72"/>
<circle cx="488.05" cy="236.60" r="1.55" fill="#c4c4c4" fill-opacity="0.72"/>
<circle cx="493.62" cy="253.53" r="1.55" fill="#b0849c" fill-opacity="0.72"/>
<circle cx="471.05" cy="213.87" r="1.55" fill="#e0887c" fill-opacity="0.72"/>
<circle cx="476.69" cy="202.15" r="1.55" fill="#86c6d4" fill-opacity="0.72"/>
<circle cx="418.55" cy="225.89" r="1.55" fill="#1a9444" fill-opacity="0.72"/>
<circle cx="435.06" cy="244.85" r="1.55" fill="#1a9444" fill-opacity="0.72"/>
<circle cx="462.58" cy="233.60" r="1.55" fill="#c4c4c4" fill-opacity="0.72"/>
<circle cx="431.27" cy="213.95" r="1.55" fill="#dc9286" fill-opacity="0.72"/>
<circle cx="483.64" cy="239.41" r="1.55" fill="#86c6d4" fill-opacity="0.72"/>
<circle cx="470.17" cy="231.06" r="1.55" fill="#c4c4c4" fill-opacity="0.72"/>
<circle cx="435.99" cy="230.47" r="1.55" fill="#5aa874" fill-opacity="0.72"/>
<circle cx="475.58" cy="200.89" r="1.55" fill="#b0849c" fill-opacity="0.72"/>
<circle cx="425.21" cy="218.26" r="1.55" fill="#1a9444" fill-opacity="0.72"/>
<circle cx="456.36" cy="211.53" r="1.55" fill="#6258ae" fill-opacity="0.72"/>
<circle cx="470.57" cy="213.72" r="1.55" fill="#b0849c" fill-opacity="0.72"/>
<circle cx="490.85" cy="254.09" r="1.55" fill="#b08aac" fill-opacity="0.72"/>
<circle cx="489.37" cy="219.06" r="1.55" fill="#b08aac" fill-opacity="0.72"/>
<circle cx="482.68" cy="182.57" r="1.55" fill="#6258ae" fill-opacity="0.72"/>
<circle cx="481.25" cy="185.29" r="1.55" fill="#6258ae" fill-opacity="0.72"/>
<circle cx="480.63" cy="191.10" r="1.55" fill="#86c6d4" fill-opacity="0.72"/>
<circle cx="485.06" cy="209.60" r="1.55" fill="#6258ae" fill-opacity="0.72"/>
<circle cx="486.79" cy="242.95" r="1.55" fill="#e0887c" fill-opacity="0.72"/>
<circle cx="441.89" cy="240.15" r="1.55" fill="#c4c4c4" fill-opacity="0.72"/>
<circle cx="495.07" cy="216.03" r="1.55" fill="#b08aac" fill-opacity="0.72"/>
<circle cx="490.51" cy="250.48" r="1.55" fill="#b08aac" fill-opacity="0.72"/>
<circle cx="424.92" cy="219.67" r="1.55" fill="#1a9444" fill-opacity="0.72"/>
<circle cx="436.44" cy="213.93" r="1.55" fill="#1a9444" fill-opacity="0.72"/>
<circle cx="484.35" cy="228.76" r="1.55" fill="#e0887c" fill-opacity="0.72"/>
<circle cx="435.68" cy="231.45" r="1.55" fill="#5aa874" fill-opacity="0.72"/>
<circle cx="478.86" cy="197.81" r="1.55" fill="#5136a8" fill-opacity="0.72"/>
<circle cx="480.50" cy="230.78" r="1.55" fill="#c4c4c4" fill-opacity="0.72"/>
<circle cx="482.94" cy="192.61" r="1.55" fill="#5136a8" fill-opacity="0.72"/>
<circle cx="445.68" cy="222.69" r="1.55" fill="#e0887c" fill-opacity="0.72"/>
<circle cx="428.63" cy="217.82" r="1.55" fill="#1a9444" fill-opacity="0.72"/>
<circle cx="484.60" cy="233.22" r="1.55" fill="#e0887c" fill-opacity="0.72"/>
<circle cx="480.61" cy="190.37" r="1.55" fill="#5136a8" fill-opacity="0.72"/>
<circle cx="452.45" cy="210.52" r="1.55" fill="#dc9286" fill-opacity="0.72"/>
<circle cx="466.38" cy="221.13" r="1.55" fill="#e0887c" fill-opacity="0.72"/>
<circle cx="484.17" cy="245.63" r="1.55" fill="#e0887c" fill-opacity="0.72"/>
<circle cx="455.76" cy="212.17" r="1.55" fill="#6258ae" fill-opacity="0.72"/>
<circle cx="482.39" cy="228.87" r="1.55" fill="#86c6d4" fill-opacity="0.72"/>
<circle cx="439.69" cy="211.38" r="1.55" fill="#1a9444" fill-opacity="0.72"/>
<circle cx="489.97" cy="239.45" r="1.55" fill="#e0887c" fill-opacity="0.72"/>
<circle cx="471.41" cy="218.06" r="1.55" fill="#86c6d4" fill-opacity="0.72"/>
<circle cx="427.31" cy="217.17" r="1.55" fill="#1a9444" fill-opacity="0.72"/>
<circle cx="485.76" cy="248.94" r="1.55" fill="#c4c4c4" fill-opacity="0.72"/>
<circle cx="447.71" cy="238.04" r="1.55" fill="#5aa874" fill-opacity="0.72"/>
<circle cx="481.85" cy="194.00" r="1.55" fill="#5136a8" fill-opacity="0.72"/>
<circle cx="486.09" cy="250.10" r="1.55" fill="#e0887c" fill-opacity="0.72"/>
<circle cx="422.39" cy="226.98" r="1.55" fill="#1a9444" fill-opacity="0.72"/>
<circle cx="485.68" cy="181.68" r="1.55" fill="#5136a8" fill-opacity="0.72"/>
<circle cx="486.20" cy="182.03" r="1.55" fill="#86c6d4" fill-opacity="0.72"/>
<circle cx="467.91" cy="243.16" r="1.55" fill="#c4c4c4" fill-opacity="0.72"/>
<circle cx="421.60" cy="228.05" r="1.55" fill="#1a9444" fill-opacity="0.72"/>
<circle cx="424.94" cy="221.52" r="1.55" fill="#1a9444" fill-opacity="0.72"/>
<circle cx="483.19" cy="239.31" r="1.55" fill="#c4c4c4" fill-opacity="0.72"/>
<circle cx="421.01" cy="224.09" r="1.55" fill="#1a9444" fill-opacity="0.72"/>
<circle cx="479.49" cy="198.93" r="1.55" fill="#8cc4d8" fill-opacity="0.72"/>
<circle cx="484.36" cy="228.29" r="1.55" fill="#86c6d4" fill-opacity="0.72"/>
<circle cx="472.06" cy="208.21" r="1.55" fill="#86c6d4" fill-opacity="0.72"/>
<circle cx="485.55" cy="243.72" r="1.55" fill="#b0849c" fill-opacity="0.72"/>
<circle cx="493.73" cy="220.30" r="1.55" fill="#e0887c" fill-opacity="0.72"/>
<circle cx="435.07" cy="210.20" r="1.55" fill="#1a9444" fill-opacity="0.72"/>
<circle cx="483.47" cy="243.86" r="1.55" fill="#e0887c" fill-opacity="0.72"/>
<circle cx="482.37" cy="229.85" r="1.55" fill="#86c6d4" fill-opacity="0.72"/>
<circle cx="471.44" cy="209.99" r="1.55" fill="#8cc4d8" fill-opacity="0.72"/>
<circle cx="450.88" cy="208.71" r="1.55" fill="#1a9444" fill-opacity="0.72"/>
<circle cx="452.63" cy="207.86" r="1.55" fill="#1a9444" fill-opacity="0.72"/>
<circle cx="494.76" cy="216.01" r="1.55" fill="#e0887c" fill-opacity="0.72"/>
<circle cx="428.09" cy="234.37" r="1.55" fill="#1a9444" fill-opacity="0.72"/>
<circle cx="463.65" cy="218.98" r="1.55" fill="#1a9444" fill-opacity="0.72"/>
<circle cx="467.47" cy="214.66" r="1.55" fill="#e0887c" fill-opacity="0.72"/>
<circle cx="481.04" cy="232.45" r="1.55" fill="#e0887c" fill-opacity="0.72"/>
<circle cx="480.45" cy="194.71" r="1.55" fill="#6258ae" fill-opacity="0.72"/>
<circle cx="486.69" cy="234.51" r="1.55" fill="#b08aac" fill-opacity="0.72"/>
<circle cx="436.46" cy="233.83" r="1.55" fill="#5aa874" fill-opacity="0.72"/>
<circle cx="451.26" cy="208.36" r="1.55" fill="#1a9444" fill-opacity="0.72"/>
<circle cx="491.01" cy="239.29" r="1.55" fill="#b08aac" fill-opacity="0.72"/>
<circle cx="425.17" cy="233.76" r="1.55" fill="#1a9444" fill-opacity="0.72"/>
<circle cx="482.25" cy="229.43" r="1.55" fill="#b0849c" fill-opacity="0.72"/>
<circle cx="483.35" cy="242.37" r="1.55" fill="#86c6d4" fill-opacity="0.72"/>
<circle cx="474.25" cy="202.69" r="1.55" fill="#e0887c" fill-opacity="0.72"/>
<circle cx="461.55" cy="220.12" r="1.55" fill="#e0887c" fill-opacity="0.72"/>
<circle cx="485.79" cy="242.95" r="1.55" fill="#b08aac" fill-opacity="0.72"/>
<circle cx="476.29" cy="195.40" r="1.55" fill="#5136a8" fill-opacity="0.72"/>
<circle cx="479.59" cy="193.15" r="1.55" fill="#6258ae" fill-opacity="0.72"/>
<circle cx="482.27" cy="231.57" r="1.55" fill="#e0887c" fill-opacity="0.72"/>
<circle cx="478.31" cy="231.36" r="1.55" fill="#b0849c" fill-opacity="0.72"/>
<circle cx="434.86" cy="245.06" r="1.55" fill="#1a9444" fill-opacity="0.72"/>
<circle cx="466.38" cy="217.42" r="1.55" fill="#e0887c" fill-opacity="0.72"/>
<circle cx="471.51" cy="210.62" r="1.55" fill="#e0887c" fill-opacity="0.72"/>
<circle cx="491.23" cy="254.86" r="1.55" fill="#e0887c" fill-opacity="0.72"/>
<circle cx="432.47" cy="209.33" r="1.55" fill="#1a9444" fill-opacity="0.72"/>
<circle cx="417.67" cy="225.91" r="1.55" fill="#1a9444" fill-opacity="0.72"/>
<circle cx="418.72" cy="224.90" r="1.55" fill="#1a9444" fill-opacity="0.72"/>
<circle cx="447.44" cy="208.52" r="1.55" fill="#e0887c" fill-opacity="0.72"/>
<circle cx="489.14" cy="242.37" r="1.55" fill="#c4c4c4" fill-opacity="0.72"/>
<circle cx="475.95" cy="200.91" r="1.55" fill="#86c6d4" fill-opacity="0.72"/>
<circle cx="473.09" cy="204.75" r="1.55" fill="#6258ae" fill-opacity="0.72"/>
<circle cx="494.32" cy="255.15" r="1.55" fill="#e0887c" fill-opacity="0.72"/>
<circle cx="484.08" cy="241.71" r="1.55" fill="#b08aac" fill-opacity="0.72"/>
<circle cx="494.02" cy="226.95" r="1.55" fill="#b08aac" fill-opacity="0.72"/>
<circle cx="481.07" cy="193.84" r="1.55" fill="#6258ae" fill-opacity="0.72"/>
<circle cx="486.71" cy="244.79" r="1.55" fill="#e0887c" fill-opacity="0.72"/>
<circle cx="490.97" cy="247.52" r="1.55" fill="#c4c4c4" fill-opacity="0.72"/>
<circle cx="487.69" cy="251.14" r="1.55" fill="#b08aac" fill-opacity="0.72"/>
<circle cx="490.67" cy="247.10" r="1.55" fill="#dc9286" fill-opacity="0.72"/>
<circle cx="437.83" cy="245.56" r="1.55" fill="#1a9444" fill-opacity="0.72"/>
<circle cx="483.05" cy="180.14" r="1.55" fill="#6258ae" fill-opacity="0.72"/>
<circle cx="467.38" cy="216.34" r="1.55" fill="#e0887c" fill-opacity="0.72"/>
<circle cx="485.86" cy="228.03" r="1.55" fill="#b08aac" fill-opacity="0.72"/>
<circle cx="482.44" cy="206.35" r="1.55" fill="#86c6d4" fill-opacity="0.72"/>
<circle cx="471.62" cy="224.81" r="1.55" fill="#e0887c" fill-opacity="0.72"/>
<circle cx="478.86" cy="226.65" r="1.55" fill="#86c6d4" fill-opacity="0.72"/>
<circle cx="481.26" cy="227.61" r="1.55" fill="#e0887c" fill-opacity="0.72"/>
<circle cx="494.44" cy="232.91" r="1.55" fill="#e0887c" fill-opacity="0.72"/>
<circle cx="433.73" cy="213.26" r="1.55" fill="#1a9444" fill-opacity="0.72"/>
<circle cx="465.09" cy="212.79" r="1.55" fill="#86c6d4" fill-opacity="0.72"/>
<circle cx="484.14" cy="208.48" r="1.55" fill="#6258ae" fill-opacity="0.72"/>
<circle cx="494.82" cy="251.80" r="1.55" fill="#86c6d4" fill-opacity="0.72"/>
<circle cx="468.38" cy="234.06" r="1.55" fill="#e0887c" fill-opacity="0.72"/>
<circle cx="461.68" cy="246.32" r="1.55" fill="#5aa874" fill-opacity="0.72"/>
<circle cx="426.51" cy="218.05" r="1.55" fill="#1a9444" fill-opacity="0.72"/>
<circle cx="476.06" cy="212.71" r="1.55" fill="#8cc4d8" fill-opacity="0.72"/>
<circle cx="487.82" cy="241.95" r="1.55" fill="#c4c4c4" fill-opacity="0.72"/>
<circle cx="426.06" cy="220.28" r="1.55" fill="#1a9444" fill-opacity="0.72"/>
<circle cx="474.70" cy="200.11" r="1.55" fill="#86c6d4" fill-opacity="0.72"/>
<circle cx="486.85" cy="239.36" r="1.55" fill="#c4c4c4" fill-opacity="0.72"/>
<circle cx="485.68" cy="244.67" r="1.55" fill="#b0849c" fill-opacity="0.72"/>
<circle cx="479.52" cy="199.59" r="1.55" fill="#86c6d4" fill-opacity="0.72"/>
<circle cx="483.31" cy="236.95" r="1.55" fill="#c4c4c4" fill-opacity="0.72"/>
<circle cx="480.37" cy="236.69" r="1.55" fill="#dc9286" fill-opacity="0.72"/>
<circle cx="484.02" cy="226.68" r="1.55" fill="#b0849c" fill-opacity="0.72"/>
<circle cx="461.74" cy="227.75" r="1.55" fill="#5aa874" fill-opacity="0.72"/>
<circle cx="484.30" cy="241.17" r="1.55" fill="#e0887c" fill-opacity="0.72"/>
<circle cx="483.20" cy="237.98" r="1.55" fill="#e0887c" fill-opacity="0.72"/>
<circle cx="476.49" cy="195.35" r="1.55" fill="#86c6d4" fill-opacity="0.72"/>
<circle cx="490.03" cy="251.04" r="1.55" fill="#b08aac" fill-opacity="0.72"/>
<circle cx="492.03" cy="225.94" r="1.55" fill="#e0887c" fill-opacity="0.72"/>
<circle cx="481.69" cy="187.36" r="1.55" fill="#5136a8" fill-opacity="0.72"/>
<circle cx="488.04" cy="247.40" r="1.55" fill="#e0887c" fill-opacity="0.72"/>
<circle cx="448.82" cy="210.18" r="1.55" fill="#c4c4c4" fill-opacity="0.72"/>
<circle cx="430.81" cy="213.27" r="1.55" fill="#1a9444" fill-opacity="0.72"/>
<circle cx="483.27" cy="232.97" r="1.55" fill="#86c6d4" fill-opacity="0.72"/>
<circle cx="444.85" cy="238.87" r="1.55" fill="#b0849c" fill-opacity="0.72"/>
<circle cx="440.70" cy="210.43" r="1.55" fill="#1a9444" fill-opacity="0.72"/>
<circle cx="494.96" cy="253.66" r="1.55" fill="#86c6d4" fill-opacity="0.72"/>
<circle cx="477.85" cy="241.53" r="1.55" fill="#e0887c" fill-opacity="0.72"/>
<circle cx="480.03" cy="245.44" r="1.55" fill="#b0849c" fill-opacity="0.72"/>
<circle cx="482.25" cy="186.24" r="1.55" fill="#5136a8" fill-opacity="0.72"/>
<circle cx="481.92" cy="226.38" r="1.55" fill="#b08aac" fill-opacity="0.72"/>
<circle cx="467.51" cy="220.57" r="1.55" fill="#e0887c" fill-opacity="0.72"/>
<circle cx="422.98" cy="221.89" r="1.55" fill="#1a9444" fill-opacity="0.72"/>
<circle cx="466.35" cy="241.36" r="1.55" fill="#5aa874" fill-opacity="0.72"/>
<circle cx="484.95" cy="233.77" r="1.55" fill="#b0849c" fill-opacity="0.72"/>
<circle cx="461.28" cy="239.61" r="1.55" fill="#5aa874" fill-opacity="0.72"/>
<circle cx="491.45" cy="246.90" r="1.55" fill="#b08aac" fill-opacity="0.72"/>
<circle cx="417.30" cy="226.03" r="1.55" fill="#1a9444" fill-opacity="0.72"/>
<circle cx="486.97" cy="244.98" r="1.55" fill="#86c6d4" fill-opacity="0.72"/>
<circle cx="452.48" cy="214.19" r="1.55" fill="#1a9444" fill-opacity="0.72"/>
<circle cx="421.44" cy="224.13" r="1.55" fill="#1a9444" fill-opacity="0.72"/>
<circle cx="421.11" cy="224.16" r="1.55" fill="#1a9444" fill-opacity="0.72"/>
<circle cx="473.87" cy="206.10" r="1.55" fill="#b0849c" fill-opacity="0.72"/>
<circle cx="450.59" cy="238.44" r="1.55" fill="#5aa874" fill-opacity="0.72"/>
<circle cx="477.78" cy="203.18" r="1.55" fill="#86c6d4" fill-opacity="0.72"/>
<circle cx="478.02" cy="241.32" r="1.55" fill="#1a9444" fill-opacity="0.72"/>
<circle cx="473.63" cy="210.07" r="1.55" fill="#8cc4d8" fill-opacity="0.72"/>
<circle cx="434.60" cy="211.19" r="1.55" fill="#1a9444" fill-opacity="0.72"/>
<circle cx="486.82" cy="239.78" r="1.55" fill="#86c6d4" fill-opacity="0.72"/>
<circle cx="472.83" cy="210.86" r="1.55" fill="#86c6d4" fill-opacity="0.72"/>
<circle cx="491.39" cy="250.26" r="1.55" fill="#86c6d4" fill-opacity="0.72"/>
<circle cx="459.53" cy="211.27" r="1.55" fill="#1a9444" fill-opacity="0.72"/>
<circle cx="424.57" cy="221.22" r="1.55" fill="#1a9444" fill-opacity="0.72"/>
<circle cx="471.35" cy="221.29" r="1.55" fill="#1a9444" fill-opacity="0.72"/>
<circle cx="478.42" cy="233.53" r="1.55" fill="#e0887c" fill-opacity="0.72"/>
<circle cx="490.95" cy="226.09" r="1.55" fill="#e0887c" fill-opacity="0.72"/>
<circle cx="492.38" cy="247.99" r="1.55" fill="#e0887c" fill-opacity="0.72"/>
<circle cx="465.75" cy="221.76" r="1.55" fill="#e0887c" fill-opacity="0.72"/>
<circle cx="487.72" cy="236.52" r="1.55" fill="#86c6d4" fill-opacity="0.72"/>
<circle cx="459.27" cy="217.33" r="1.55" fill="#e0887c" fill-opacity="0.72"/>
<circle cx="489.97" cy="241.60" r="1.55" fill="#b08aac" fill-opacity="0.72"/>
<circle cx="447.18" cy="208.42" r="1.55" fill="#1a9444" fill-opacity="0.72"/>
<circle cx="482.95" cy="230.63" r="1.55" fill="#1a9444" fill-opacity="0.72"/>
<circle cx="483.30" cy="186.80" r="1.55" fill="#5136a8" fill-opacity="0.72"/>
<circle cx="424.83" cy="214.44" r="1.55" fill="#1a9444" fill-opacity="0.72"/>
<circle cx="427.87" cy="221.89" r="1.55" fill="#1a9444" fill-opacity="0.72"/>
<circle cx="438.97" cy="245.75" r="1.55" fill="#1a9444" fill-opacity="0.72"/>
<circle cx="436.77" cy="210.20" r="1.55" fill="#1a9444" fill-opacity="0.72"/>
<circle cx="486.66" cy="247.30" r="1.55" fill="#dc9286" fill-opacity="0.72"/>
<circle cx="480.48" cy="190.64" r="1.55" fill="#5136a8" fill-opacity="0.72"/>
<circle cx="426.33" cy="222.90" r="1.55" fill="#1a9444" fill-opacity="0.72"/>
<circle cx="433.83" cy="203.80" r="1.55" fill="#1a9444" fill-opacity="0.72"/>
<circle cx="470.37" cy="242.01" r="1.55" fill="#86c6d4" fill-opacity="0.72"/>
<circle cx="483.51" cy="235.27" r="1.55" fill="#b0849c" fill-opacity="0.72"/>
<circle cx="469.03" cy="245.88" r="1.55" fill="#e0887c" fill-opacity="0.72"/>
<circle cx="483.00" cy="240.74" r="1.55" fill="#dc9286" fill-opacity="0.72"/>
<circle cx="484.37" cy="240.96" r="1.55" fill="#e0887c" fill-opacity="0.72"/>
<circle cx="491.47" cy="249.82" r="1.55" fill="#86c6d4" fill-opacity="0.72"/>
<circle cx="433.64" cy="210.70" r="1.55" fill="#1a9444" fill-opacity="0.72"/>
<circle cx="480.52" cy="228.42" r="1.55" fill="#c4c4c4" fill-opacity="0.72"/>
<circle cx="445.34" cy="232.76" r="1.55" fill="#b0849c" fill-opacity="0.72"/>
<circle cx="425.31" cy="220.64" r="1.55" fill="#1a9444" fill-opacity="0.72"/>
<circle cx="436.74" cy="216.19" r="1.55" fill="#5aa874" fill-opacity="0.72"/>
<circle cx="423.15" cy="217.21" r="1.55" fill="#1a9444" fill-opacity="0.72"/>
<circle cx="477.21" cy="199.00" r="1.55" fill="#86c6d4" fill-opacity="0.72"/>
<circle cx="464.63" cy="234.07" r="1.55" fill="#c4c4c4" fill-opacity="0.72"/>
<circle cx="419.49" cy="222.19" r="1.55" fill="#1a9444" fill-opacity="0.72"/>
<circle cx="485.48" cy="239.25" r="1.55" fill="#dc9286" fill-opacity="0.72"/>
<circle cx="473.88" cy="210.18" r="1.55" fill="#e0887c" fill-opacity="0.72"/>
<circle cx="486.11" cy="246.73" r="1.55" fill="#e0887c" fill-opacity="0.72"/>
<circle cx="486.52" cy="256.61" r="1.55" fill="#c4c4c4" fill-opacity="0.72"/>
<circle cx="449.23" cy="206.95" r="1.55" fill="#6258ae" fill-opacity="0.72"/>
<circle cx="441.60" cy="218.21" r="1.55" fill="#86c6d4" fill-opacity="0.72"/>
<circle cx="478.58" cy="195.48" r="1.55" fill="#e0887c" fill-opacity="0.72"/>
<circle cx="470.61" cy="242.33" r="1.55" fill="#1a9444" fill-opacity="0.72"/>
<circle cx="484.18" cy="237.67" r="1.55" fill="#e0887c" fill-opacity="0.72"/>
<circle cx="443.44" cy="237.88" r="1.55" fill="#c4c4c4" fill-opacity="0.72"/>
<circle cx="471.35" cy="211.10" r="1.55" fill="#e0887c" fill-opacity="0.72"/>
<circle cx="484.62" cy="229.59" r="1.55" fill="#c4c4c4" fill-opacity="0.72"/>
<circle cx="484.73" cy="234.31" r="1.55" fill="#c4c4c4" fill-opacity="0.72"/>
<circle cx="481.84" cy="211.91" r="1.55" fill="#86c6d4" fill-opacity="0.72"/>
<circle cx="450.79" cy="230.01" r="1.55" fill="#5aa874" fill-opacity="0.72"/>
<circle cx="429.29" cy="238.95" r="1.55" fill="#1a9444" fill-opacity="0.72"/>
<circle cx="478.01" cy="199.17" r="1.55" fill="#86c6d4" fill-opacity="0.72"/>
<circle cx="427.96" cy="231.74" r="1.55" fill="#1a9444" fill-opacity="0.72"/>
<circle cx="496.33" cy="242.73" r="1.55" fill="#e0887c" fill-opacity="0.72"/>
<circle cx="479.46" cy="226.63" r="1.55" fill="#c4c4c4" fill-opacity="0.72"/>
<circle cx="426.84" cy="217.92" r="1.55" fill="#c4c4c4" fill-opacity="0.72"/>
<circle cx="472.55" cy="211.44" r="1.55" fill="#6258ae" fill-opacity="0.72"/>
<circle cx="425.62" cy="221.92" r="1.55" fill="#1a9444" fill-opacity="0.72"/>
<circle cx="482.87" cy="206.79" r="1.55" fill="#c4c4c4" fill-opacity="0.72"/>
<circle cx="484.58" cy="187.25" r="1.55" fill="#86c6d4" fill-opacity="0.72"/>
<circle cx="426.84" cy="219.50" r="1.55" fill="#1a9444" fill-opacity="0.72"/>
<circle cx="438.87" cy="207.93" r="1.55" fill="#1a9444" fill-opacity="0.72"/>
<circle cx="457.62" cy="209.41" r="1.55" fill="#c4c4c4" fill-opacity="0.72"/>
<circle cx="473.81" cy="207.00" r="1.55" fill="#86c6d4" fill-opacity="0.72"/>
<circle cx="445.78" cy="213.34" r="1.55" fill="#1a9444" fill-opacity="0.72"/>
<circle cx="474.24" cy="206.88" r="1.55" fill="#86c6d4" fill-opacity="0.72"/>
<circle cx="481.15" cy="190.46" r="1.55" fill="#5136a8" fill-opacity="0.72"/>
<circle cx="495.82" cy="226.86" r="1.55" fill="#c4c4c4" fill-opacity="0.72"/>
<circle cx="477.71" cy="193.74" r="1.55" fill="#86c6d4" fill-opacity="0.72"/>
<circle cx="450.23" cy="213.88" r="1.55" fill="#1a9444" fill-opacity="0.72"/>
<circle cx="421.29" cy="220.00" r="1.55" fill="#1a9444" fill-opacity="0.72"/>
<circle cx="487.53" cy="246.75" r="1.55" fill="#e0887c" fill-opacity="0.72"/>
<circle cx="436.13" cy="246.60" r="1.55" fill="#c4c4c4" fill-opacity="0.72"/>
<circle cx="433.02" cy="211.83" r="1.55" fill="#1a9444" fill-opacity="0.72"/>
<circle cx="482.87" cy="187.33" r="1.55" fill="#5136a8" fill-opacity="0.72"/>
<circle cx="484.12" cy="242.42" r="1.55" fill="#dc9286" fill-opacity="0.72"/>
<circle cx="428.13" cy="217.45" r="1.55" fill="#c4c4c4" fill-opacity="0.72"/>
<circle cx="483.06" cy="241.08" r="1.55" fill="#e0887c" fill-opacity="0.72"/>
<circle cx="480.71" cy="244.75" r="1.55" fill="#e0887c" fill-opacity="0.72"/>
<circle cx="440.09" cy="208.92" r="1.55" fill="#e0887c" fill-opacity="0.72"/>
<circle cx="423.65" cy="219.82" r="1.55" fill="#1a9444" fill-opacity="0.72"/>
<circle cx="420.14" cy="226.46" r="1.55" fill="#1a9444" fill-opacity="0.72"/>
<circle cx="474.43" cy="202.13" r="1.55" fill="#86c6d4" fill-opacity="0.72"/>
<circle cx="483.51" cy="198.99" r="1.55" fill="#e0887c" fill-opacity="0.72"/>
<circle cx="476.22" cy="202.51" r="1.55" fill="#6258ae" fill-opacity="0.72"/>
<circle cx="485.63" cy="246.92" r="1.55" fill="#b08aac" fill-opacity="0.72"/>
<circle cx="490.42" cy="234.14" r="1.55" fill="#e0887c" fill-opacity="0.72"/>
<circle cx="492.73" cy="252.81" r="1.55" fill="#b08aac" fill-opacity="0.72"/>
<circle cx="470.38" cy="232.20" r="1.55" fill="#5aa874" fill-opacity="0.72"/>
<circle cx="479.61" cy="208.23" r="1.55" fill="#86c6d4" fill-opacity="0.72"/>
<circle cx="492.49" cy="251.07" r="1.55" fill="#e0887c" fill-opacity="0.72"/>
<circle cx="475.92" cy="203.08" r="1.55" fill="#e0887c" fill-opacity="0.72"/>
<circle cx="487.40" cy="246.56" r="1.55" fill="#dc9286" fill-opacity="0.72"/>
<circle cx="430.87" cy="218.10" r="1.55" fill="#1a9444" fill-opacity="0.72"/>
<circle cx="487.04" cy="252.03" r="1.55" fill="#e0887c" fill-opacity="0.72"/>
<circle cx="434.82" cy="211.98" r="1.55" fill="#1a9444" fill-opacity="0.72"/>
<circle cx="423.11" cy="225.66" r="1.55" fill="#1a9444" fill-opacity="0.72"/>
<circle cx="489.30" cy="242.13" r="1.55" fill="#e0887c" fill-opacity="0.72"/>
<circle cx="425.50" cy="221.94" r="1.55" fill="#1a9444" fill-opacity="0.72"/>
<circle cx="475.32" cy="205.23" r="1.55" fill="#8cc4d8" fill-opacity="0.72"/>
<circle cx="486.88" cy="243.06" r="1.55" fill="#e0887c" fill-opacity="0.72"/>
<circle cx="425.99" cy="219.31" r="1.55" fill="#1a9444" fill-opacity="0.72"/>
<circle cx="475.30" cy="204.17" r="1.55" fill="#b0849c" fill-opacity="0.72"/>
<circle cx="418.09" cy="226.19" r="1.55" fill="#1a9444" fill-opacity="0.72"/>
<circle cx="488.88" cy="235.93" r="1.55" fill="#e0887c" fill-opacity="0.72"/>
<circle cx="483.42" cy="237.41" r="1.55" fill="#86c6d4" fill-opacity="0.72"/>
<circle cx="483.74" cy="233.62" r="1.55" fill="#c4c4c4" fill-opacity="0.72"/>
<circle cx="483.98" cy="226.65" r="1.55" fill="#dc9286" fill-opacity="0.72"/>
<circle cx="480.94" cy="237.28" r="1.55" fill="#b0849c" fill-opacity="0.72"/>
<circle cx="476.03" cy="231.97" r="1.55" fill="#e0887c" fill-opacity="0.72"/>
<circle cx="476.37" cy="201.44" r="1.55" fill="#b0849c" fill-opacity="0.72"/>
<circle cx="481.19" cy="229.62" r="1.55" fill="#e0887c" fill-opacity="0.72"/>
<circle cx="488.21" cy="250.62" r="1.55" fill="#b0849c" fill-opacity="0.72"/>
<circle cx="422.94" cy="222.06" r="1.55" fill="#1a9444" fill-opacity="0.72"/>
<circle cx="480.45" cy="230.82" r="1.55" fill="#dc9286" fill-opacity="0.72"/>
<circle cx="485.81" cy="243.27" r="1.55" fill="#86c6d4" fill-opacity="0.72"/>
<circle cx="488.47" cy="253.89" r="1.55" fill="#c4c4c4" fill-opacity="0.72"/>
<circle cx="479.54" cy="193.44" r="1.55" fill="#6258ae" fill-opacity="0.72"/>
<circle cx="480.30" cy="227.92" r="1.55" fill="#dc9286" fill-opacity="0.72"/>
<circle cx="492.62" cy="254.51" r="1.55" fill="#e0887c" fill-opacity="0.72"/>
<circle cx="472.01" cy="215.43" r="1.55" fill="#e0887c" fill-opacity="0.72"/>
<circle cx="429.79" cy="216.28" r="1.55" fill="#1a9444" fill-opacity="0.72"/>
<circle cx="484.84" cy="240.96" r="1.55" fill="#b08aac" fill-opacity="0.72"/>
<circle cx="468.59" cy="240.01" r="1.55" fill="#1a9444" fill-opacity="0.72"/>
<circle cx="471.68" cy="211.00" r="1.55" fill="#8cc4d8" fill-opacity="0.72"/>
<circle cx="478.88" cy="245.57" r="1.55" fill="#c4c4c4" fill-opacity="0.72"/>
<circle cx="483.56" cy="232.47" r="1.55" fill="#86c6d4" fill-opacity="0.72"/>
<circle cx="426.93" cy="218.13" r="1.55" fill="#1a9444" fill-opacity="0.72"/>
<circle cx="481.77" cy="186.99" r="1.55" fill="#6258ae" fill-opacity="0.72"/>
<circle cx="464.87" cy="219.89" r="1.55" fill="#1a9444" fill-opacity="0.72"/>
<circle cx="430.50" cy="211.67" r="1.55" fill="#1a9444" fill-opacity="0.72"/>
<circle cx="471.10" cy="212.13" r="1.55" fill="#8cc4d8" fill-opacity="0.72"/>
<circle cx="480.78" cy="234.87" r="1.55" fill="#c4c4c4" fill-opacity="0.72"/>
<circle cx="483.22" cy="185.05" r="1.55" fill="#5136a8" fill-opacity="0.72"/>
<circle cx="429.14" cy="214.55" r="1.55" fill="#1a9444" fill-opacity="0.72"/>
<circle cx="488.20" cy="253.51" r="1.55" fill="#dc9286" fill-opacity="0.72"/>
<circle cx="476.64" cy="199.40" r="1.55" fill="#86c6d4" fill-opacity="0.72"/>
<circle cx="479.49" cy="194.77" r="1.55" fill="#5136a8" fill-opacity="0.72"/>
<circle cx="483.68" cy="239.66" r="1.55" fill="#e0887c" fill-opacity="0.72"/>
<circle cx="420.87" cy="224.43" r="1.55" fill="#1a9444" fill-opacity="0.72"/>
<circle cx="478.32" cy="199.60" r="1.55" fill="#e0887c" fill-opacity="0.72"/>
<circle cx="485.17" cy="236.31" r="1.55" fill="#e0887c" fill-opacity="0.72"/>
<circle cx="464.44" cy="241.66" r="1.55" fill="#86c6d4" fill-opacity="0.72"/>
<circle cx="463.34" cy="234.59" r="1.55" fill="#5aa874" fill-opacity="0.72"/>
<circle cx="493.01" cy="252.36" r="1.55" fill="#c4c4c4" fill-opacity="0.72"/>
<circle cx="450.64" cy="211.13" r="1.55" fill="#1a9444" fill-opacity="0.72"/>
<circle cx="480.29" cy="229.94" r="1.55" fill="#b08aac" fill-opacity="0.72"/>
<circle cx="455.65" cy="230.14" r="1.55" fill="#5aa874" fill-opacity="0.72"/>
<circle cx="488.68" cy="236.29" r="1.55" fill="#b08aac" fill-opacity="0.72"/>
<circle cx="477.15" cy="201.73" r="1.55" fill="#86c6d4" fill-opacity="0.72"/>
<circle cx="445.45" cy="215.08" r="1.55" fill="#5aa874" fill-opacity="0.72"/>
<circle cx="462.70" cy="220.01" r="1.55" fill="#5aa874" fill-opacity="0.72"/>
<circle cx="430.62" cy="214.78" r="1.55" fill="#1a9444" fill-opacity="0.72"/>
<circle cx="470.48" cy="213.97" r="1.55" fill="#8cc4d8" fill-opacity="0.72"/>
<circle cx="475.66" cy="205.61" r="1.55" fill="#6258ae" fill-opacity="0.72"/>
<circle cx="480.58" cy="188.79" r="1.55" fill="#5136a8" fill-opacity="0.72"/>
<circle cx="488.54" cy="245.77" r="1.55" fill="#dc9286" fill-opacity="0.72"/>
<circle cx="483.18" cy="184.26" r="1.55" fill="#5136a8" fill-opacity="0.72"/>
<circle cx="429.40" cy="214.24" r="1.55" fill="#1a9444" fill-opacity="0.72"/>
<circle cx="455.62" cy="208.29" r="1.55" fill="#1a9444" fill-opacity="0.72"/>
<circle cx="425.75" cy="239.06" r="1.55" fill="#1a9444" fill-opacity="0.72"/>
<circle cx="456.04" cy="216.50" r="1.55" fill="#5aa874" fill-opacity="0.72"/>
<circle cx="436.41" cy="211.97" r="1.55" fill="#c4c4c4" fill-opacity="0.72"/>
<circle cx="475.86" cy="243.67" r="1.55" fill="#e0887c" fill-opacity="0.72"/>
<circle cx="487.32" cy="236.79" r="1.55" fill="#e0887c" fill-opacity="0.72"/>
<circle cx="486.86" cy="250.44" r="1.55" fill="#c4c4c4" fill-opacity="0.72"/>
<circle cx="484.21" cy="231.97" r="1.55" fill="#c4c4c4" fill-opacity="0.72"/>
<circle cx="469.98" cy="208.76" r="1.55" fill="#e0887c" fill-opacity="0.72"/>
<circle cx="486.08" cy="243.08" r="1.55" fill="#b0849c" fill-opacity="0.72"/>
<circle cx="453.35" cy="210.74" r="1.55" fill="#1a9444" fill-opacity="0.72"/>
<circle cx="481.75" cy="228.30" r="1.55" fill="#c4c4c4" fill-opacity="0.72"/>
<circle cx="472.30" cy="208.41" r="1.55" fill="#e0887c" fill-opacity="0.72"/>
<circle cx="482.90" cy="229.31" r="1.55" fill="#c4c4c4" fill-opacity="0.72"/>
<circle cx="483.03" cy="237.83" r="1.55" fill="#dc9286" fill-opacity="0.72"/>
<circle cx="489.93" cy="251.36" r="1.55" fill="#c4c4c4" fill-opacity="0.72"/>
<circle cx="493.05" cy="251.21" r="1.55" fill="#dc9286" fill-opacity="0.72"/>
<circle cx="428.72" cy="214.14" r="1.55" fill="#1a9444" fill-opacity="0.72"/>
<circle cx="481.14" cy="233.92" r="1.55" fill="#dc9286" fill-opacity="0.72"/>
<circle cx="485.56" cy="235.53" r="1.55" fill="#e0887c" fill-opacity="0.72"/>
<circle cx="420.50" cy="227.31" r="1.55" fill="#1a9444" fill-opacity="0.72"/>
<circle cx="474.10" cy="213.10" r="1.55" fill="#86c6d4" fill-opacity="0.72"/>
<circle cx="484.08" cy="182.42" r="1.55" fill="#6258ae" fill-opacity="0.72"/>
<circle cx="471.31" cy="210.09" r="1.55" fill="#6258ae" fill-opacity="0.72"/>
<circle cx="428.28" cy="221.89" r="1.55" fill="#1a9444" fill-opacity="0.72"/>
<circle cx="472.35" cy="204.55" r="1.55" fill="#b0849c" fill-opacity="0.72"/>
<circle cx="463.20" cy="245.55" r="1.55" fill="#c4c4c4" fill-opacity="0.72"/>
<circle cx="473.06" cy="207.10" r="1.55" fill="#e0887c" fill-opacity="0.72"/>
<circle cx="489.80" cy="229.21" r="1.55" fill="#e0887c" fill-opacity="0.72"/>
<circle cx="478.80" cy="196.68" r="1.55" fill="#6258ae" fill-opacity="0.72"/>
<circle cx="492.11" cy="254.47" r="1.55" fill="#e0887c" fill-opacity="0.72"/>
<circle cx="487.51" cy="249.65" r="1.55" fill="#b0849c" fill-opacity="0.72"/>
<circle cx="484.57" cy="196.05" r="1.55" fill="#86c6d4" fill-opacity="0.72"/>
<circle cx="484.02" cy="232.17" r="1.55" fill="#b0849c" fill-opacity="0.72"/>
<circle cx="454.10" cy="214.23" r="1.55" fill="#5aa874" fill-opacity="0.72"/>
<circle cx="485.40" cy="184.90" r="1.55" fill="#5136a8" fill-opacity="0.72"/>
<circle cx="433.73" cy="211.19" r="1.55" fill="#dc9286" fill-opacity="0.72"/>
<circle cx="423.42" cy="223.63" r="1.55" fill="#1a9444" fill-opacity="0.72"/>
<circle cx="441.03" cy="228.13" r="1.55" fill="#b0849c" fill-opacity="0.72"/>
<circle cx="430.55" cy="210.02" r="1.55" fill="#1a9444" fill-opacity="0.72"/>
<circle cx="431.55" cy="212.90" r="1.55" fill="#1a9444" fill-opacity="0.72"/>
<circle cx="483.61" cy="230.99" r="1.55" fill="#b0849c" fill-opacity="0.72"/>
<circle cx="488.94" cy="238.35" r="1.55" fill="#e0887c" fill-opacity="0.72"/>
<circle cx="425.47" cy="219.84" r="1.55" fill="#1a9444" fill-opacity="0.72"/>
<circle cx="471.79" cy="207.96" r="1.55" fill="#e0887c" fill-opacity="0.72"/>
<circle cx="473.33" cy="212.03" r="1.55" fill="#86c6d4" fill-opacity="0.72"/>
<circle cx="482.35" cy="233.38" r="1.55" fill="#e0887c" fill-opacity="0.72"/>
<circle cx="491.81" cy="249.35" r="1.55" fill="#b08aac" fill-opacity="0.72"/>
<circle cx="484.92" cy="233.59" r="1.55" fill="#e0887c" fill-opacity="0.72"/>
<circle cx="488.29" cy="247.85" r="1.55" fill="#86c6d4" fill-opacity="0.72"/>
<circle cx="423.57" cy="234.74" r="1.55" fill="#1a9444" fill-opacity="0.72"/>
<circle cx="430.70" cy="215.44" r="1.55" fill="#c4c4c4" fill-opacity="0.72"/>
<circle cx="464.77" cy="246.19" r="1.55" fill="#e0887c" fill-opacity="0.72"/>
<circle cx="467.39" cy="243.37" r="1.55" fill="#b0849c" fill-opacity="0.72"/>
<circle cx="467.50" cy="236.41" r="1.55" fill="#b0849c" fill-opacity="0.72"/>
<circle cx="428.17" cy="216.60" r="1.55" fill="#1a9444" fill-opacity="0.72"/>
<circle cx="459.31" cy="210.78" r="1.55" fill="#6258ae" fill-opacity="0.72"/>
<circle cx="476.90" cy="200.58" r="1.55" fill="#8cc4d8" fill-opacity="0.72"/>
<circle cx="495.49" cy="228.84" r="1.55" fill="#e0887c" fill-opacity="0.72"/>
<circle cx="478.42" cy="200.02" r="1.55" fill="#c4c4c4" fill-opacity="0.72"/>
<circle cx="418.61" cy="223.54" r="1.55" fill="#1a9444" fill-opacity="0.72"/>
<circle cx="428.25" cy="237.08" r="1.55" fill="#1a9444" fill-opacity="0.72"/>
<circle cx="479.37" cy="192.14" r="1.55" fill="#5136a8" fill-opacity="0.72"/>
<circle cx="488.06" cy="244.88" r="1.55" fill="#dc9286" fill-opacity="0.72"/>
<circle cx="479.42" cy="208.52" r="1.55" fill="#c4c4c4" fill-opacity="0.72"/>
<circle cx="419.99" cy="222.81" r="1.55" fill="#1a9444" fill-opacity="0.72"/>
<circle cx="448.14" cy="213.35" r="1.55" fill="#1a9444" fill-opacity="0.72"/>
<circle cx="418.50" cy="227.49" r="1.55" fill="#c4c4c4" fill-opacity="0.72"/>
<circle cx="488.80" cy="247.72" r="1.55" fill="#dc9286" fill-opacity="0.72"/>
<circle cx="494.67" cy="253.97" r="1.55" fill="#e0887c" fill-opacity="0.72"/>
<circle cx="468.30" cy="227.16" r="1.55" fill="#1a9444" fill-opacity="0.72"/>
<circle cx="458.21" cy="215.95" r="1.55" fill="#1a9444" fill-opacity="0.72"/>
<path d="M413.80,176.50 V260.50 H499.60" fill="none" stroke="#303030" stroke-width="1.55"/>
<line x1="410.80" y1="180.50" x2="413.80" y2="180.50" stroke="#303030" stroke-width="1.15"/>
<text x="409.00" y="182.80" font-size="6.4" text-anchor="end" fill="#333" font-weight="normal">0.50</text>
<line x1="410.80" y1="200.50" x2="413.80" y2="200.50" stroke="#303030" stroke-width="1.15"/>
<text x="409.00" y="202.80" font-size="6.4" text-anchor="end" fill="#333" font-weight="normal">0.25</text>
<line x1="410.80" y1="220.50" x2="413.80" y2="220.50" stroke="#303030" stroke-width="1.15"/>
<text x="409.00" y="222.80" font-size="6.4" text-anchor="end" fill="#333" font-weight="normal">0.00</text>
<line x1="410.80" y1="240.50" x2="413.80" y2="240.50" stroke="#303030" stroke-width="1.15"/>
<text x="409.00" y="242.80" font-size="6.4" text-anchor="end" fill="#333" font-weight="normal">−0.25</text>
<line x1="428.50" y1="260.50" x2="428.50" y2="263.50" stroke="#303030" stroke-width="1.15"/>
<text x="428.50" y="271.90" font-size="6.4" text-anchor="middle" fill="#333" font-weight="normal">−0.4</text>
<line x1="445.50" y1="260.50" x2="445.50" y2="263.50" stroke="#303030" stroke-width="1.15"/>
<text x="445.50" y="271.90" font-size="6.4" text-anchor="middle" fill="#333" font-weight="normal">−0.2</text>
<line x1="462.50" y1="260.50" x2="462.50" y2="263.50" stroke="#303030" stroke-width="1.15"/>
<text x="462.50" y="271.90" font-size="6.4" text-anchor="middle" fill="#333" font-weight="normal">0.0</text>
<line x1="479.50" y1="260.50" x2="479.50" y2="263.50" stroke="#303030" stroke-width="1.15"/>
<text x="479.50" y="271.90" font-size="6.4" text-anchor="middle" fill="#333" font-weight="normal">0.2</text>
<line x1="496.50" y1="260.50" x2="496.50" y2="263.50" stroke="#303030" stroke-width="1.15"/>
<text x="496.50" y="271.90" font-size="6.4" text-anchor="middle" fill="#333" font-weight="normal">0.4</text>
<text x="342.00" y="38.70" font-size="8.6" text-anchor="middle" fill="#222" font-weight="normal" textLength="60" lengthAdjust="spacingAndGlyphs" stroke="#222" stroke-width="0.16">Cluster (k-means)</text>
<text x="456.30" y="28.60" font-size="8.6" text-anchor="middle" fill="#222" font-weight="normal" textLength="40" lengthAdjust="spacingAndGlyphs" stroke="#222" stroke-width="0.16">Tocilizumab</text>
<text x="456.30" y="38.60" font-size="8.6" text-anchor="middle" fill="#222" font-weight="normal" textLength="37.5" lengthAdjust="spacingAndGlyphs" stroke="#222" stroke-width="0.16">prophylaxis</text>
<text x="342.70" y="163.50" font-size="8.7" text-anchor="middle" fill="#222" font-weight="normal" textLength="79.5" lengthAdjust="spacingAndGlyphs" stroke="#222" stroke-width="0.16">Microbiome-perturbing</text>
<text x="342.90" y="172.00" font-size="8.7" text-anchor="middle" fill="#222" font-weight="normal" textLength="36.75" lengthAdjust="spacingAndGlyphs" stroke="#222" stroke-width="0.16">Antibiotics</text>
<text x="456.00" y="161.90" font-size="8.7" text-anchor="middle" fill="#222" font-weight="normal" textLength="77" lengthAdjust="spacingAndGlyphs" stroke="#222" stroke-width="0.16">Most Common Genus</text>
<text x="302.80" y="182.00" font-size="6.2" text-anchor="start" fill="#1a1a1a" font-weight="normal" textLength="57" lengthAdjust="spacingAndGlyphs" stroke="#1a1a1a" stroke-width="0.04">within previous 4 days</text>
<text x="304.50" y="82.10" font-size="6" text-anchor="middle" fill="#222" font-weight="normal">1</text>
<text x="323.40" y="69.20" font-size="6" text-anchor="middle" fill="#222" font-weight="normal">2</text>
<text x="375.80" y="53.70" font-size="6" text-anchor="middle" fill="#222" font-weight="normal">3</text>
<text x="362.60" y="122.90" font-size="6" text-anchor="middle" fill="#222" font-weight="normal">4</text>
<text x="300.80" y="147.80" font-size="6.3" text-anchor="start" fill="#1a1a1a" font-weight="normal" textLength="20" lengthAdjust="spacingAndGlyphs" stroke="#1a1a1a" stroke-width="0.08">Cluster</text>
<circle cx="325.3" cy="145.5" r="2.1" fill="#d8506a" fill-opacity="0.9"/>
<text x="332.30" y="148.00" font-size="6.8" text-anchor="middle" fill="#1a1a1a" font-weight="normal" stroke="#1a1a1a" stroke-width="0.1">1</text>
<circle cx="340.7" cy="145.5" r="2.1" fill="#8fc28d" fill-opacity="0.9"/>
<text x="348.30" y="148.00" font-size="6.8" text-anchor="middle" fill="#1a1a1a" font-weight="normal" stroke="#1a1a1a" stroke-width="0.1">2</text>
<circle cx="356.8" cy="145.5" r="2.1" fill="#f3a08a" fill-opacity="0.9"/>
<text x="364.60" y="148.00" font-size="6.8" text-anchor="middle" fill="#1a1a1a" font-weight="normal" stroke="#1a1a1a" stroke-width="0.1">3</text>
<circle cx="373.3" cy="145.5" r="2.1" fill="#5a9aa8" fill-opacity="0.9"/>
<text x="381.00" y="148.00" font-size="6.8" text-anchor="middle" fill="#1a1a1a" font-weight="normal" stroke="#1a1a1a" stroke-width="0.1">4</text>
<circle cx="432.8" cy="145.5" r="2.1" fill="#a193c8"/>
<text x="437.60" y="147.90" font-size="6.5" text-anchor="start" fill="#1a1a1a" font-weight="normal" textLength="10.5" lengthAdjust="spacingAndGlyphs" stroke="#1a1a1a" stroke-width="0.1">Toci</text>
<circle cx="456.2" cy="145.5" r="2.1" fill="#efe58a"/>
<text x="460.90" y="147.90" font-size="6.5" text-anchor="start" fill="#1a1a1a" font-weight="normal" textLength="20" lengthAdjust="spacingAndGlyphs" stroke="#1a1a1a" stroke-width="0.1">No Toci</text>
<text x="267.60" y="151.40" font-size="8.3" text-anchor="middle" fill="#222" font-weight="normal" textLength="31.5" lengthAdjust="spacingAndGlyphs" transform="rotate(-90 267.6 151.4)" dy="3.1" stroke="#222" stroke-width="0.32">PC2 [12.0%]</text>
<text x="383.20" y="283.00" font-size="8.3" text-anchor="start" fill="#222" font-weight="normal" textLength="31.7" lengthAdjust="spacingAndGlyphs" stroke="#222" stroke-width="0.32">PC1 [24.6%]</text>
<text x="316.50" y="293.20" font-size="6.0" text-anchor="start" fill="#1a1a1a" font-weight="normal" textLength="51.5" lengthAdjust="spacingAndGlyphs" stroke="#1a1a1a" stroke-width="0.06">Antibiotic exposure:</text>
<circle cx="318.8" cy="300.5" r="2.1" fill="#e89a88"/>
<text x="324.00" y="302.50" font-size="6.0" text-anchor="start" fill="#1a1a1a" font-weight="normal" textLength="38.6" lengthAdjust="spacingAndGlyphs" stroke="#1a1a1a" stroke-width="0.06">High/moderate</text>
<circle cx="318.8" cy="310" r="2.1" fill="#8ccccb"/>
<text x="324.00" y="312.00" font-size="6.0" text-anchor="start" fill="#1a1a1a" font-weight="normal" textLength="10.9" lengthAdjust="spacingAndGlyphs" stroke="#1a1a1a" stroke-width="0.06">Low</text>
<circle cx="318.8" cy="319.6" r="2.1" fill="#a583b6"/>
<text x="324.00" y="321.60" font-size="6.0" text-anchor="start" fill="#1a1a1a" font-weight="normal" textLength="13.8" lengthAdjust="spacingAndGlyphs" stroke="#1a1a1a" stroke-width="0.06">None</text>
<circle cx="401" cy="291.2" r="2.1" fill="#bfe0ea"/>
<text x="405.80" y="293.00" font-size="6.0" text-anchor="start" fill="#1a1a1a" font-weight="normal" textLength="32.94" lengthAdjust="spacingAndGlyphs" stroke="#1a1a1a" stroke-width="0.06">Akkermansia</text>
<circle cx="401" cy="300.8" r="2.1" fill="#f0cfc8"/>
<text x="405.80" y="302.60" font-size="6.0" text-anchor="start" fill="#1a1a1a" font-weight="normal" textLength="17.43" lengthAdjust="spacingAndGlyphs" stroke="#1a1a1a" stroke-width="0.06">Blautia</text>
<circle cx="401" cy="310.4" r="2.1" fill="#d3b3c3"/>
<text x="405.80" y="312.20" font-size="6.0" text-anchor="start" fill="#1a1a1a" font-weight="normal" textLength="39.28" lengthAdjust="spacingAndGlyphs" stroke="#1a1a1a" stroke-width="0.06">Bifidobacterium</text>
<circle cx="401" cy="320" r="2.1" fill="#5aa57a"/>
<text x="405.80" y="321.80" font-size="6.0" text-anchor="start" fill="#1a1a1a" font-weight="normal" textLength="34.53" lengthAdjust="spacingAndGlyphs" stroke="#1a1a1a" stroke-width="0.06">Enterococcus</text>
<circle cx="401" cy="329.6" r="2.1" fill="#8f85bd"/>
<text x="405.80" y="331.40" font-size="6.0" text-anchor="start" fill="#1a1a1a" font-weight="normal" textLength="32.95" lengthAdjust="spacingAndGlyphs" stroke="#1a1a1a" stroke-width="0.06">Lactobacillus</text>
<circle cx="401" cy="339.2" r="2.1" fill="#dcdcdc"/>
<text x="405.80" y="341.00" font-size="6.0" text-anchor="start" fill="#1a1a1a" font-weight="normal" textLength="12.99" lengthAdjust="spacingAndGlyphs" stroke="#1a1a1a" stroke-width="0.06">other</text>
<circle cx="452" cy="291.2" r="2.1" fill="#bfe3ea"/>
<text x="457.00" y="293.00" font-size="6.0" text-anchor="start" fill="#1a1a1a" font-weight="normal" textLength="55.92" lengthAdjust="spacingAndGlyphs" stroke="#1a1a1a" stroke-width="0.06">Erysipelatoclostridium</text>
<circle cx="452" cy="300.8" r="2.1" fill="#f3cdc6"/>
<text x="457.00" y="302.60" font-size="6.0" text-anchor="start" fill="#1a1a1a" font-weight="normal" textLength="32.6" lengthAdjust="spacingAndGlyphs" stroke="#1a1a1a" stroke-width="0.06">Pediococcus</text>
<circle cx="452" cy="310.4" r="2.1" fill="#d6bdd0"/>
<text x="457.00" y="312.20" font-size="6.0" text-anchor="start" fill="#1a1a1a" font-weight="normal" textLength="30.36" lengthAdjust="spacingAndGlyphs" stroke="#1a1a1a" stroke-width="0.06">Bacteroides</text>
<circle cx="452" cy="320" r="2.1" fill="#62a57e"/>
<text x="457.00" y="321.80" font-size="6.0" text-anchor="start" fill="#1a1a1a" font-weight="normal" textLength="34.19" lengthAdjust="spacingAndGlyphs" stroke="#1a1a1a" stroke-width="0.06">Drancourtella</text>
<circle cx="452" cy="329.6" r="2.1" fill="#9a8cc2"/>
<text x="457.00" y="331.40" font-size="6.0" text-anchor="start" fill="#1a1a1a" font-weight="normal" textLength="29.72" lengthAdjust="spacingAndGlyphs" stroke="#1a1a1a" stroke-width="0.06">Escherichia</text>
<circle cx="452" cy="339.2" r="2.1" fill="#dedede"/>
<text x="457.00" y="341.00" font-size="6.0" text-anchor="start" fill="#1a1a1a" font-weight="normal" textLength="36.43" lengthAdjust="spacingAndGlyphs" stroke="#1a1a1a" stroke-width="0.06">Streptococcus</text>
</svg>
<div class="bd" style="left:0;top:0;width:520px;height:1px;background:#6a6a6a"></div>
<div class="bd" style="left:0;top:0;width:1px;height:349px;background:#5c5c5c"></div>
<div class="bd" style="right:0;top:0;width:1px;height:349px;background:#636363"></div>
<div class="bd" style="left:0;bottom:0;width:520px;height:1px;background:#606060"></div>
</div></body></html>
